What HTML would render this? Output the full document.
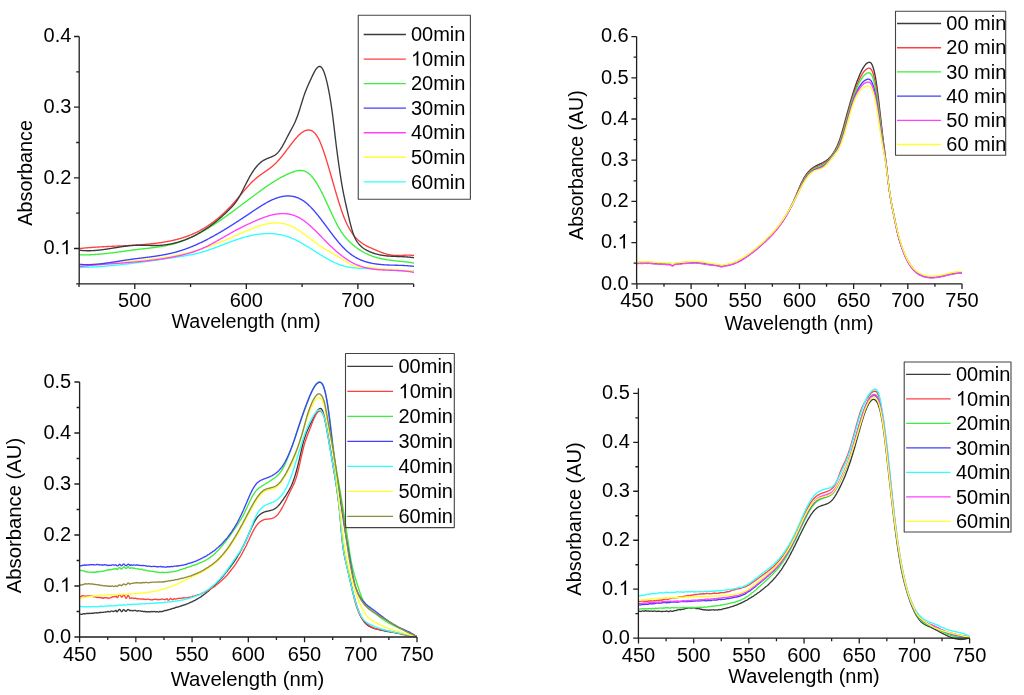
<!DOCTYPE html>
<html><head><meta charset="utf-8"><title>Absorbance spectra</title>
<style>
html,body{margin:0;padding:0;background:#fff;}
body{width:1024px;height:695px;overflow:hidden;}
svg{display:block;will-change:transform;}
text{font-family:"Liberation Sans", sans-serif;font-size:20px;fill:#000;}
.h{fill:transparent;}
</style></head><body>
<svg width="1024" height="695" viewBox="0 0 1024 695" stroke-linejoin="round" stroke-linecap="butt">
<rect width="1024" height="695" fill="#fff"/>
<g>
<path d="M79.5 267.5 80 267.49 80.5 267.48 81 267.47 81.5 267.46 82 267.44 82.5 267.43 83 267.41 83.5 267.4 84 267.38 84.5 267.37 85 267.35 85.5 267.33 86 267.31 86.5 267.29 87 267.27 87.5 267.25 88 267.23 88.5 267.21 89 267.19 89.5 267.16 90 267.14 90.5 267.12 91 267.09 91.5 267.07 92 267.04 92.5 267.01 93 266.99 93.5 266.96 94 266.93 94.5 266.9 95 266.87 95.5 266.84 96 266.81 96.5 266.78 97 266.75 97.5 266.72 98 266.68 98.5 266.65 99 266.62 99.5 266.58 100 266.55 100.5 266.51 101 266.47 101.5 266.44 102 266.4 102.5 266.36 103 266.32 103.5 266.29 104 266.25 104.5 266.21 105 266.17 105.5 266.13 106 266.09 106.5 266.04 107 266 107.5 265.96 108 265.92 108.5 265.87 109 265.83 109.5 265.78 110 265.74 110.5 265.69 111 265.65 111.5 265.6 112 265.55 112.5 265.51 113 265.46 113.5 265.41 114 265.36 114.5 265.31 115 265.27 115.5 265.22 116 265.17 116.5 265.11 117 265.06 117.5 265.01 118 264.96 118.5 264.91 119 264.86 119.5 264.8 120 264.75 120.5 264.7 121 264.64 121.5 264.59 122 264.53 122.5 264.48 123 264.42 123.5 264.37 124 264.31 124.5 264.25 125 264.19 125.5 264.14 126 264.08 126.5 264.02 127 263.96 127.5 263.9 128 263.85 128.5 263.79 129 263.73 129.5 263.67 130 263.61 130.5 263.55 131 263.48 131.5 263.42 132 263.36 132.5 263.3 133 263.24 133.5 263.17 134 263.11 134.5 263.05 135 262.99 135.5 262.92 136 262.86 136.5 262.79 137 262.73 137.5 262.67 138 262.6 138.5 262.54 139 262.47 139.5 262.4 140 262.34 140.5 262.27 141 262.21 141.5 262.14 142 262.07 142.5 262.01 143 261.94 143.5 261.87 144 261.8 144.5 261.73 145 261.67 145.5 261.6 146 261.53 146.5 261.46 147 261.39 147.5 261.32 148 261.25 148.5 261.18 149 261.12 149.5 261.05 150 260.98 150.5 260.91 151 260.83 151.5 260.76 152 260.69 152.5 260.62 153 260.55 153.5 260.48 154 260.41 154.5 260.34 155 260.27 155.5 260.2 156 260.12 156.5 260.05 157 259.98 157.5 259.91 158 259.84 158.5 259.76 159 259.69 159.5 259.62 160 259.55 160.5 259.47 161 259.4 161.5 259.33 162 259.26 162.5 259.18 163 259.11 163.5 259.04 164 258.96 164.5 258.89 165 258.82 165.5 258.74 166 258.67 166.5 258.6 167 258.52 167.5 258.45 168 258.38 168.5 258.3 169 258.23 169.5 258.16 170 258.08 170.5 258.01 171 257.93 171.5 257.86 172 257.79 172.5 257.71 173 257.64 173.5 257.57 174 257.49 174.5 257.42 175 257.35 175.5 257.27 176 257.2 176.5 257.12 177 257.05 177.5 256.98 178 256.9 178.5 256.83 179 256.75 179.5 256.68 180 256.6 180.5 256.53 181 256.45 181.5 256.37 182 256.29 182.5 256.22 183 256.14 183.5 256.06 184 255.98 184.5 255.89 185 255.81 185.5 255.73 186 255.64 186.5 255.56 187 255.47 187.5 255.38 188 255.29 188.5 255.2 189 255.11 189.5 255.02 190 254.93 190.5 254.83 191 254.73 191.5 254.64 192 254.53 192.5 254.43 193 254.33 193.5 254.22 194 254.12 194.5 254.01 195 253.9 195.5 253.78 196 253.67 196.5 253.55 197 253.43 197.5 253.31 198 253.19 198.5 253.07 199 252.94 199.5 252.81 200 252.68 200.5 252.54 201 252.41 201.5 252.27 202 252.12 202.5 251.98 203 251.83 203.5 251.68 204 251.53 204.5 251.38 205 251.22 205.5 251.07 206 250.91 206.5 250.75 207 250.58 207.5 250.42 208 250.25 208.5 250.08 209 249.91 209.5 249.74 210 249.57 210.5 249.4 211 249.22 211.5 249.04 212 248.86 212.5 248.68 213 248.5 213.5 248.32 214 248.14 214.5 247.95 215 247.77 215.5 247.58 216 247.4 216.5 247.21 217 247.02 217.5 246.83 218 246.64 218.5 246.45 219 246.26 219.5 246.07 220 245.88 220.5 245.69 221 245.5 221.5 245.3 222 245.11 222.5 244.92 223 244.73 223.5 244.53 224 244.34 224.5 244.15 225 243.96 225.5 243.76 226 243.57 226.5 243.38 227 243.19 227.5 243 228 242.81 228.5 242.62 229 242.43 229.5 242.24 230 242.06 230.5 241.87 231 241.68 231.5 241.5 232 241.32 232.5 241.13 233 240.95 233.5 240.77 234 240.59 234.5 240.41 235 240.24 235.5 240.06 236 239.89 236.5 239.71 237 239.54 237.5 239.37 238 239.21 238.5 239.04 239 238.88 239.5 238.71 240 238.55 240.5 238.39 241 238.24 241.5 238.08 242 237.93 242.5 237.78 243 237.63 243.5 237.48 244 237.34 244.5 237.2 245 237.06 245.5 236.92 246 236.79 246.5 236.65 247 236.52 247.5 236.39 248 236.27 248.5 236.14 249 236.02 249.5 235.9 250 235.79 250.5 235.67 251 235.56 251.5 235.45 252 235.35 252.5 235.25 253 235.15 253.5 235.05 254 234.95 254.5 234.86 255 234.77 255.5 234.69 256 234.6 256.5 234.52 257 234.45 257.5 234.37 258 234.3 258.5 234.23 259 234.17 259.5 234.1 260 234.05 260.5 233.99 261 233.94 261.5 233.89 262 233.84 262.5 233.8 263 233.76 263.5 233.72 264 233.69 264.5 233.66 265 233.64 265.5 233.62 266 233.6 266.5 233.58 267 233.57 267.5 233.56 268 233.56 268.5 233.56 269 233.56 269.5 233.57 270 233.58 270.5 233.6 271 233.61 271.5 233.64 272 233.66 272.5 233.69 273 233.73 273.5 233.77 274 233.81 274.5 233.86 275 233.91 275.5 233.96 276 234.02 276.5 234.09 277 234.15 277.5 234.23 278 234.3 278.5 234.38 279 234.47 279.5 234.56 280 234.65 280.5 234.75 281 234.85 281.5 234.96 282 235.07 282.5 235.19 283 235.31 283.5 235.43 284 235.56 284.5 235.7 285 235.84 285.5 235.98 286 236.13 286.5 236.29 287 236.45 287.5 236.61 288 236.78 288.5 236.96 289 237.14 289.5 237.32 290 237.51 290.5 237.7 291 237.9 291.5 238.11 292 238.32 292.5 238.53 293 238.75 293.5 238.97 294 239.2 294.5 239.43 295 239.67 295.5 239.91 296 240.15 296.5 240.4 297 240.65 297.5 240.9 298 241.16 298.5 241.42 299 241.69 299.5 241.96 300 242.23 300.5 242.5 301 242.78 301.5 243.06 302 243.35 302.5 243.63 303 243.92 303.5 244.21 304 244.5 304.5 244.8 305 245.1 305.5 245.39 306 245.7 306.5 246 307 246.3 307.5 246.61 308 246.92 308.5 247.22 309 247.53 309.5 247.85 310 248.16 310.5 248.47 311 248.78 311.5 249.1 312 249.41 312.5 249.73 313 250.05 313.5 250.36 314 250.68 314.5 251 315 251.31 315.5 251.63 316 251.95 316.5 252.26 317 252.58 317.5 252.89 318 253.21 318.5 253.52 319 253.83 319.5 254.14 320 254.46 320.5 254.76 321 255.07 321.5 255.38 322 255.69 322.5 255.99 323 256.29 323.5 256.59 324 256.89 324.5 257.19 325 257.48 325.5 257.77 326 258.06 326.5 258.35 327 258.63 327.5 258.92 328 259.2 328.5 259.47 329 259.75 329.5 260.02 330 260.28 330.5 260.55 331 260.81 331.5 261.07 332 261.32 332.5 261.57 333 261.82 333.5 262.06 334 262.3 334.5 262.53 335 262.76 335.5 262.99 336 263.21 336.5 263.43 337 263.64 337.5 263.85 338 264.05 338.5 264.25 339 264.44 339.5 264.63 340 264.81 340.5 264.99 341 265.16 341.5 265.32 342 265.48 342.5 265.64 343 265.79 343.5 265.93 344 266.07 344.5 266.2 345 266.33 345.5 266.45 346 266.56 346.5 266.67 347 266.78 347.5 266.88 348 266.98 348.5 267.07 349 267.16 349.5 267.24 350 267.32 350.5 267.4 351 267.47 351.5 267.54 352 267.61 352.5 267.67 353 267.73 353.5 267.78 354 267.83 354.5 267.88 355 267.93 355.5 267.97 356 268.02 356.5 268.05 357 268.09 357.5 268.12 358 268.16 358.5 268.19 359 268.22 359.5 268.24 360 268.27 360.5 268.29 361 268.31 361.5 268.34 362 268.36 362.5 268.37 363 268.39 363.5 268.41 364 268.43 364.5 268.45 365 268.46 365.5 268.48 366 268.49 366.5 268.51 367 268.53 367.5 268.55 368 268.56 368.5 268.58 369 268.6 369.5 268.62 370 268.64 370.5 268.66 371 268.68 371.5 268.71 372 268.73 372.5 268.76 373 268.78 373.5 268.81 374 268.84 374.5 268.87 375 268.89 375.5 268.92 376 268.96 376.5 268.99 377 269.02 377.5 269.05 378 269.09 378.5 269.12 379 269.15 379.5 269.19 380 269.23 380.5 269.26 381 269.3 381.5 269.34 382 269.38 382.5 269.42 383 269.46 383.5 269.5 384 269.54 384.5 269.58 385 269.62 385.5 269.66 386 269.71 386.5 269.75 387 269.79 387.5 269.83 388 269.88 388.5 269.92 389 269.96 389.5 270.01 390 270.05 390.5 270.09 391 270.14 391.5 270.18 392 270.22 392.5 270.26 393 270.3 393.5 270.35 394 270.39 394.5 270.43 395 270.47 395.5 270.51 396 270.54 396.5 270.58 397 270.62 397.5 270.65 398 270.69 398.5 270.72 399 270.75 399.5 270.79 400 270.82 400.5 270.85 401 270.87 401.5 270.9 402 270.93 402.5 270.95 403 270.97 403.5 270.99 404 271.01 404.5 271.03 405 271.05 405.5 271.06 406 271.08 406.5 271.09 407 271.1 407.5 271.11 408 271.11 408.5 271.11 409 271.12 409.5 271.12 410 271.11 410.5 271.11 411 271.1 411.5 271.09 412 271.08 412.5 271.07 413 271.05 413.5 271.03 414 271.01" stroke="#30ffff" stroke-width="1.35" fill="none"/>
<path d="M79.5 265.51 80 265.46 80.5 265.4 81 265.35 81.5 265.3 82 265.24 82.5 265.19 83 265.14 83.5 265.09 84 265.04 84.5 264.99 85 264.94 85.5 264.89 86 264.84 86.5 264.79 87 264.74 87.5 264.69 88 264.65 88.5 264.6 89 264.55 89.5 264.51 90 264.46 90.5 264.42 91 264.37 91.5 264.33 92 264.28 92.5 264.24 93 264.19 93.5 264.15 94 264.11 94.5 264.07 95 264.02 95.5 263.98 96 263.94 96.5 263.9 97 263.86 97.5 263.82 98 263.78 98.5 263.74 99 263.7 99.5 263.66 100 263.62 100.5 263.58 101 263.54 101.5 263.5 102 263.46 102.5 263.42 103 263.38 103.5 263.34 104 263.31 104.5 263.27 105 263.23 105.5 263.19 106 263.16 106.5 263.12 107 263.08 107.5 263.04 108 263.01 108.5 262.97 109 262.93 109.5 262.9 110 262.86 110.5 262.82 111 262.79 111.5 262.75 112 262.71 112.5 262.68 113 262.64 113.5 262.6 114 262.57 114.5 262.53 115 262.49 115.5 262.46 116 262.42 116.5 262.39 117 262.35 117.5 262.31 118 262.28 118.5 262.24 119 262.2 119.5 262.16 120 262.13 120.5 262.09 121 262.05 121.5 262.02 122 261.98 122.5 261.94 123 261.9 123.5 261.87 124 261.83 124.5 261.79 125 261.75 125.5 261.71 126 261.67 126.5 261.63 127 261.6 127.5 261.56 128 261.52 128.5 261.48 129 261.44 129.5 261.4 130 261.36 130.5 261.31 131 261.27 131.5 261.23 132 261.19 132.5 261.15 133 261.11 133.5 261.06 134 261.02 134.5 260.98 135 260.93 135.5 260.89 136 260.85 136.5 260.8 137 260.76 137.5 260.71 138 260.67 138.5 260.62 139 260.57 139.5 260.53 140 260.48 140.5 260.43 141 260.38 141.5 260.34 142 260.29 142.5 260.24 143 260.19 143.5 260.14 144 260.09 144.5 260.03 145 259.98 145.5 259.93 146 259.88 146.5 259.82 147 259.77 147.5 259.72 148 259.66 148.5 259.61 149 259.55 149.5 259.49 150 259.44 150.5 259.38 151 259.32 151.5 259.26 152 259.2 152.5 259.14 153 259.08 153.5 259.02 154 258.96 154.5 258.89 155 258.83 155.5 258.77 156 258.7 156.5 258.64 157 258.57 157.5 258.5 158 258.44 158.5 258.37 159 258.3 159.5 258.23 160 258.16 160.5 258.09 161 258.02 161.5 257.94 162 257.87 162.5 257.8 163 257.72 163.5 257.65 164 257.57 164.5 257.49 165 257.42 165.5 257.34 166 257.26 166.5 257.18 167 257.09 167.5 257.01 168 256.93 168.5 256.85 169 256.76 169.5 256.68 170 256.59 170.5 256.5 171 256.41 171.5 256.32 172 256.23 172.5 256.14 173 256.05 173.5 255.96 174 255.86 174.5 255.77 175 255.67 175.5 255.57 176 255.48 176.5 255.38 177 255.28 177.5 255.18 178 255.07 178.5 254.97 179 254.87 179.5 254.76 180 254.66 180.5 254.55 181 254.44 181.5 254.33 182 254.22 182.5 254.11 183 254 183.5 253.88 184 253.77 184.5 253.65 185 253.54 185.5 253.42 186 253.3 186.5 253.18 187 253.06 187.5 252.93 188 252.81 188.5 252.68 189 252.56 189.5 252.43 190 252.3 190.5 252.17 191 252.04 191.5 251.91 192 251.77 192.5 251.64 193 251.5 193.5 251.36 194 251.22 194.5 251.08 195 250.94 195.5 250.8 196 250.66 196.5 250.51 197 250.36 197.5 250.22 198 250.07 198.5 249.92 199 249.76 199.5 249.61 200 249.46 200.5 249.3 201 249.14 201.5 248.98 202 248.82 202.5 248.66 203 248.5 203.5 248.33 204 248.17 204.5 248 205 247.83 205.5 247.66 206 247.49 206.5 247.32 207 247.15 207.5 246.97 208 246.8 208.5 246.62 209 246.44 209.5 246.26 210 246.08 210.5 245.9 211 245.72 211.5 245.53 212 245.35 212.5 245.16 213 244.98 213.5 244.79 214 244.6 214.5 244.41 215 244.22 215.5 244.03 216 243.83 216.5 243.64 217 243.45 217.5 243.25 218 243.05 218.5 242.86 219 242.66 219.5 242.46 220 242.26 220.5 242.06 221 241.86 221.5 241.65 222 241.45 222.5 241.25 223 241.04 223.5 240.84 224 240.63 224.5 240.42 225 240.22 225.5 240.01 226 239.8 226.5 239.59 227 239.38 227.5 239.17 228 238.96 228.5 238.75 229 238.53 229.5 238.32 230 238.11 230.5 237.89 231 237.68 231.5 237.46 232 237.25 232.5 237.03 233 236.81 233.5 236.6 234 236.38 234.5 236.16 235 235.94 235.5 235.72 236 235.5 236.5 235.29 237 235.07 237.5 234.85 238 234.63 238.5 234.4 239 234.18 239.5 233.96 240 233.74 240.5 233.52 241 233.3 241.5 233.08 242 232.85 242.5 232.63 243 232.41 243.5 232.19 244 231.97 244.5 231.75 245 231.53 245.5 231.31 246 231.1 246.5 230.88 247 230.66 247.5 230.45 248 230.23 248.5 230.02 249 229.81 249.5 229.6 250 229.39 250.5 229.19 251 228.98 251.5 228.78 252 228.58 252.5 228.38 253 228.18 253.5 227.99 254 227.79 254.5 227.6 255 227.42 255.5 227.23 256 227.05 256.5 226.87 257 226.69 257.5 226.51 258 226.34 258.5 226.17 259 226.01 259.5 225.85 260 225.69 260.5 225.53 261 225.38 261.5 225.23 262 225.09 262.5 224.95 263 224.81 263.5 224.67 264 224.55 264.5 224.42 265 224.3 265.5 224.18 266 224.07 266.5 223.96 267 223.86 267.5 223.76 268 223.67 268.5 223.58 269 223.49 269.5 223.41 270 223.34 270.5 223.27 271 223.21 271.5 223.15 272 223.1 272.5 223.05 273 223.01 273.5 222.97 274 222.94 274.5 222.92 275 222.9 275.5 222.89 276 222.88 276.5 222.88 277 222.89 277.5 222.9 278 222.92 278.5 222.94 279 222.98 279.5 223.02 280 223.06 280.5 223.12 281 223.18 281.5 223.25 282 223.32 282.5 223.4 283 223.49 283.5 223.59 284 223.69 284.5 223.81 285 223.93 285.5 224.06 286 224.19 286.5 224.34 287 224.49 287.5 224.65 288 224.82 288.5 224.99 289 225.18 289.5 225.37 290 225.58 290.5 225.79 291 226.01 291.5 226.24 292 226.48 292.5 226.72 293 226.97 293.5 227.23 294 227.5 294.5 227.77 295 228.05 295.5 228.34 296 228.63 296.5 228.93 297 229.24 297.5 229.55 298 229.87 298.5 230.19 299 230.52 299.5 230.85 300 231.18 300.5 231.52 301 231.87 301.5 232.22 302 232.57 302.5 232.93 303 233.29 303.5 233.65 304 234.01 304.5 234.38 305 234.75 305.5 235.12 306 235.5 306.5 235.87 307 236.25 307.5 236.63 308 237.01 308.5 237.39 309 237.77 309.5 238.15 310 238.53 310.5 238.92 311 239.3 311.5 239.68 312 240.06 312.5 240.44 313 240.82 313.5 241.19 314 241.57 314.5 241.94 315 242.31 315.5 242.68 316 243.05 316.5 243.41 317 243.77 317.5 244.13 318 244.49 318.5 244.84 319 245.19 319.5 245.53 320 245.87 320.5 246.2 321 246.53 321.5 246.86 322 247.18 322.5 247.5 323 247.81 323.5 248.13 324 248.43 324.5 248.74 325 249.04 325.5 249.34 326 249.64 326.5 249.93 327 250.23 327.5 250.52 328 250.81 328.5 251.1 329 251.38 329.5 251.67 330 251.96 330.5 252.24 331 252.53 331.5 252.81 332 253.1 332.5 253.38 333 253.67 333.5 253.95 334 254.24 334.5 254.53 335 254.82 335.5 255.11 336 255.4 336.5 255.69 337 255.99 337.5 256.29 338 256.59 338.5 256.89 339 257.2 339.5 257.51 340 257.82 340.5 258.14 341 258.46 341.5 258.78 342 259.11 342.5 259.44 343 259.76 343.5 260.09 344 260.42 344.5 260.74 345 261.07 345.5 261.39 346 261.7 346.5 262.02 347 262.33 347.5 262.63 348 262.93 348.5 263.22 349 263.5 349.5 263.78 350 264.04 350.5 264.3 351 264.55 351.5 264.79 352 265.01 352.5 265.23 353 265.43 353.5 265.62 354 265.79 354.5 265.95 355 266.1 355.5 266.24 356 266.37 356.5 266.49 357 266.59 357.5 266.69 358 266.78 358.5 266.86 359 266.93 359.5 266.99 360 267.05 360.5 267.1 361 267.15 361.5 267.19 362 267.23 362.5 267.26 363 267.29 363.5 267.31 364 267.33 364.5 267.35 365 267.37 365.5 267.39 366 267.41 366.5 267.42 367 267.44 367.5 267.46 368 267.48 368.5 267.51 369 267.53 369.5 267.56 370 267.59 370.5 267.63 371 267.67 371.5 267.71 372 267.76 372.5 267.8 373 267.85 373.5 267.91 374 267.96 374.5 268.02 375 268.08 375.5 268.13 376 268.19 376.5 268.26 377 268.32 377.5 268.38 378 268.44 378.5 268.5 379 268.57 379.5 268.63 380 268.69 380.5 268.75 381 268.81 381.5 268.87 382 268.93 382.5 268.98 383 269.03 383.5 269.09 384 269.14 384.5 269.18 385 269.23 385.5 269.27 386 269.31 386.5 269.35 387 269.38 387.5 269.42 388 269.45 388.5 269.48 389 269.51 389.5 269.54 390 269.57 390.5 269.6 391 269.62 391.5 269.64 392 269.67 392.5 269.69 393 269.71 393.5 269.73 394 269.76 394.5 269.78 395 269.8 395.5 269.82 396 269.84 396.5 269.86 397 269.88 397.5 269.9 398 269.92 398.5 269.94 399 269.96 399.5 269.99 400 270.01 400.5 270.03 401 270.06 401.5 270.09 402 270.11 402.5 270.14 403 270.17 403.5 270.2 404 270.24 404.5 270.27 405 270.31 405.5 270.35 406 270.39 406.5 270.43 407 270.48 407.5 270.53 408 270.57 408.5 270.63 409 270.68 409.5 270.74 410 270.8 410.5 270.86 411 270.93 411.5 271 412 271.07 412.5 271.15 413 271.23 413.5 271.31 414 271.4" stroke="#ffff30" stroke-width="1.35" fill="none"/>
<path d="M79.5 266.5 80 266.45 80.5 266.39 81 266.34 81.5 266.28 82 266.23 82.5 266.18 83 266.12 83.5 266.07 84 266.02 84.5 265.97 85 265.92 85.5 265.87 86 265.82 86.5 265.77 87 265.72 87.5 265.67 88 265.63 88.5 265.58 89 265.53 89.5 265.49 90 265.44 90.5 265.4 91 265.35 91.5 265.31 92 265.26 92.5 265.22 93 265.18 93.5 265.13 94 265.09 94.5 265.05 95 265.01 95.5 264.96 96 264.92 96.5 264.88 97 264.84 97.5 264.8 98 264.76 98.5 264.72 99 264.68 99.5 264.64 100 264.6 100.5 264.57 101 264.53 101.5 264.49 102 264.45 102.5 264.41 103 264.38 103.5 264.34 104 264.3 104.5 264.26 105 264.23 105.5 264.19 106 264.15 106.5 264.12 107 264.08 107.5 264.04 108 264.01 108.5 263.97 109 263.94 109.5 263.9 110 263.87 110.5 263.83 111 263.79 111.5 263.76 112 263.72 112.5 263.69 113 263.65 113.5 263.62 114 263.58 114.5 263.55 115 263.51 115.5 263.48 116 263.44 116.5 263.4 117 263.37 117.5 263.33 118 263.3 118.5 263.26 119 263.23 119.5 263.19 120 263.15 120.5 263.12 121 263.08 121.5 263.05 122 263.01 122.5 262.97 123 262.94 123.5 262.9 124 262.86 124.5 262.82 125 262.79 125.5 262.75 126 262.71 126.5 262.67 127 262.63 127.5 262.6 128 262.56 128.5 262.52 129 262.48 129.5 262.44 130 262.4 130.5 262.36 131 262.32 131.5 262.28 132 262.24 132.5 262.2 133 262.15 133.5 262.11 134 262.07 134.5 262.03 135 261.98 135.5 261.94 136 261.9 136.5 261.85 137 261.81 137.5 261.76 138 261.72 138.5 261.67 139 261.63 139.5 261.58 140 261.53 140.5 261.48 141 261.44 141.5 261.39 142 261.34 142.5 261.29 143 261.24 143.5 261.19 144 261.14 144.5 261.08 145 261.03 145.5 260.98 146 260.93 146.5 260.87 147 260.82 147.5 260.76 148 260.71 148.5 260.65 149 260.59 149.5 260.54 150 260.48 150.5 260.42 151 260.36 151.5 260.3 152 260.24 152.5 260.18 153 260.12 153.5 260.05 154 259.99 154.5 259.93 155 259.86 155.5 259.8 156 259.73 156.5 259.66 157 259.59 157.5 259.53 158 259.46 158.5 259.39 159 259.31 159.5 259.24 160 259.17 160.5 259.1 161 259.02 161.5 258.95 162 258.87 162.5 258.79 163 258.72 163.5 258.64 164 258.56 164.5 258.48 165 258.4 165.5 258.32 166 258.23 166.5 258.15 167 258.06 167.5 257.98 168 257.89 168.5 257.8 169 257.72 169.5 257.63 170 257.54 170.5 257.44 171 257.35 171.5 257.26 172 257.16 172.5 257.07 173 256.97 173.5 256.87 174 256.77 174.5 256.67 175 256.57 175.5 256.47 176 256.37 176.5 256.26 177 256.16 177.5 256.05 178 255.95 178.5 255.84 179 255.73 179.5 255.62 180 255.5 180.5 255.39 181 255.28 181.5 255.16 182 255.04 182.5 254.92 183 254.8 183.5 254.68 184 254.56 184.5 254.43 185 254.31 185.5 254.18 186 254.05 186.5 253.91 187 253.78 187.5 253.64 188 253.5 188.5 253.36 189 253.22 189.5 253.08 190 252.93 190.5 252.78 191 252.63 191.5 252.48 192 252.32 192.5 252.16 193 252 193.5 251.84 194 251.67 194.5 251.5 195 251.33 195.5 251.15 196 250.98 196.5 250.8 197 250.61 197.5 250.43 198 250.24 198.5 250.05 199 249.85 199.5 249.65 200 249.45 200.5 249.24 201 249.04 201.5 248.82 202 248.61 202.5 248.39 203 248.17 203.5 247.94 204 247.72 204.5 247.49 205 247.25 205.5 247.02 206 246.78 206.5 246.54 207 246.29 207.5 246.04 208 245.8 208.5 245.54 209 245.29 209.5 245.03 210 244.78 210.5 244.52 211 244.25 211.5 243.99 212 243.72 212.5 243.46 213 243.19 213.5 242.92 214 242.64 214.5 242.37 215 242.09 215.5 241.82 216 241.54 216.5 241.26 217 240.98 217.5 240.7 218 240.41 218.5 240.13 219 239.85 219.5 239.56 220 239.28 220.5 238.99 221 238.7 221.5 238.42 222 238.13 222.5 237.84 223 237.55 223.5 237.26 224 236.97 224.5 236.68 225 236.4 225.5 236.11 226 235.82 226.5 235.53 227 235.24 227.5 234.95 228 234.67 228.5 234.38 229 234.09 229.5 233.81 230 233.52 230.5 233.24 231 232.96 231.5 232.67 232 232.39 232.5 232.11 233 231.83 233.5 231.56 234 231.28 234.5 231.01 235 230.73 235.5 230.46 236 230.19 236.5 229.92 237 229.65 237.5 229.39 238 229.13 238.5 228.86 239 228.61 239.5 228.35 240 228.09 240.5 227.84 241 227.59 241.5 227.34 242 227.09 242.5 226.85 243 226.61 243.5 226.36 244 226.12 244.5 225.88 245 225.65 245.5 225.41 246 225.18 246.5 224.94 247 224.71 247.5 224.48 248 224.24 248.5 224.01 249 223.78 249.5 223.55 250 223.33 250.5 223.1 251 222.87 251.5 222.64 252 222.41 252.5 222.19 253 221.96 253.5 221.74 254 221.51 254.5 221.29 255 221.07 255.5 220.85 256 220.63 256.5 220.41 257 220.2 257.5 219.98 258 219.77 258.5 219.56 259 219.35 259.5 219.15 260 218.94 260.5 218.74 261 218.54 261.5 218.35 262 218.15 262.5 217.96 263 217.77 263.5 217.59 264 217.4 264.5 217.22 265 217.05 265.5 216.87 266 216.7 266.5 216.53 267 216.37 267.5 216.21 268 216.06 268.5 215.9 269 215.76 269.5 215.61 270 215.47 270.5 215.33 271 215.2 271.5 215.08 272 214.95 272.5 214.83 273 214.72 273.5 214.61 274 214.51 274.5 214.41 275 214.32 275.5 214.23 276 214.14 276.5 214.07 277 213.99 277.5 213.93 278 213.86 278.5 213.81 279 213.76 279.5 213.71 280 213.68 280.5 213.64 281 213.62 281.5 213.6 282 213.59 282.5 213.58 283 213.58 283.5 213.59 284 213.6 284.5 213.62 285 213.65 285.5 213.68 286 213.73 286.5 213.77 287 213.83 287.5 213.89 288 213.97 288.5 214.04 289 214.13 289.5 214.23 290 214.33 290.5 214.44 291 214.56 291.5 214.69 292 214.82 292.5 214.97 293 215.12 293.5 215.28 294 215.45 294.5 215.63 295 215.81 295.5 216.01 296 216.22 296.5 216.43 297 216.65 297.5 216.89 298 217.13 298.5 217.38 299 217.65 299.5 217.92 300 218.2 300.5 218.49 301 218.79 301.5 219.1 302 219.42 302.5 219.75 303 220.09 303.5 220.44 304 220.8 304.5 221.16 305 221.53 305.5 221.91 306 222.3 306.5 222.69 307 223.1 307.5 223.5 308 223.92 308.5 224.34 309 224.77 309.5 225.2 310 225.64 310.5 226.09 311 226.54 311.5 227 312 227.46 312.5 227.92 313 228.39 313.5 228.87 314 229.34 314.5 229.82 315 230.31 315.5 230.8 316 231.29 316.5 231.79 317 232.28 317.5 232.78 318 233.28 318.5 233.79 319 234.29 319.5 234.8 320 235.31 320.5 235.82 321 236.33 321.5 236.84 322 237.35 322.5 237.86 323 238.37 323.5 238.89 324 239.4 324.5 239.91 325 240.42 325.5 240.92 326 241.43 326.5 241.93 327 242.44 327.5 242.94 328 243.44 328.5 243.93 329 244.43 329.5 244.92 330 245.41 330.5 245.89 331 246.37 331.5 246.85 332 247.32 332.5 247.79 333 248.26 333.5 248.72 334 249.18 334.5 249.63 335 250.08 335.5 250.52 336 250.97 336.5 251.4 337 251.84 337.5 252.26 338 252.69 338.5 253.11 339 253.52 339.5 253.93 340 254.34 340.5 254.74 341 255.14 341.5 255.53 342 255.91 342.5 256.29 343 256.67 343.5 257.04 344 257.41 344.5 257.77 345 258.12 345.5 258.47 346 258.82 346.5 259.16 347 259.49 347.5 259.82 348 260.14 348.5 260.45 349 260.76 349.5 261.07 350 261.37 350.5 261.66 351 261.94 351.5 262.22 352 262.5 352.5 262.77 353 263.03 353.5 263.28 354 263.53 354.5 263.77 355 264.01 355.5 264.24 356 264.46 356.5 264.68 357 264.89 357.5 265.1 358 265.3 358.5 265.49 359 265.68 359.5 265.86 360 266.04 360.5 266.22 361 266.38 361.5 266.55 362 266.71 362.5 266.86 363 267.01 363.5 267.15 364 267.29 364.5 267.42 365 267.55 365.5 267.68 366 267.8 366.5 267.92 367 268.03 367.5 268.14 368 268.24 368.5 268.34 369 268.44 369.5 268.53 370 268.62 370.5 268.71 371 268.79 371.5 268.87 372 268.94 372.5 269.02 373 269.09 373.5 269.15 374 269.22 374.5 269.28 375 269.34 375.5 269.39 376 269.44 376.5 269.49 377 269.54 377.5 269.59 378 269.63 378.5 269.67 379 269.71 379.5 269.75 380 269.78 380.5 269.82 381 269.85 381.5 269.88 382 269.91 382.5 269.93 383 269.96 383.5 269.98 384 270.01 384.5 270.03 385 270.05 385.5 270.07 386 270.09 386.5 270.11 387 270.12 387.5 270.14 388 270.16 388.5 270.17 389 270.19 389.5 270.21 390 270.22 390.5 270.24 391 270.25 391.5 270.27 392 270.28 392.5 270.3 393 270.31 393.5 270.33 394 270.35 394.5 270.37 395 270.38 395.5 270.4 396 270.42 396.5 270.44 397 270.47 397.5 270.49 398 270.51 398.5 270.54 399 270.57 399.5 270.6 400 270.63 400.5 270.66 401 270.69 401.5 270.73 402 270.76 402.5 270.8 403 270.84 403.5 270.89 404 270.93 404.5 270.98 405 271.03 405.5 271.08 406 271.14 406.5 271.2 407 271.26 407.5 271.32 408 271.39 408.5 271.46 409 271.53 409.5 271.61 410 271.69 410.5 271.77 411 271.86 411.5 271.95 412 272.04 412.5 272.14 413 272.24 413.5 272.34 414 272.45" stroke="#ff40ff" stroke-width="1.35" fill="none"/>
<path d="M79.5 264.33 80 264.37 80.5 264.41 81 264.45 81.5 264.48 82 264.51 82.5 264.54 83 264.56 83.5 264.58 84 264.6 84.5 264.61 85 264.63 85.5 264.64 86 264.64 86.5 264.65 87 264.65 87.5 264.65 88 264.64 88.5 264.64 89 264.63 89.5 264.62 90 264.6 90.5 264.59 91 264.57 91.5 264.55 92 264.53 92.5 264.5 93 264.47 93.5 264.45 94 264.41 94.5 264.38 95 264.35 95.5 264.31 96 264.27 96.5 264.23 97 264.19 97.5 264.14 98 264.1 98.5 264.05 99 264 99.5 263.95 100 263.89 100.5 263.84 101 263.78 101.5 263.73 102 263.67 102.5 263.61 103 263.55 103.5 263.49 104 263.42 104.5 263.36 105 263.29 105.5 263.23 106 263.16 106.5 263.09 107 263.02 107.5 262.95 108 262.88 108.5 262.8 109 262.73 109.5 262.66 110 262.58 110.5 262.51 111 262.43 111.5 262.35 112 262.28 112.5 262.2 113 262.12 113.5 262.04 114 261.96 114.5 261.88 115 261.8 115.5 261.72 116 261.64 116.5 261.56 117 261.48 117.5 261.4 118 261.32 118.5 261.24 119 261.16 119.5 261.08 120 261 120.5 260.92 121 260.84 121.5 260.76 122 260.68 122.5 260.6 123 260.52 123.5 260.44 124 260.37 124.5 260.29 125 260.21 125.5 260.14 126 260.06 126.5 259.99 127 259.91 127.5 259.84 128 259.77 128.5 259.69 129 259.62 129.5 259.55 130 259.48 130.5 259.41 131 259.35 131.5 259.28 132 259.21 132.5 259.14 133 259.08 133.5 259.01 134 258.95 134.5 258.88 135 258.82 135.5 258.76 136 258.69 136.5 258.63 137 258.57 137.5 258.51 138 258.44 138.5 258.38 139 258.32 139.5 258.26 140 258.2 140.5 258.13 141 258.07 141.5 258.01 142 257.95 142.5 257.89 143 257.83 143.5 257.76 144 257.7 144.5 257.64 145 257.58 145.5 257.52 146 257.45 146.5 257.39 147 257.33 147.5 257.26 148 257.2 148.5 257.13 149 257.07 149.5 257 150 256.94 150.5 256.87 151 256.8 151.5 256.74 152 256.67 152.5 256.6 153 256.53 153.5 256.46 154 256.39 154.5 256.31 155 256.24 155.5 256.17 156 256.09 156.5 256.02 157 255.94 157.5 255.86 158 255.78 158.5 255.71 159 255.62 159.5 255.54 160 255.46 160.5 255.38 161 255.29 161.5 255.2 162 255.12 162.5 255.03 163 254.94 163.5 254.85 164 254.75 164.5 254.66 165 254.56 165.5 254.47 166 254.37 166.5 254.27 167 254.16 167.5 254.06 168 253.96 168.5 253.85 169 253.74 169.5 253.63 170 253.52 170.5 253.4 171 253.29 171.5 253.17 172 253.05 172.5 252.93 173 252.81 173.5 252.68 174 252.56 174.5 252.43 175 252.29 175.5 252.16 176 252.03 176.5 251.89 177 251.75 177.5 251.61 178 251.46 178.5 251.32 179 251.17 179.5 251.02 180 250.86 180.5 250.71 181 250.55 181.5 250.39 182 250.23 182.5 250.06 183 249.9 183.5 249.73 184 249.55 184.5 249.38 185 249.21 185.5 249.03 186 248.85 186.5 248.67 187 248.48 187.5 248.29 188 248.11 188.5 247.92 189 247.72 189.5 247.53 190 247.33 190.5 247.13 191 246.93 191.5 246.73 192 246.52 192.5 246.32 193 246.11 193.5 245.9 194 245.69 194.5 245.47 195 245.26 195.5 245.04 196 244.82 196.5 244.6 197 244.37 197.5 244.15 198 243.92 198.5 243.69 199 243.46 199.5 243.23 200 242.99 200.5 242.76 201 242.52 201.5 242.28 202 242.04 202.5 241.79 203 241.55 203.5 241.3 204 241.06 204.5 240.81 205 240.56 205.5 240.3 206 240.05 206.5 239.79 207 239.54 207.5 239.28 208 239.02 208.5 238.76 209 238.49 209.5 238.23 210 237.96 210.5 237.69 211 237.43 211.5 237.16 212 236.88 212.5 236.61 213 236.34 213.5 236.06 214 235.78 214.5 235.5 215 235.22 215.5 234.94 216 234.66 216.5 234.38 217 234.09 217.5 233.81 218 233.52 218.5 233.23 219 232.94 219.5 232.65 220 232.36 220.5 232.06 221 231.77 221.5 231.47 222 231.18 222.5 230.88 223 230.58 223.5 230.28 224 229.98 224.5 229.68 225 229.37 225.5 229.07 226 228.77 226.5 228.46 227 228.15 227.5 227.84 228 227.54 228.5 227.23 229 226.92 229.5 226.6 230 226.29 230.5 225.98 231 225.66 231.5 225.35 232 225.03 232.5 224.72 233 224.4 233.5 224.08 234 223.76 234.5 223.44 235 223.12 235.5 222.8 236 222.48 236.5 222.16 237 221.83 237.5 221.51 238 221.19 238.5 220.86 239 220.53 239.5 220.21 240 219.88 240.5 219.55 241 219.23 241.5 218.9 242 218.57 242.5 218.24 243 217.91 243.5 217.58 244 217.25 244.5 216.92 245 216.58 245.5 216.25 246 215.92 246.5 215.59 247 215.25 247.5 214.92 248 214.58 248.5 214.25 249 213.91 249.5 213.58 250 213.24 250.5 212.91 251 212.57 251.5 212.24 252 211.9 252.5 211.56 253 211.23 253.5 210.89 254 210.56 254.5 210.23 255 209.89 255.5 209.56 256 209.23 256.5 208.9 257 208.57 257.5 208.25 258 207.92 258.5 207.6 259 207.28 259.5 206.96 260 206.64 260.5 206.32 261 206.01 261.5 205.7 262 205.39 262.5 205.08 263 204.78 263.5 204.48 264 204.18 264.5 203.89 265 203.6 265.5 203.31 266 203.03 266.5 202.75 267 202.47 267.5 202.2 268 201.93 268.5 201.67 269 201.41 269.5 201.16 270 200.91 270.5 200.66 271 200.42 271.5 200.18 272 199.95 272.5 199.72 273 199.5 273.5 199.29 274 199.08 274.5 198.87 275 198.68 275.5 198.48 276 198.3 276.5 198.12 277 197.94 277.5 197.77 278 197.61 278.5 197.46 279 197.31 279.5 197.17 280 197.03 280.5 196.91 281 196.79 281.5 196.68 282 196.57 282.5 196.47 283 196.38 283.5 196.3 284 196.23 284.5 196.16 285 196.1 285.5 196.06 286 196.02 286.5 195.98 287 195.96 287.5 195.95 288 195.94 288.5 195.94 289 195.96 289.5 195.98 290 196.01 290.5 196.05 291 196.1 291.5 196.16 292 196.23 292.5 196.31 293 196.41 293.5 196.51 294 196.62 294.5 196.74 295 196.87 295.5 197.02 296 197.17 296.5 197.34 297 197.52 297.5 197.7 298 197.9 298.5 198.12 299 198.34 299.5 198.57 300 198.82 300.5 199.08 301 199.35 301.5 199.63 302 199.93 302.5 200.24 303 200.56 303.5 200.89 304 201.24 304.5 201.6 305 201.97 305.5 202.36 306 202.76 306.5 203.17 307 203.59 307.5 204.03 308 204.48 308.5 204.94 309 205.41 309.5 205.89 310 206.38 310.5 206.88 311 207.4 311.5 207.92 312 208.45 312.5 208.99 313 209.54 313.5 210.1 314 210.66 314.5 211.24 315 211.82 315.5 212.41 316 213 316.5 213.61 317 214.22 317.5 214.83 318 215.45 318.5 216.08 319 216.71 319.5 217.35 320 217.99 320.5 218.63 321 219.28 321.5 219.94 322 220.59 322.5 221.25 323 221.92 323.5 222.58 324 223.25 324.5 223.92 325 224.59 325.5 225.26 326 225.93 326.5 226.61 327 227.28 327.5 227.95 328 228.63 328.5 229.3 329 229.98 329.5 230.65 330 231.32 330.5 231.99 331 232.65 331.5 233.32 332 233.98 332.5 234.64 333 235.29 333.5 235.95 334 236.59 334.5 237.24 335 237.88 335.5 238.51 336 239.14 336.5 239.77 337 240.39 337.5 241 338 241.61 338.5 242.21 339 242.81 339.5 243.39 340 243.97 340.5 244.55 341 245.11 341.5 245.67 342 246.21 342.5 246.75 343 247.28 343.5 247.8 344 248.31 344.5 248.81 345 249.3 345.5 249.78 346 250.25 346.5 250.71 347 251.15 347.5 251.59 348 252.02 348.5 252.44 349 252.84 349.5 253.24 350 253.63 350.5 254.01 351 254.38 351.5 254.74 352 255.09 352.5 255.44 353 255.77 353.5 256.1 354 256.42 354.5 256.73 355 257.03 355.5 257.32 356 257.6 356.5 257.88 357 258.15 357.5 258.41 358 258.67 358.5 258.91 359 259.15 359.5 259.39 360 259.61 360.5 259.83 361 260.05 361.5 260.25 362 260.45 362.5 260.64 363 260.83 363.5 261.01 364 261.19 364.5 261.36 365 261.52 365.5 261.68 366 261.83 366.5 261.98 367 262.12 367.5 262.26 368 262.39 368.5 262.52 369 262.65 369.5 262.77 370 262.88 370.5 262.99 371 263.1 371.5 263.2 372 263.3 372.5 263.39 373 263.49 373.5 263.57 374 263.66 374.5 263.74 375 263.82 375.5 263.89 376 263.97 376.5 264.04 377 264.1 377.5 264.17 378 264.23 378.5 264.28 379 264.34 379.5 264.39 380 264.44 380.5 264.49 381 264.54 381.5 264.58 382 264.62 382.5 264.66 383 264.7 383.5 264.74 384 264.77 384.5 264.8 385 264.83 385.5 264.86 386 264.89 386.5 264.92 387 264.94 387.5 264.96 388 264.99 388.5 265.01 389 265.03 389.5 265.05 390 265.06 390.5 265.08 391 265.1 391.5 265.11 392 265.13 392.5 265.14 393 265.16 393.5 265.17 394 265.19 394.5 265.2 395 265.21 395.5 265.23 396 265.24 396.5 265.25 397 265.27 397.5 265.28 398 265.3 398.5 265.31 399 265.33 399.5 265.34 400 265.36 400.5 265.38 401 265.39 401.5 265.41 402 265.43 402.5 265.45 403 265.48 403.5 265.5 404 265.52 404.5 265.55 405 265.58 405.5 265.6 406 265.63 406.5 265.67 407 265.7 407.5 265.74 408 265.77 408.5 265.81 409 265.85 409.5 265.9 410 265.94 410.5 265.99 411 266.04 411.5 266.09 412 266.15 412.5 266.2 413 266.26 413.5 266.33 414 266.39" stroke="#4040ff" stroke-width="1.35" fill="none"/>
<path d="M79.5 254.8 80 254.82 80.5 254.83 81 254.84 81.5 254.85 82 254.86 82.5 254.87 83 254.87 83.5 254.88 84 254.88 84.5 254.88 85 254.87 85.5 254.87 86 254.86 86.5 254.86 87 254.85 87.5 254.84 88 254.83 88.5 254.81 89 254.8 89.5 254.78 90 254.76 90.5 254.74 91 254.72 91.5 254.7 92 254.68 92.5 254.65 93 254.62 93.5 254.6 94 254.57 94.5 254.54 95 254.51 95.5 254.47 96 254.44 96.5 254.4 97 254.37 97.5 254.33 98 254.29 98.5 254.25 99 254.21 99.5 254.17 100 254.12 100.5 254.08 101 254.03 101.5 253.99 102 253.94 102.5 253.89 103 253.84 103.5 253.8 104 253.74 104.5 253.69 105 253.64 105.5 253.59 106 253.53 106.5 253.48 107 253.42 107.5 253.37 108 253.31 108.5 253.25 109 253.19 109.5 253.14 110 253.08 110.5 253.02 111 252.95 111.5 252.89 112 252.83 112.5 252.77 113 252.71 113.5 252.64 114 252.58 114.5 252.52 115 252.45 115.5 252.39 116 252.32 116.5 252.26 117 252.19 117.5 252.12 118 252.06 118.5 251.99 119 251.92 119.5 251.86 120 251.79 120.5 251.72 121 251.65 121.5 251.58 122 251.52 122.5 251.45 123 251.38 123.5 251.31 124 251.24 124.5 251.18 125 251.11 125.5 251.04 126 250.97 126.5 250.9 127 250.84 127.5 250.77 128 250.7 128.5 250.63 129 250.57 129.5 250.5 130 250.43 130.5 250.37 131 250.3 131.5 250.23 132 250.17 132.5 250.1 133 250.04 133.5 249.97 134 249.91 134.5 249.84 135 249.78 135.5 249.72 136 249.66 136.5 249.59 137 249.53 137.5 249.47 138 249.41 138.5 249.35 139 249.29 139.5 249.23 140 249.18 140.5 249.12 141 249.06 141.5 249 142 248.95 142.5 248.89 143 248.83 143.5 248.78 144 248.72 144.5 248.66 145 248.61 145.5 248.55 146 248.49 146.5 248.44 147 248.38 147.5 248.32 148 248.26 148.5 248.21 149 248.15 149.5 248.09 150 248.03 150.5 247.97 151 247.91 151.5 247.85 152 247.79 152.5 247.73 153 247.66 153.5 247.6 154 247.53 154.5 247.47 155 247.4 155.5 247.33 156 247.27 156.5 247.2 157 247.13 157.5 247.05 158 246.98 158.5 246.91 159 246.83 159.5 246.76 160 246.68 160.5 246.6 161 246.52 161.5 246.43 162 246.35 162.5 246.27 163 246.18 163.5 246.09 164 246 164.5 245.91 165 245.81 165.5 245.72 166 245.62 166.5 245.52 167 245.42 167.5 245.31 168 245.21 168.5 245.1 169 244.99 169.5 244.88 170 244.76 170.5 244.65 171 244.53 171.5 244.41 172 244.28 172.5 244.16 173 244.03 173.5 243.9 174 243.76 174.5 243.62 175 243.49 175.5 243.34 176 243.2 176.5 243.05 177 242.9 177.5 242.75 178 242.59 178.5 242.43 179 242.27 179.5 242.1 180 241.93 180.5 241.76 181 241.59 181.5 241.41 182 241.23 182.5 241.05 183 240.86 183.5 240.67 184 240.48 184.5 240.28 185 240.09 185.5 239.88 186 239.68 186.5 239.47 187 239.27 187.5 239.05 188 238.84 188.5 238.62 189 238.4 189.5 238.18 190 237.95 190.5 237.73 191 237.5 191.5 237.26 192 237.03 192.5 236.79 193 236.55 193.5 236.31 194 236.06 194.5 235.81 195 235.56 195.5 235.31 196 235.06 196.5 234.8 197 234.54 197.5 234.28 198 234.02 198.5 233.75 199 233.48 199.5 233.21 200 232.94 200.5 232.66 201 232.39 201.5 232.11 202 231.83 202.5 231.54 203 231.26 203.5 230.97 204 230.68 204.5 230.39 205 230.1 205.5 229.8 206 229.5 206.5 229.2 207 228.9 207.5 228.6 208 228.3 208.5 227.99 209 227.68 209.5 227.37 210 227.06 210.5 226.75 211 226.43 211.5 226.12 212 225.8 212.5 225.48 213 225.16 213.5 224.84 214 224.51 214.5 224.19 215 223.86 215.5 223.53 216 223.2 216.5 222.87 217 222.53 217.5 222.2 218 221.86 218.5 221.53 219 221.19 219.5 220.85 220 220.51 220.5 220.16 221 219.82 221.5 219.48 222 219.13 222.5 218.78 223 218.43 223.5 218.09 224 217.73 224.5 217.38 225 217.03 225.5 216.68 226 216.32 226.5 215.97 227 215.61 227.5 215.25 228 214.89 228.5 214.53 229 214.17 229.5 213.81 230 213.45 230.5 213.09 231 212.73 231.5 212.36 232 212 232.5 211.63 233 211.26 233.5 210.9 234 210.53 234.5 210.16 235 209.79 235.5 209.42 236 209.05 236.5 208.68 237 208.31 237.5 207.94 238 207.57 238.5 207.19 239 206.82 239.5 206.45 240 206.07 240.5 205.7 241 205.33 241.5 204.95 242 204.58 242.5 204.2 243 203.82 243.5 203.45 244 203.07 244.5 202.7 245 202.32 245.5 201.94 246 201.57 246.5 201.19 247 200.81 247.5 200.44 248 200.06 248.5 199.68 249 199.31 249.5 198.93 250 198.55 250.5 198.18 251 197.8 251.5 197.42 252 197.05 252.5 196.67 253 196.3 253.5 195.92 254 195.55 254.5 195.17 255 194.8 255.5 194.43 256 194.05 256.5 193.68 257 193.31 257.5 192.94 258 192.57 258.5 192.21 259 191.84 259.5 191.47 260 191.11 260.5 190.74 261 190.38 261.5 190.02 262 189.66 262.5 189.3 263 188.94 263.5 188.59 264 188.23 264.5 187.88 265 187.53 265.5 187.18 266 186.83 266.5 186.48 267 186.14 267.5 185.8 268 185.45 268.5 185.12 269 184.78 269.5 184.44 270 184.11 270.5 183.78 271 183.45 271.5 183.13 272 182.8 272.5 182.48 273 182.16 273.5 181.85 274 181.53 274.5 181.22 275 180.91 275.5 180.61 276 180.3 276.5 180 277 179.71 277.5 179.41 278 179.12 278.5 178.83 279 178.54 279.5 178.26 280 177.98 280.5 177.71 281 177.43 281.5 177.16 282 176.9 282.5 176.63 283 176.37 283.5 176.12 284 175.87 284.5 175.62 285 175.37 285.5 175.13 286 174.89 286.5 174.66 287 174.43 287.5 174.2 288 173.98 288.5 173.76 289 173.55 289.5 173.34 290 173.13 290.5 172.93 291 172.73 291.5 172.54 292 172.35 292.5 172.17 293 171.99 293.5 171.82 294 171.65 294.5 171.5 295 171.35 295.5 171.2 296 171.07 296.5 170.95 297 170.84 297.5 170.75 298 170.66 298.5 170.6 299 170.54 299.5 170.5 300 170.48 300.5 170.47 301 170.48 301.5 170.51 302 170.56 302.5 170.63 303 170.72 303.5 170.83 304 170.96 304.5 171.12 305 171.3 305.5 171.5 306 171.73 306.5 171.99 307 172.27 307.5 172.58 308 172.92 308.5 173.29 309 173.69 309.5 174.12 310 174.58 310.5 175.07 311 175.58 311.5 176.13 312 176.7 312.5 177.3 313 177.92 313.5 178.57 314 179.24 314.5 179.94 315 180.66 315.5 181.4 316 182.17 316.5 182.96 317 183.77 317.5 184.6 318 185.45 318.5 186.32 319 187.21 319.5 188.12 320 189.05 320.5 189.99 321 190.95 321.5 191.92 322 192.91 322.5 193.91 323 194.93 323.5 195.95 324 196.99 324.5 198.04 325 199.09 325.5 200.15 326 201.22 326.5 202.3 327 203.38 327.5 204.46 328 205.55 328.5 206.63 329 207.72 329.5 208.81 330 209.9 330.5 210.98 331 212.06 331.5 213.14 332 214.21 332.5 215.28 333 216.33 333.5 217.38 334 218.42 334.5 219.45 335 220.46 335.5 221.47 336 222.46 336.5 223.43 337 224.38 337.5 225.32 338 226.24 338.5 227.14 339 228.02 339.5 228.88 340 229.71 340.5 230.52 341 231.3 341.5 232.06 342 232.8 342.5 233.52 343 234.21 343.5 234.88 344 235.54 344.5 236.17 345 236.79 345.5 237.39 346 237.97 346.5 238.54 347 239.09 347.5 239.63 348 240.16 348.5 240.67 349 241.18 349.5 241.67 350 242.15 350.5 242.63 351 243.09 351.5 243.55 352 244 352.5 244.44 353 244.87 353.5 245.3 354 245.71 354.5 246.12 355 246.52 355.5 246.91 356 247.3 356.5 247.68 357 248.04 357.5 248.41 358 248.76 358.5 249.11 359 249.45 359.5 249.78 360 250.11 360.5 250.43 361 250.74 361.5 251.04 362 251.34 362.5 251.63 363 251.92 363.5 252.2 364 252.47 364.5 252.74 365 253 365.5 253.25 366 253.5 366.5 253.74 367 253.98 367.5 254.21 368 254.44 368.5 254.66 369 254.87 369.5 255.08 370 255.28 370.5 255.48 371 255.68 371.5 255.86 372 256.05 372.5 256.23 373 256.4 373.5 256.57 374 256.74 374.5 256.9 375 257.05 375.5 257.2 376 257.35 376.5 257.5 377 257.64 377.5 257.77 378 257.9 378.5 258.03 379 258.16 379.5 258.28 380 258.39 380.5 258.51 381 258.62 381.5 258.73 382 258.83 382.5 258.93 383 259.03 383.5 259.13 384 259.22 384.5 259.31 385 259.4 385.5 259.48 386 259.57 386.5 259.65 387 259.72 387.5 259.8 388 259.87 388.5 259.95 389 260.02 389.5 260.08 390 260.15 390.5 260.22 391 260.28 391.5 260.34 392 260.4 392.5 260.46 393 260.52 393.5 260.58 394 260.63 394.5 260.69 395 260.74 395.5 260.8 396 260.85 396.5 260.9 397 260.95 397.5 261.01 398 261.06 398.5 261.11 399 261.16 399.5 261.21 400 261.26 400.5 261.31 401 261.37 401.5 261.42 402 261.47 402.5 261.52 403 261.58 403.5 261.63 404 261.69 404.5 261.74 405 261.8 405.5 261.86 406 261.92 406.5 261.98 407 262.04 407.5 262.1 408 262.17 408.5 262.23 409 262.3 409.5 262.37 410 262.44 410.5 262.51 411 262.59 411.5 262.67 412 262.75 412.5 262.83 413 262.91 413.5 263 414 263.09" stroke="#3af03a" stroke-width="1.35" fill="none"/>
<path d="M79.5 248.53 80 248.47 80.5 248.42 81 248.37 81.5 248.32 82 248.27 82.5 248.22 83 248.17 83.5 248.12 84 248.08 84.5 248.03 85 247.98 85.5 247.94 86 247.9 86.5 247.85 87 247.81 87.5 247.77 88 247.73 88.5 247.69 89 247.65 89.5 247.61 90 247.57 90.5 247.53 91 247.49 91.5 247.46 92 247.42 92.5 247.38 93 247.35 93.5 247.32 94 247.28 94.5 247.25 95 247.21 95.5 247.18 96 247.15 96.5 247.12 97 247.09 97.5 247.06 98 247.03 98.5 247 99 246.97 99.5 246.94 100 246.91 100.5 246.88 101 246.85 101.5 246.83 102 246.8 102.5 246.77 103 246.75 103.5 246.72 104 246.69 104.5 246.67 105 246.64 105.5 246.62 106 246.59 106.5 246.57 107 246.54 107.5 246.52 108 246.49 108.5 246.47 109 246.45 109.5 246.42 110 246.4 110.5 246.38 111 246.35 111.5 246.33 112 246.31 112.5 246.28 113 246.26 113.5 246.24 114 246.22 114.5 246.19 115 246.17 115.5 246.15 116 246.13 116.5 246.1 117 246.08 117.5 246.06 118 246.04 118.5 246.01 119 245.99 119.5 245.97 120 245.94 120.5 245.92 121 245.9 121.5 245.87 122 245.85 122.5 245.83 123 245.8 123.5 245.78 124 245.75 124.5 245.73 125 245.7 125.5 245.68 126 245.65 126.5 245.63 127 245.6 127.5 245.58 128 245.55 128.5 245.52 129 245.5 129.5 245.47 130 245.44 130.5 245.41 131 245.39 131.5 245.36 132 245.33 132.5 245.3 133 245.27 133.5 245.24 134 245.21 134.5 245.18 135 245.15 135.5 245.11 136 245.08 136.5 245.05 137 245.01 137.5 244.98 138 244.95 138.5 244.91 139 244.87 139.5 244.84 140 244.8 140.5 244.76 141 244.73 141.5 244.69 142 244.65 142.5 244.61 143 244.57 143.5 244.53 144 244.48 144.5 244.44 145 244.4 145.5 244.35 146 244.31 146.5 244.26 147 244.22 147.5 244.17 148 244.12 148.5 244.07 149 244.02 149.5 243.97 150 243.92 150.5 243.87 151 243.82 151.5 243.76 152 243.71 152.5 243.65 153 243.6 153.5 243.54 154 243.48 154.5 243.42 155 243.36 155.5 243.3 156 243.24 156.5 243.18 157 243.12 157.5 243.05 158 242.98 158.5 242.92 159 242.85 159.5 242.78 160 242.71 160.5 242.64 161 242.57 161.5 242.49 162 242.42 162.5 242.34 163 242.26 163.5 242.18 164 242.1 164.5 242.02 165 241.94 165.5 241.85 166 241.76 166.5 241.68 167 241.59 167.5 241.49 168 241.4 168.5 241.31 169 241.21 169.5 241.11 170 241.01 170.5 240.91 171 240.81 171.5 240.7 172 240.59 172.5 240.48 173 240.37 173.5 240.26 174 240.14 174.5 240.02 175 239.9 175.5 239.78 176 239.66 176.5 239.53 177 239.4 177.5 239.27 178 239.14 178.5 239 179 238.86 179.5 238.72 180 238.58 180.5 238.44 181 238.29 181.5 238.14 182 237.98 182.5 237.83 183 237.67 183.5 237.51 184 237.35 184.5 237.18 185 237.01 185.5 236.84 186 236.66 186.5 236.49 187 236.31 187.5 236.12 188 235.94 188.5 235.75 189 235.55 189.5 235.36 190 235.16 190.5 234.96 191 234.75 191.5 234.55 192 234.34 192.5 234.12 193 233.9 193.5 233.68 194 233.46 194.5 233.23 195 233 195.5 232.77 196 232.53 196.5 232.29 197 232.04 197.5 231.79 198 231.54 198.5 231.29 199 231.03 199.5 230.76 200 230.5 200.5 230.23 201 229.95 201.5 229.67 202 229.39 202.5 229.11 203 228.82 203.5 228.52 204 228.23 204.5 227.92 205 227.62 205.5 227.31 206 227 206.5 226.68 207 226.36 207.5 226.03 208 225.7 208.5 225.37 209 225.03 209.5 224.69 210 224.35 210.5 224 211 223.64 211.5 223.28 212 222.92 212.5 222.56 213 222.19 213.5 221.81 214 221.43 214.5 221.05 215 220.66 215.5 220.27 216 219.87 216.5 219.47 217 219.07 217.5 218.66 218 218.24 218.5 217.82 219 217.4 219.5 216.97 220 216.54 220.5 216.11 221 215.67 221.5 215.22 222 214.77 222.5 214.32 223 213.86 223.5 213.4 224 212.93 224.5 212.46 225 211.98 225.5 211.5 226 211.01 226.5 210.52 227 210.02 227.5 209.52 228 209.02 228.5 208.51 229 207.99 229.5 207.47 230 206.95 230.5 206.42 231 205.88 231.5 205.34 232 204.8 232.5 204.25 233 203.7 233.5 203.14 234 202.57 234.5 202.01 235 201.43 235.5 200.86 236 200.28 236.5 199.7 237 199.11 237.5 198.52 238 197.93 238.5 197.34 239 196.75 239.5 196.16 240 195.56 240.5 194.97 241 194.38 241.5 193.78 242 193.19 242.5 192.6 243 192.01 243.5 191.42 244 190.84 244.5 190.25 245 189.67 245.5 189.1 246 188.52 246.5 187.95 247 187.39 247.5 186.83 248 186.27 248.5 185.72 249 185.18 249.5 184.64 250 184.11 250.5 183.59 251 183.07 251.5 182.56 252 182.06 252.5 181.57 253 181.08 253.5 180.61 254 180.14 254.5 179.69 255 179.24 255.5 178.8 256 178.38 256.5 177.96 257 177.55 257.5 177.15 258 176.76 258.5 176.37 259 175.99 259.5 175.62 260 175.25 260.5 174.89 261 174.53 261.5 174.18 262 173.82 262.5 173.47 263 173.13 263.5 172.78 264 172.43 264.5 172.09 265 171.74 265.5 171.4 266 171.05 266.5 170.7 267 170.35 267.5 169.99 268 169.63 268.5 169.27 269 168.9 269.5 168.53 270 168.15 270.5 167.76 271 167.37 271.5 166.97 272 166.56 272.5 166.14 273 165.72 273.5 165.28 274 164.83 274.5 164.37 275 163.91 275.5 163.42 276 162.93 276.5 162.42 277 161.9 277.5 161.37 278 160.83 278.5 160.27 279 159.71 279.5 159.14 280 158.55 280.5 157.96 281 157.36 281.5 156.75 282 156.13 282.5 155.51 283 154.88 283.5 154.25 284 153.61 284.5 152.97 285 152.32 285.5 151.67 286 151.01 286.5 150.36 287 149.7 287.5 149.04 288 148.38 288.5 147.72 289 147.06 289.5 146.4 290 145.74 290.5 145.08 291 144.43 291.5 143.78 292 143.13 292.5 142.49 293 141.86 293.5 141.23 294 140.61 294.5 140 295 139.4 295.5 138.81 296 138.23 296.5 137.67 297 137.11 297.5 136.58 298 136.05 298.5 135.54 299 135.05 299.5 134.58 300 134.12 300.5 133.68 301 133.27 301.5 132.87 302 132.5 302.5 132.14 303 131.82 303.5 131.51 304 131.23 304.5 130.98 305 130.75 305.5 130.56 306 130.39 306.5 130.25 307 130.14 307.5 130.06 308 130.01 308.5 130 309 130.02 309.5 130.07 310 130.16 310.5 130.29 311 130.46 311.5 130.67 312 130.92 312.5 131.21 313 131.55 313.5 131.94 314 132.37 314.5 132.86 315 133.39 315.5 133.98 316 134.62 316.5 135.31 317 136.06 317.5 136.87 318 137.74 318.5 138.67 319 139.66 319.5 140.71 320 141.81 320.5 142.98 321 144.19 321.5 145.46 322 146.77 322.5 148.13 323 149.53 323.5 150.96 324 152.44 324.5 153.95 325 155.49 325.5 157.05 326 158.65 326.5 160.27 327 161.9 327.5 163.56 328 165.23 328.5 166.92 329 168.62 329.5 170.32 330 172.04 330.5 173.77 331 175.5 331.5 177.24 332 178.98 332.5 180.72 333 182.45 333.5 184.19 334 185.92 334.5 187.65 335 189.37 335.5 191.08 336 192.78 336.5 194.47 337 196.15 337.5 197.81 338 199.45 338.5 201.08 339 202.68 339.5 204.26 340 205.82 340.5 207.35 341 208.86 341.5 210.34 342 211.78 342.5 213.2 343 214.58 343.5 215.93 344 217.24 344.5 218.51 345 219.75 345.5 220.94 346 222.09 346.5 223.19 347 224.26 347.5 225.29 348 226.28 348.5 227.23 349 228.15 349.5 229.03 350 229.88 350.5 230.7 351 231.49 351.5 232.25 352 232.98 352.5 233.68 353 234.36 353.5 235.01 354 235.64 354.5 236.24 355 236.83 355.5 237.39 356 237.93 356.5 238.46 357 238.96 357.5 239.45 358 239.93 358.5 240.38 359 240.82 359.5 241.24 360 241.65 360.5 242.04 361 242.42 361.5 242.79 362 243.14 362.5 243.49 363 243.82 363.5 244.13 364 244.44 364.5 244.74 365 245.03 365.5 245.31 366 245.58 366.5 245.85 367 246.11 367.5 246.36 368 246.6 368.5 246.84 369 247.08 369.5 247.31 370 247.53 370.5 247.76 371 247.98 371.5 248.2 372 248.42 372.5 248.63 373 248.85 373.5 249.07 374 249.29 374.5 249.5 375 249.72 375.5 249.94 376 250.15 376.5 250.36 377 250.58 377.5 250.79 378 251 378.5 251.2 379 251.41 379.5 251.61 380 251.81 380.5 252.01 381 252.2 381.5 252.39 382 252.58 382.5 252.76 383 252.94 383.5 253.11 384 253.28 384.5 253.45 385 253.61 385.5 253.76 386 253.91 386.5 254.05 387 254.19 387.5 254.32 388 254.44 388.5 254.56 389 254.67 389.5 254.77 390 254.87 390.5 254.96 391 255.04 391.5 255.11 392 255.17 392.5 255.23 393 255.28 393.5 255.32 394 255.36 394.5 255.39 395 255.41 395.5 255.43 396 255.45 396.5 255.46 397 255.46 397.5 255.46 398 255.46 398.5 255.45 399 255.44 399.5 255.43 400 255.42 400.5 255.4 401 255.38 401.5 255.37 402 255.35 402.5 255.33 403 255.31 403.5 255.28 404 255.26 404.5 255.25 405 255.23 405.5 255.21 406 255.2 406.5 255.18 407 255.17 407.5 255.17 408 255.16 408.5 255.16 409 255.17 409.5 255.17 410 255.19 410.5 255.2 411 255.23 411.5 255.25 412 255.29 412.5 255.33 413 255.38 413.5 255.43 414 255.49" stroke="#ff4040" stroke-width="1.35" fill="none"/>
<path d="M79.5 250.2 80 250.26 80.5 250.32 81 250.38 81.5 250.43 82 250.47 82.5 250.52 83 250.55 83.5 250.59 84 250.62 84.5 250.65 85 250.67 85.5 250.69 86 250.71 86.5 250.72 87 250.73 87.5 250.74 88 250.74 88.5 250.74 89 250.74 89.5 250.73 90 250.73 90.5 250.71 91 250.7 91.5 250.68 92 250.66 92.5 250.64 93 250.61 93.5 250.58 94 250.55 94.5 250.52 95 250.48 95.5 250.44 96 250.4 96.5 250.36 97 250.32 97.5 250.27 98 250.22 98.5 250.17 99 250.12 99.5 250.06 100 250.01 100.5 249.95 101 249.89 101.5 249.83 102 249.76 102.5 249.7 103 249.63 103.5 249.57 104 249.5 104.5 249.43 105 249.36 105.5 249.28 106 249.21 106.5 249.14 107 249.06 107.5 248.99 108 248.91 108.5 248.83 109 248.75 109.5 248.68 110 248.6 110.5 248.52 111 248.44 111.5 248.36 112 248.28 112.5 248.2 113 248.11 113.5 248.03 114 247.95 114.5 247.87 115 247.79 115.5 247.71 116 247.63 116.5 247.55 117 247.47 117.5 247.39 118 247.31 118.5 247.23 119 247.15 119.5 247.07 120 247 120.5 246.92 121 246.85 121.5 246.77 122 246.7 122.5 246.62 123 246.55 123.5 246.48 124 246.41 124.5 246.35 125 246.28 125.5 246.21 126 246.15 126.5 246.09 127 246.03 127.5 245.97 128 245.91 128.5 245.86 129 245.8 129.5 245.75 130 245.7 130.5 245.65 131 245.61 131.5 245.56 132 245.52 132.5 245.48 133 245.44 133.5 245.41 134 245.38 134.5 245.35 135 245.32 135.5 245.3 136 245.27 136.5 245.26 137 245.24 137.5 245.23 138 245.22 138.5 245.21 139 245.2 139.5 245.2 140 245.2 140.5 245.2 141 245.21 141.5 245.21 142 245.22 142.5 245.23 143 245.24 143.5 245.25 144 245.26 144.5 245.28 145 245.29 145.5 245.31 146 245.33 146.5 245.34 147 245.36 147.5 245.37 148 245.39 148.5 245.41 149 245.42 149.5 245.44 150 245.45 150.5 245.47 151 245.48 151.5 245.49 152 245.5 152.5 245.51 153 245.52 153.5 245.52 154 245.52 154.5 245.52 155 245.52 155.5 245.52 156 245.51 156.5 245.5 157 245.49 157.5 245.48 158 245.46 158.5 245.44 159 245.41 159.5 245.38 160 245.35 160.5 245.32 161 245.28 161.5 245.24 162 245.2 162.5 245.15 163 245.11 163.5 245.05 164 245 164.5 244.94 165 244.88 165.5 244.81 166 244.75 166.5 244.67 167 244.6 167.5 244.52 168 244.44 168.5 244.36 169 244.27 169.5 244.18 170 244.09 170.5 243.99 171 243.9 171.5 243.79 172 243.69 172.5 243.58 173 243.47 173.5 243.35 174 243.23 174.5 243.11 175 242.99 175.5 242.86 176 242.73 176.5 242.59 177 242.46 177.5 242.32 178 242.17 178.5 242.03 179 241.88 179.5 241.72 180 241.57 180.5 241.41 181 241.24 181.5 241.08 182 240.91 182.5 240.73 183 240.56 183.5 240.38 184 240.2 184.5 240.01 185 239.82 185.5 239.63 186 239.43 186.5 239.23 187 239.03 187.5 238.83 188 238.62 188.5 238.41 189 238.19 189.5 237.97 190 237.75 190.5 237.52 191 237.3 191.5 237.06 192 236.83 192.5 236.59 193 236.35 193.5 236.1 194 235.86 194.5 235.6 195 235.35 195.5 235.09 196 234.83 196.5 234.56 197 234.3 197.5 234.02 198 233.75 198.5 233.47 199 233.19 199.5 232.9 200 232.61 200.5 232.32 201 232.03 201.5 231.73 202 231.43 202.5 231.12 203 230.81 203.5 230.5 204 230.18 204.5 229.86 205 229.54 205.5 229.22 206 228.89 206.5 228.55 207 228.22 207.5 227.88 208 227.53 208.5 227.18 209 226.83 209.5 226.48 210 226.12 210.5 225.76 211 225.4 211.5 225.03 212 224.66 212.5 224.28 213 223.9 213.5 223.52 214 223.13 214.5 222.74 215 222.35 215.5 221.95 216 221.55 216.5 221.14 217 220.74 217.5 220.32 218 219.91 218.5 219.49 219 219.06 219.5 218.64 220 218.21 220.5 217.77 221 217.33 221.5 216.89 222 216.44 222.5 215.99 223 215.54 223.5 215.08 224 214.62 224.5 214.16 225 213.69 225.5 213.22 226 212.74 226.5 212.26 227 211.77 227.5 211.29 228 210.79 228.5 210.3 229 209.8 229.5 209.29 230 208.79 230.5 208.27 231 207.76 231.5 207.24 232 206.71 232.5 206.17 233 205.62 233.5 205.05 234 204.47 234.5 203.87 235 203.25 235.5 202.6 236 201.93 236.5 201.23 237 200.51 237.5 199.75 238 198.95 238.5 198.13 239 197.28 239.5 196.41 240 195.52 240.5 194.6 241 193.67 241.5 192.72 242 191.76 242.5 190.78 243 189.8 243.5 188.8 244 187.81 244.5 186.81 245 185.8 245.5 184.8 246 183.8 246.5 182.81 247 181.83 247.5 180.85 248 179.89 248.5 178.94 249 178.01 249.5 177.09 250 176.2 250.5 175.33 251 174.48 251.5 173.65 252 172.84 252.5 172.06 253 171.3 253.5 170.56 254 169.85 254.5 169.15 255 168.48 255.5 167.83 256 167.21 256.5 166.6 257 166.02 257.5 165.45 258 164.91 258.5 164.4 259 163.9 259.5 163.42 260 162.97 260.5 162.54 261 162.13 261.5 161.74 262 161.37 262.5 161.02 263 160.7 263.5 160.39 264 160.1 264.5 159.82 265 159.57 265.5 159.32 266 159.09 266.5 158.86 267 158.65 267.5 158.44 268 158.25 268.5 158.05 269 157.86 269.5 157.67 270 157.48 270.5 157.29 271 157.09 271.5 156.88 272 156.66 272.5 156.43 273 156.19 273.5 155.92 274 155.64 274.5 155.34 275 155.01 275.5 154.65 276 154.27 276.5 153.86 277 153.41 277.5 152.93 278 152.41 278.5 151.85 279 151.25 279.5 150.61 280 149.92 280.5 149.2 281 148.44 281.5 147.64 282 146.82 282.5 145.97 283 145.09 283.5 144.19 284 143.28 284.5 142.34 285 141.4 285.5 140.44 286 139.47 286.5 138.5 287 137.53 287.5 136.56 288 135.59 288.5 134.62 289 133.67 289.5 132.73 290 131.8 290.5 130.88 291 129.97 291.5 129.05 292 128.14 292.5 127.21 293 126.26 293.5 125.29 294 124.29 294.5 123.25 295 122.17 295.5 121.04 296 119.86 296.5 118.62 297 117.32 297.5 115.95 298 114.51 298.5 113.03 299 111.5 299.5 109.94 300 108.35 300.5 106.74 301 105.12 301.5 103.5 302 101.88 302.5 100.28 303 98.71 303.5 97.16 304 95.66 304.5 94.2 305 92.8 305.5 91.46 306 90.17 306.5 88.93 307 87.73 307.5 86.56 308 85.42 308.5 84.31 309 83.21 309.5 82.13 310 81.05 310.5 79.96 311 78.87 311.5 77.79 312 76.71 312.5 75.64 313 74.59 313.5 73.58 314 72.6 314.5 71.67 315 70.79 315.5 69.97 316 69.21 316.5 68.53 317 67.93 317.5 67.42 318 67.01 318.5 66.7 319 66.5 319.5 66.42 320 66.47 320.5 66.65 321 66.97 321.5 67.44 322 68.06 322.5 68.84 323 69.77 323.5 70.85 324 72.08 324.5 73.45 325 74.97 325.5 76.63 326 78.42 326.5 80.36 327 82.43 327.5 84.63 328 86.97 328.5 89.43 329 92.02 329.5 94.74 330 97.59 330.5 100.58 331 103.74 331.5 107.07 332 110.58 332.5 114.29 333 118.22 333.5 122.34 334 126.58 334.5 130.89 335 135.2 335.5 139.43 336 143.53 336.5 147.51 337 151.38 337.5 155.14 338 158.82 338.5 162.43 339 165.97 339.5 169.43 340 172.82 340.5 176.11 341 179.3 341.5 182.38 342 185.33 342.5 188.15 343 190.83 343.5 193.39 344 195.84 344.5 198.21 345 200.52 345.5 202.78 346 205.01 346.5 207.23 347 209.46 347.5 211.67 348 213.88 348.5 216.06 349 218.2 349.5 220.3 350 222.35 350.5 224.34 351 226.26 351.5 228.1 352 229.86 352.5 231.51 353 233.06 353.5 234.49 354 235.8 354.5 236.99 355 238.08 355.5 239.07 356 239.98 356.5 240.81 357 241.58 357.5 242.29 358 242.96 358.5 243.59 359 244.19 359.5 244.75 360 245.29 360.5 245.79 361 246.27 361.5 246.72 362 247.15 362.5 247.55 363 247.93 363.5 248.29 364 248.64 364.5 248.96 365 249.28 365.5 249.57 366 249.86 366.5 250.13 367 250.4 367.5 250.65 368 250.9 368.5 251.14 369 251.38 369.5 251.6 370 251.82 370.5 252.04 371 252.24 371.5 252.44 372 252.63 372.5 252.82 373 253 373.5 253.17 374 253.34 374.5 253.5 375 253.65 375.5 253.8 376 253.94 376.5 254.08 377 254.21 377.5 254.34 378 254.46 378.5 254.58 379 254.69 379.5 254.8 380 254.9 380.5 255 381 255.09 381.5 255.18 382 255.26 382.5 255.34 383 255.42 383.5 255.49 384 255.56 384.5 255.63 385 255.69 385.5 255.75 386 255.81 386.5 255.86 387 255.91 387.5 255.96 388 256 388.5 256.04 389 256.08 389.5 256.12 390 256.16 390.5 256.19 391 256.22 391.5 256.25 392 256.28 392.5 256.3 393 256.33 393.5 256.35 394 256.37 394.5 256.4 395 256.42 395.5 256.44 396 256.45 396.5 256.47 397 256.49 397.5 256.51 398 256.53 398.5 256.54 399 256.56 399.5 256.58 400 256.6 400.5 256.62 401 256.64 401.5 256.66 402 256.68 402.5 256.7 403 256.72 403.5 256.75 404 256.77 404.5 256.8 405 256.83 405.5 256.86 406 256.89 406.5 256.92 407 256.96 407.5 257 408 257.04 408.5 257.08 409 257.13 409.5 257.18 410 257.23 410.5 257.28 411 257.34 411.5 257.4 412 257.47 412.5 257.53 413 257.61 413.5 257.68 414 257.76" stroke="#3a3a3a" stroke-width="1.35" fill="none"/>
<path d="M79.2 36.5V283.9M79.2 283.9H413.7" stroke="#1e1e1e" stroke-width="1.3" fill="none"/>
<path d="M74 248.5H79.2M74 177.83H79.2M74 107.16H79.2M74 36.49H79.2M76.2 283.83H79.2M76.2 213.17H79.2M76.2 142.5H79.2M76.2 71.83H79.2M134.78 283.9V289.1M246.32 283.9V289.1M357.88 283.9V289.1M79 283.9V286.9M190.55 283.9V286.9M302.1 283.9V286.9M413.65 283.9V286.9" stroke="#1e1e1e" stroke-width="1.3" fill="none"/>
<text x="71.4" y="254.3" text-anchor="end">0.<tspan class="h">1</tspan></text>
<text x="71.4" y="183.63" text-anchor="end">0.2</text>
<text x="71.4" y="112.96" text-anchor="end">0.3</text>
<text x="71.4" y="42.29" text-anchor="end">0.4</text>
<text x="134.78" y="307.2" text-anchor="middle">500</text>
<text x="246.32" y="307.2" text-anchor="middle">600</text>
<text x="357.88" y="307.2" text-anchor="middle">700</text>
<text x="246.1" y="328.3" text-anchor="middle" style="font-size:19.7px">Wavelength (nm)</text>
<text transform="translate(32.4 172.9) rotate(-90)" x="0" y="0" text-anchor="middle" style="font-size:19.8px">Absorbance</text>
<rect x="358.25" y="15.2" width="112.15" height="184" fill="none" stroke="#444" stroke-width="1.1"/>
<path d="M363.7 34.5H405.9" stroke="#3a3a3a" stroke-width="1.35"/>
<text x="410.9" y="41.2">00min</text>
<path d="M363.7 59.05H405.9" stroke="#ff4040" stroke-width="1.35"/>
<text x="410.9" y="65.75"><tspan class="h">1</tspan>0min</text>
<path d="M363.7 83.6H405.9" stroke="#3af03a" stroke-width="1.35"/>
<text x="410.9" y="90.3">20min</text>
<path d="M363.7 108.15H405.9" stroke="#4040ff" stroke-width="1.35"/>
<text x="410.9" y="114.85">30min</text>
<path d="M363.7 132.7H405.9" stroke="#ff40ff" stroke-width="1.35"/>
<text x="410.9" y="139.4">40min</text>
<path d="M363.7 157.25H405.9" stroke="#ffff30" stroke-width="1.35"/>
<text x="410.9" y="163.95">50min</text>
<path d="M363.7 181.8H405.9" stroke="#30ffff" stroke-width="1.35"/>
<text x="410.9" y="188.5">60min</text>
</g>
<g>
<path d="M637 263.08 637.5 263.09 638 263.06 638.5 263.06 639 263.05 639.5 262.89 640 262.7 640.5 262.55 641 262.54 641.5 262.63 642 262.7 642.5 262.68 643 262.5 643.5 262.36 644 262.47 644.5 262.57 645 262.49 645.5 262.53 646 262.58 646.5 262.48 647 262.58 647.5 262.68 648 262.58 648.5 262.65 649 262.71 649.5 262.62 650 262.68 650.5 262.83 651 262.85 651.5 262.77 652 262.74 652.5 262.81 653 262.88 653.5 262.92 654 263.02 654.5 263.18 655 263.21 655.5 263.15 656 263.16 656.5 263.18 657 263.23 657.5 263.32 658 263.4 658.5 263.42 659 263.49 659.5 263.58 660 263.65 660.5 263.69 661 263.67 661.5 263.73 662 263.76 662.5 263.78 663 263.87 663.5 263.89 664 263.81 664.5 263.71 665 263.8 665.5 264 666 264.09 666.5 264.17 667 264.25 667.5 264.13 668 263.95 668.5 263.98 669 264.07 669.5 264.14 670 264.37 670.5 264.61 671 264.78 671.5 265.03 672 265.25 672.5 265.22 673 265.03 673.5 264.81 674 264.5 674.5 264.1 675 263.79 675.5 263.67 676 263.61 676.5 263.51 677 263.44 677.5 263.44 678 263.48 678.5 263.52 679 263.47 679.5 263.31 680 263.24 680.5 263.27 681 263.25 681.5 263.16 682 263.12 682.5 262.98 683 262.79 683.5 262.75 684 262.67 684.5 262.63 685 262.68 685.5 262.57 686 262.42 686.5 262.35 687 262.25 687.5 262.27 688 262.36 688.5 262.3 689 262.29 689.5 262.34 690 262.36 690.5 262.24 691 262.07 691.5 262.09 692 262.1 692.5 262.07 693 262.17 693.5 262.31 694 262.42 694.5 262.39 695 262.23 695.5 262.24 696 262.34 696.5 262.31 697 262.36 697.5 262.46 698 262.53 698.5 262.71 699 262.76 699.5 262.68 700 262.8 700.5 263.02 701 263.08 701.5 262.98 702 263.02 702.5 263.27 703 263.35 703.5 263.28 704 263.37 704.5 263.56 705 263.62 705.5 263.61 706 263.75 706.5 263.89 707 263.88 707.5 263.82 708 263.85 708.5 264.04 709 264.18 709.5 264.13 710 264.15 710.5 264.27 711 264.32 711.5 264.37 712 264.48 712.5 264.67 713 264.8 713.5 264.79 714 264.77 714.5 264.87 715 265.05 715.5 265.22 716 265.23 716.5 265.08 717 265.08 717.5 265.3 718 265.42 718.5 265.43 719 265.57 719.5 265.74 720 265.9 720.5 266.01 721 266.01 721.5 266.02 722 265.98 722.5 265.89 723 265.76 723.5 265.54 724 265.36 724.5 265.21 725 265.13 725.5 265.07 726 265 726.5 264.98 727 264.92 727.5 264.84 728 264.75 728.5 264.59 729 264.45 729.5 264.37 730 264.26 730.5 264.17 731 264.15 731.5 263.99 732 263.71 732.5 263.52 733 263.37 733.5 263.21 734 263.04 734.5 262.91 735 262.77 735.5 262.53 736 262.31 736.5 262.12 737 261.86 737.5 261.58 738 261.42 738.5 261.25 739 260.92 739.5 260.61 740 260.39 740.5 260.16 741 259.83 741.5 259.53 742 259.34 742.5 259.07 743 258.7 743.5 258.33 744 258.02 744.5 257.8 745 257.52 745.5 257.16 746 256.79 746.5 256.38 747 256 747.5 255.69 748 255.35 748.5 255.01 749 254.7 749.5 254.33 750 253.9 750.5 253.52 751 253.22 751.5 252.89 752 252.45 752.5 252.03 753 251.64 753.5 251.24 754 250.88 754.5 250.47 755 250.02 755.5 249.63 756 249.22 756.5 248.8 757 248.4 757.5 247.99 758 247.6 758.5 247.14 759 246.63 759.5 246.2 760 245.78 760.5 245.36 761 244.9 761.5 244.45 762 244 762.5 243.49 763 243.02 763.5 242.54 764 242.07 764.5 241.66 765 241.23 765.5 240.76 766 240.25 766.5 239.76 767 239.28 767.5 238.72 768 238.21 768.5 237.78 769 237.28 769.5 236.78 770 236.31 770.5 235.8 771 235.3 771.5 234.77 772 234.18 772.5 233.61 773 233.13 773.5 232.64 774 232.06 774.5 231.45 775 230.92 775.5 230.38 776 229.78 776.5 229.19 777 228.59 777.5 228.01 778 227.37 778.5 226.71 779 226.1 779.5 225.46 780 224.79 780.5 224.09 781 223.35 781.5 222.63 782 221.92 782.5 221.19 783 220.43 783.5 219.71 784 218.98 784.5 218.18 785 217.36 785.5 216.54 786 215.72 786.5 214.94 787 214.1 787.5 213.17 788 212.26 788.5 211.38 789 210.43 789.5 209.48 790 208.57 790.5 207.62 791 206.63 791.5 205.6 792 204.56 792.5 203.55 793 202.5 793.5 201.42 794 200.29 794.5 199.13 795 197.99 795.5 196.86 796 195.7 796.5 194.52 797 193.3 797.5 192.09 798 190.88 798.5 189.67 799 188.45 799.5 187.25 800 186.07 800.5 184.94 801 183.85 801.5 182.76 802 181.72 802.5 180.69 803 179.71 803.5 178.8 804 177.92 804.5 177.09 805 176.28 805.5 175.52 806 174.79 806.5 174.11 807 173.47 807.5 172.85 808 172.25 808.5 171.68 809 171.14 809.5 170.65 810 170.17 810.5 169.69 811 169.25 811.5 168.85 812 168.46 812.5 168.07 813 167.73 813.5 167.42 814 167.09 814.5 166.77 815 166.48 815.5 166.2 816 165.94 816.5 165.67 817 165.41 817.5 165.18 818 164.95 818.5 164.72 819 164.48 819.5 164.22 820 163.97 820.5 163.74 821 163.51 821.5 163.27 822 163.02 822.5 162.77 823 162.49 823.5 162.22 824 161.94 824.5 161.66 825 161.36 825.5 161.05 826 160.7 826.5 160.34 827 159.97 827.5 159.56 828 159.16 828.5 158.73 829 158.26 829.5 157.77 830 157.26 830.5 156.71 831 156.14 831.5 155.53 832 154.88 832.5 154.21 833 153.5 833.5 152.75 834 151.97 834.5 151.16 835 150.28 835.5 149.35 836 148.41 836.5 147.42 837 146.36 837.5 145.22 838 144.03 838.5 142.8 839 141.5 839.5 140.12 840 138.69 840.5 137.18 841 135.57 841.5 133.93 842 132.25 842.5 130.53 843 128.77 843.5 126.96 844 125.09 844.5 123.23 845 121.39 845.5 119.54 846 117.68 846.5 115.83 847 114.02 847.5 112.22 848 110.43 848.5 108.64 849 106.87 849.5 105.09 850 103.34 850.5 101.62 851 99.92 851.5 98.24 852 96.6 852.5 94.99 853 93.38 853.5 91.78 854 90.24 854.5 88.74 855 87.24 855.5 85.74 856 84.3 856.5 82.9 857 81.53 857.5 80.2 858 78.9 858.5 77.65 859 76.45 859.5 75.25 860 74.06 860.5 72.94 861 71.9 861.5 70.88 862 69.9 862.5 68.96 863 68.09 863.5 67.28 864 66.53 864.5 65.82 865 65.16 865.5 64.57 866 64.04 866.5 63.57 867 63.17 867.5 62.86 868 62.62 868.5 62.44 869 62.32 869.5 62.29 870 62.41 870.5 62.67 871 63.12 871.5 63.77 872 64.64 872.5 65.77 873 67.15 873.5 68.76 874 70.6 874.5 72.69 875 75.05 875.5 77.7 876 80.63 876.5 83.86 877 87.38 877.5 91.11 878 95.01 878.5 99.12 879 103.39 879.5 107.74 880 112.15 880.5 116.61 881 121.09 881.5 125.55 882 129.95 882.5 134.26 883 138.46 883.5 142.5 884 146.42 884.5 150.2 885 153.93 885.5 157.75 886 161.77 886.5 166.07 887 170.68 887.5 175.39 888 179.98 888.5 184.24 889 188.14 889.5 191.73 890 195.02 890.5 198.08 891 200.94 891.5 203.6 892 206.13 892.5 208.59 893 211 893.5 213.39 894 215.79 894.5 218.22 895 220.7 895.5 223.18 896 225.62 896.5 228.02 897 230.36 897.5 232.58 898 234.66 898.5 236.65 899 238.5 899.5 240.21 900 241.84 900.5 243.42 901 244.93 901.5 246.37 902 247.77 902.5 249.13 903 250.45 903.5 251.73 904 252.95 904.5 254.13 905 255.3 905.5 256.42 906 257.48 906.5 258.52 907 259.51 907.5 260.46 908 261.36 908.5 262.21 909 263.06 909.5 263.9 910 264.67 910.5 265.39 911 266.09 911.5 266.75 912 267.39 912.5 268.01 913 268.61 913.5 269.2 914 269.75 914.5 270.24 915 270.7 915.5 271.16 916 271.59 916.5 272.01 917 272.42 917.5 272.8 918 273.15 918.5 273.48 919 273.79 919.5 274.11 920 274.38 920.5 274.64 921 274.9 921.5 275.13 922 275.35 922.5 275.56 923 275.77 923.5 275.96 924 276.14 924.5 276.28 925 276.41 925.5 276.56 926 276.69 926.5 276.79 927 276.87 927.5 276.97 928 277.04 928.5 277.09 929 277.13 929.5 277.18 930 277.21 930.5 277.25 931 277.27 931.5 277.27 932 277.25 932.5 277.23 933 277.2 933.5 277.18 934 277.17 934.5 277.13 935 277.05 935.5 276.97 936 276.91 936.5 276.87 937 276.81 937.5 276.72 938 276.63 938.5 276.56 939 276.47 939.5 276.35 940 276.23 940.5 276.15 941 276.04 941.5 275.94 942 275.84 942.5 275.72 943 275.58 943.5 275.48 944 275.38 944.5 275.25 945 275.11 945.5 274.99 946 274.86 946.5 274.75 947 274.64 947.5 274.53 948 274.39 948.5 274.25 949 274.14 949.5 274.03 950 273.91 950.5 273.78 951 273.68 951.5 273.58 952 273.47 952.5 273.38 953 273.3 953.5 273.22 954 273.13 954.5 273.02 955 272.92 955.5 272.85 956 272.79 956.5 272.73 957 272.68 957.5 272.62 958 272.59 958.5 272.59 959 272.56 959.5 272.52 960 272.51 960.5 272.53 961 272.53 961.5 272.53 962 272.55" stroke="#3a3a3a" stroke-width="1.35" fill="none"/>
<path d="M637 262.93 637.5 262.92 638 262.78 638.5 262.56 639 262.33 639.5 262.22 640 262.27 640.5 262.3 641 262.28 641.5 262.27 642 262.25 642.5 262.27 643 262.31 643.5 262.3 644 262.23 644.5 262.13 645 262.16 645.5 262.25 646 262.15 646.5 262 647 262.09 647.5 262.23 648 262.16 648.5 262.07 649 262.07 649.5 262.13 650 262.31 650.5 262.43 651 262.47 651.5 262.47 652 262.37 652.5 262.36 653 262.52 653.5 262.71 654 262.76 654.5 262.66 655 262.63 655.5 262.72 656 262.87 656.5 262.86 657 262.79 657.5 262.94 658 263.01 658.5 262.92 659 263.03 659.5 263.27 660 263.36 660.5 263.23 661 263.11 661.5 263.15 662 263.24 662.5 263.31 663 263.28 663.5 263.29 664 263.36 664.5 263.41 665 263.6 665.5 263.78 666 263.75 666.5 263.64 667 263.64 667.5 263.69 668 263.66 668.5 263.57 669 263.44 669.5 263.48 670 263.67 670.5 263.84 671 264.07 671.5 264.47 672 264.84 672.5 264.92 673 264.68 673.5 264.38 674 264.11 674.5 263.81 675 263.58 675.5 263.47 676 263.44 676.5 263.42 677 263.29 677.5 263.07 678 262.97 678.5 262.98 679 262.97 679.5 262.98 680 262.95 680.5 262.9 681 262.88 681.5 262.74 682 262.55 682.5 262.53 683 262.54 683.5 262.54 684 262.45 684.5 262.23 685 262.13 685.5 262.11 686 262.06 686.5 262.11 687 262.17 687.5 262.23 688 262.15 688.5 261.99 689 262.02 689.5 261.99 690 261.86 690.5 261.93 691 262.04 691.5 261.92 692 261.76 692.5 261.78 693 261.77 693.5 261.79 694 262 694.5 262.03 695 261.91 695.5 261.94 696 261.97 696.5 261.98 697 262.06 697.5 262.17 698 262.19 698.5 262.15 699 262.23 699.5 262.29 700 262.24 700.5 262.32 701 262.55 701.5 262.63 702 262.57 702.5 262.69 703 262.88 703.5 262.89 704 262.87 704.5 262.88 705 262.91 705.5 263.05 706 263.24 706.5 263.36 707 263.41 707.5 263.5 708 263.69 708.5 263.78 709 263.8 709.5 263.91 710 263.98 710.5 263.93 711 263.92 711.5 263.99 712 264.08 712.5 264.14 713 264.17 713.5 264.29 714 264.43 714.5 264.5 715 264.6 715.5 264.73 716 264.78 716.5 264.71 717 264.69 717.5 264.8 718 264.86 718.5 264.84 719 264.89 719.5 265.06 720 265.29 720.5 265.54 721 265.7 721.5 265.78 722 265.82 722.5 265.71 723 265.43 723.5 265.14 724 264.97 724.5 264.94 725 264.85 725.5 264.72 726 264.75 726.5 264.75 727 264.64 727.5 264.57 728 264.53 728.5 264.41 729 264.16 729.5 263.95 730 263.84 730.5 263.73 731 263.64 731.5 263.57 732 263.5 732.5 263.33 733 263.12 733.5 262.93 734 262.69 734.5 262.45 735 262.23 735.5 262 736 261.77 736.5 261.58 737 261.42 737.5 261.2 738 260.91 738.5 260.67 739 260.49 739.5 260.2 740 259.85 740.5 259.56 741 259.32 741.5 259.09 742 258.85 742.5 258.59 743 258.34 743.5 258.06 744 257.74 744.5 257.4 745 257.11 745.5 256.74 746 256.34 746.5 256.05 747 255.79 747.5 255.45 748 255.07 748.5 254.71 749 254.32 749.5 253.9 750 253.5 750.5 253.12 751 252.79 751.5 252.45 752 252.05 752.5 251.63 753 251.24 753.5 250.88 754 250.44 754.5 249.97 755 249.55 755.5 249.22 756 248.85 756.5 248.42 757 248.01 757.5 247.58 758 247.1 758.5 246.63 759 246.22 759.5 245.85 760 245.39 760.5 244.88 761 244.45 761.5 244.06 762 243.61 762.5 243.12 763 242.65 763.5 242.17 764 241.69 764.5 241.25 765 240.79 765.5 240.25 766 239.76 766.5 239.34 767 238.89 767.5 238.41 768 237.87 768.5 237.36 769 236.88 769.5 236.37 770 235.88 770.5 235.43 771 234.94 771.5 234.42 772 233.88 772.5 233.33 773 232.77 773.5 232.18 774 231.61 774.5 231.07 775 230.57 775.5 230 776 229.35 776.5 228.72 777 228.18 777.5 227.6 778 226.95 778.5 226.32 779 225.69 779.5 225 780 224.31 780.5 223.64 781 222.99 781.5 222.34 782 221.59 782.5 220.81 783 220.09 783.5 219.4 784 218.65 784.5 217.84 785 217.03 785.5 216.22 786 215.39 786.5 214.56 787 213.72 787.5 212.87 788 211.99 788.5 211.11 789 210.21 789.5 209.33 790 208.45 790.5 207.51 791 206.54 791.5 205.56 792 204.58 792.5 203.62 793 202.6 793.5 201.54 794 200.47 794.5 199.41 795 198.34 795.5 197.21 796 196.08 796.5 194.95 797 193.85 797.5 192.72 798 191.55 798.5 190.37 799 189.22 799.5 188.09 800 186.97 800.5 185.86 801 184.77 801.5 183.73 802 182.73 802.5 181.75 803 180.82 803.5 179.91 804 178.99 804.5 178.14 805 177.36 805.5 176.62 806 175.9 806.5 175.17 807 174.49 807.5 173.85 808 173.26 808.5 172.69 809 172.13 809.5 171.59 810 171.1 810.5 170.66 811 170.23 811.5 169.81 812 169.41 812.5 169.07 813 168.73 813.5 168.38 814 168.08 814.5 167.81 815 167.55 815.5 167.27 816 167 816.5 166.77 817 166.57 817.5 166.36 818 166.13 818.5 165.9 819 165.67 819.5 165.46 820 165.23 820.5 165 821 164.78 821.5 164.53 822 164.3 822.5 164.05 823 163.76 823.5 163.48 824 163.18 824.5 162.87 825 162.55 825.5 162.19 826 161.81 826.5 161.43 827 161.03 827.5 160.59 828 160.12 828.5 159.64 829 159.13 829.5 158.59 830 158.06 830.5 157.5 831 156.9 831.5 156.26 832 155.61 832.5 154.96 833 154.28 833.5 153.56 834 152.79 834.5 152.02 835 151.22 835.5 150.37 836 149.48 836.5 148.56 837 147.59 837.5 146.57 838 145.49 838.5 144.34 839 143.15 839.5 141.89 840 140.55 840.5 139.12 841 137.6 841.5 136.05 842 134.47 842.5 132.83 843 131.12 843.5 129.37 844 127.6 844.5 125.78 845 123.95 845.5 122.12 846 120.3 846.5 118.47 847 116.67 847.5 114.87 848 113.04 848.5 111.23 849 109.48 849.5 107.74 850 105.99 850.5 104.27 851 102.58 851.5 100.91 852 99.26 852.5 97.64 853 96.07 853.5 94.55 854 93.06 854.5 91.59 855 90.16 855.5 88.77 856 87.42 856.5 86.12 857 84.87 857.5 83.66 858 82.45 858.5 81.29 859 80.21 859.5 79.16 860 78.12 860.5 77.13 861 76.2 861.5 75.33 862 74.49 862.5 73.69 863 72.93 863.5 72.22 864 71.54 864.5 70.93 865 70.4 865.5 69.9 866 69.45 866.5 69.1 867 68.78 867.5 68.51 868 68.31 868.5 68.18 869 68.12 869.5 68.18 870 68.36 870.5 68.67 871 69.18 871.5 69.9 872 70.83 872.5 71.94 873 73.28 873.5 74.86 874 76.68 874.5 78.75 875 81.06 875.5 83.62 876 86.45 876.5 89.55 877 92.9 877.5 96.48 878 100.25 878.5 104.15 879 108.18 879.5 112.31 880 116.48 880.5 120.65 881 124.8 881.5 128.93 882 132.97 882.5 136.9 883 140.72 883.5 144.44 884 148.06 884.5 151.59 885 155.13 885.5 158.75 886 162.56 886.5 166.65 887 171.04 887.5 175.55 888 179.98 888.5 184.12 889 187.93 889.5 191.45 890 194.75 890.5 197.83 891 200.7 891.5 203.42 892 206.06 892.5 208.57 893 210.98 893.5 213.35 894 215.73 894.5 218.15 895 220.56 895.5 222.99 896 225.4 896.5 227.72 897 229.97 897.5 232.12 898 234.15 898.5 236.09 899 237.93 899.5 239.67 900 241.32 900.5 242.88 901 244.4 901.5 245.9 902 247.34 902.5 248.72 903 250.05 903.5 251.32 904 252.57 904.5 253.78 905 254.92 905.5 256.03 906 257.11 906.5 258.15 907 259.13 907.5 260.08 908 261.02 908.5 261.91 909 262.75 909.5 263.57 910 264.36 910.5 265.08 911 265.77 911.5 266.45 912 267.1 912.5 267.72 913 268.31 913.5 268.86 914 269.39 914.5 269.91 915 270.41 915.5 270.87 916 271.3 916.5 271.69 917 272.06 917.5 272.43 918 272.77 918.5 273.12 919 273.43 919.5 273.7 920 273.98 920.5 274.26 921 274.51 921.5 274.74 922 274.96 922.5 275.18 923 275.37 923.5 275.54 924 275.7 924.5 275.84 925 275.97 925.5 276.12 926 276.25 926.5 276.34 927 276.42 927.5 276.52 928 276.6 928.5 276.64 929 276.68 929.5 276.74 930 276.8 930.5 276.82 931 276.82 931.5 276.84 932 276.83 932.5 276.81 933 276.8 933.5 276.76 934 276.71 934.5 276.68 935 276.66 935.5 276.61 936 276.54 936.5 276.47 937 276.39 937.5 276.29 938 276.22 938.5 276.16 939 276.07 939.5 275.97 940 275.87 940.5 275.78 941 275.66 941.5 275.54 942 275.42 942.5 275.31 943 275.2 943.5 275.08 944 274.94 944.5 274.83 945 274.75 945.5 274.63 946 274.49 946.5 274.34 947 274.22 947.5 274.11 948 274 948.5 273.9 949 273.8 949.5 273.67 950 273.53 950.5 273.41 951 273.31 951.5 273.22 952 273.12 952.5 273.02 953 272.91 953.5 272.82 954 272.74 954.5 272.64 955 272.54 955.5 272.47 956 272.4 956.5 272.33 957 272.28 957.5 272.24 958 272.19 958.5 272.15 959 272.13 959.5 272.13 960 272.13 960.5 272.11 961 272.1 961.5 272.11 962 272.13" stroke="#ff4040" stroke-width="1.35" fill="none"/>
<path d="M637 262.89 637.5 262.89 638 262.84 638.5 262.67 639 262.58 639.5 262.58 640 262.58 640.5 262.5 641 262.43 641.5 262.42 642 262.49 642.5 262.67 643 262.64 643.5 262.47 644 262.5 644.5 262.6 645 262.65 645.5 262.61 646 262.57 646.5 262.56 647 262.54 647.5 262.62 648 262.67 648.5 262.68 649 262.77 649.5 262.85 650 262.79 650.5 262.65 651 262.73 651.5 262.9 652 262.94 652.5 263.01 653 263 653.5 262.83 654 262.86 654.5 263.1 655 263.23 655.5 263.17 656 263.08 656.5 263.12 657 263.21 657.5 263.24 658 263.25 658.5 263.35 659 263.41 659.5 263.39 660 263.48 660.5 263.63 661 263.61 661.5 263.51 662 263.59 662.5 263.69 663 263.61 663.5 263.49 664 263.48 664.5 263.64 665 263.78 665.5 263.7 666 263.65 666.5 263.75 667 263.87 667.5 263.99 668 263.98 668.5 263.95 669 263.94 669.5 263.85 670 263.87 670.5 264.05 671 264.34 671.5 264.72 672 265.02 672.5 265.08 673 264.86 673.5 264.5 674 264.21 674.5 264.01 675 263.82 675.5 263.69 676 263.61 676.5 263.56 677 263.57 677.5 263.47 678 263.41 678.5 263.41 679 263.22 679.5 263.09 680 263.15 680.5 263.08 681 262.9 681.5 262.83 682 262.86 682.5 262.76 683 262.67 683.5 262.72 684 262.68 684.5 262.54 685 262.47 685.5 262.47 686 262.57 686.5 262.54 687 262.33 687.5 262.29 688 262.41 688.5 262.32 689 262.12 689.5 262.14 690 262.28 690.5 262.24 691 262.15 691.5 262.15 692 262.18 692.5 262.24 693 262.29 693.5 262.32 694 262.33 694.5 262.3 695 262.23 695.5 262.23 696 262.34 696.5 262.35 697 262.33 697.5 262.47 698 262.55 698.5 262.44 699 262.44 699.5 262.63 700 262.79 700.5 262.85 701 262.91 701.5 262.95 702 262.9 702.5 262.95 703 263.12 703.5 263.24 704 263.34 704.5 263.44 705 263.49 705.5 263.55 706 263.64 706.5 263.65 707 263.69 707.5 263.78 708 263.84 708.5 263.94 709 264.02 709.5 264.02 710 264.11 710.5 264.24 711 264.29 711.5 264.43 712 264.53 712.5 264.56 713 264.61 713.5 264.68 714 264.75 714.5 264.77 715 264.83 715.5 264.93 716 264.99 716.5 265.07 717 265.2 717.5 265.28 718 265.24 718.5 265.15 719 265.23 719.5 265.49 720 265.72 720.5 265.87 721 265.96 721.5 265.98 722 266.01 722.5 265.91 723 265.65 723.5 265.41 724 265.32 724.5 265.29 725 265.23 725.5 265.18 726 265.04 726.5 264.9 727 264.82 727.5 264.74 728 264.68 728.5 264.62 729 264.56 729.5 264.43 730 264.23 730.5 264.11 731 264.08 731.5 264.01 732 263.82 732.5 263.63 733 263.47 733.5 263.3 734 263.06 734.5 262.81 735 262.68 735.5 262.49 736 262.15 736.5 261.93 737 261.76 737.5 261.46 738 261.25 738.5 261.09 739 260.85 739.5 260.59 740 260.27 740.5 259.93 741 259.68 741.5 259.5 742 259.23 742.5 258.82 743 258.51 743.5 258.23 744 257.84 744.5 257.49 745 257.22 745.5 256.94 746 256.64 746.5 256.3 747 255.93 747.5 255.56 748 255.19 748.5 254.85 749 254.53 749.5 254.14 750 253.74 750.5 253.39 751 253.1 751.5 252.72 752 252.27 752.5 251.94 753 251.59 753.5 251.15 754 250.78 754.5 250.36 755 249.85 755.5 249.4 756 248.98 756.5 248.56 757 248.13 757.5 247.74 758 247.38 758.5 246.98 759 246.57 759.5 246.14 760 245.69 760.5 245.21 761 244.75 761.5 244.33 762 243.89 762.5 243.4 763 242.9 763.5 242.45 764 242.02 764.5 241.6 765 241.11 765.5 240.54 766 240.07 766.5 239.67 767 239.17 767.5 238.64 768 238.14 768.5 237.68 769 237.21 769.5 236.71 770 236.23 770.5 235.73 771 235.21 771.5 234.67 772 234.11 772.5 233.58 773 233.04 773.5 232.45 774 231.94 774.5 231.45 775 230.91 775.5 230.32 776 229.71 776.5 229.12 777 228.52 777.5 227.87 778 227.2 778.5 226.55 779 225.91 779.5 225.29 780 224.62 780.5 223.92 781 223.25 781.5 222.58 782 221.88 782.5 221.15 783 220.4 783.5 219.64 784 218.85 784.5 218.06 785 217.3 785.5 216.53 786 215.73 786.5 214.88 787 214.02 787.5 213.14 788 212.25 788.5 211.37 789 210.48 789.5 209.59 790 208.68 790.5 207.71 791 206.77 791.5 205.83 792 204.84 792.5 203.84 793 202.83 793.5 201.81 794 200.79 794.5 199.75 795 198.68 795.5 197.6 796 196.53 796.5 195.44 797 194.32 797.5 193.22 798 192.12 798.5 190.98 799 189.85 799.5 188.76 800 187.69 800.5 186.62 801 185.55 801.5 184.51 802 183.5 802.5 182.54 803 181.63 803.5 180.74 804 179.88 804.5 179.02 805 178.2 805.5 177.44 806 176.7 806.5 175.99 807 175.32 807.5 174.7 808 174.09 808.5 173.46 809 172.89 809.5 172.38 810 171.91 810.5 171.45 811 171 811.5 170.58 812 170.21 812.5 169.86 813 169.51 813.5 169.19 814 168.89 814.5 168.62 815 168.37 815.5 168.12 816 167.88 816.5 167.66 817 167.45 817.5 167.26 818 167.07 818.5 166.84 819 166.62 819.5 166.43 820 166.24 820.5 166.03 821 165.79 821.5 165.56 822 165.32 822.5 165.05 823 164.78 823.5 164.5 824 164.19 824.5 163.86 825 163.52 825.5 163.15 826 162.74 826.5 162.31 827 161.85 827.5 161.37 828 160.86 828.5 160.36 829 159.85 829.5 159.29 830 158.7 830.5 158.11 831 157.52 831.5 156.88 832 156.23 832.5 155.56 833 154.89 833.5 154.21 834 153.48 834.5 152.72 835 151.96 835.5 151.2 836 150.38 836.5 149.5 837 148.61 837.5 147.68 838 146.66 838.5 145.6 839 144.48 839.5 143.26 840 141.99 840.5 140.66 841 139.25 841.5 137.78 842 136.23 842.5 134.62 843 132.98 843.5 131.28 844 129.55 844.5 127.81 845 126.03 845.5 124.24 846 122.44 846.5 120.61 847 118.78 847.5 116.95 848 115.14 848.5 113.35 849 111.57 849.5 109.81 850 108.07 850.5 106.35 851 104.68 851.5 103.01 852 101.37 852.5 99.78 853 98.24 853.5 96.75 854 95.29 854.5 93.88 855 92.51 855.5 91.19 856 89.93 856.5 88.72 857 87.55 857.5 86.41 858 85.3 858.5 84.26 859 83.25 859.5 82.27 860 81.34 860.5 80.45 861 79.62 861.5 78.82 862 78.09 862.5 77.39 863 76.71 863.5 76.08 864 75.52 864.5 75.03 865 74.58 865.5 74.18 866 73.81 866.5 73.46 867 73.2 867.5 73.01 868 72.88 868.5 72.79 869 72.77 869.5 72.88 870 73.12 870.5 73.5 871 74.05 871.5 74.77 872 75.68 872.5 76.81 873 78.17 873.5 79.75 874 81.55 874.5 83.59 875 85.85 875.5 88.33 876 91.07 876.5 94.09 877 97.33 877.5 100.76 878 104.4 878.5 108.17 879 112.02 879.5 115.95 880 119.9 880.5 123.85 881 127.79 881.5 131.65 882 135.38 882.5 138.99 883 142.52 883.5 145.98 884 149.35 884.5 152.66 885 156 885.5 159.48 886 163.18 886.5 167.15 887 171.37 887.5 175.72 888 180.01 888.5 184.08 889 187.86 889.5 191.37 890 194.67 890.5 197.79 891 200.72 891.5 203.51 892 206.18 892.5 208.74 893 211.23 893.5 213.69 894 216.13 894.5 218.53 895 220.94 895.5 223.34 896 225.67 896.5 227.98 897 230.21 897.5 232.34 898 234.35 898.5 236.25 899 238.07 899.5 239.82 900 241.48 900.5 243.07 901 244.62 901.5 246.12 902 247.58 902.5 248.99 903 250.36 903.5 251.66 904 252.89 904.5 254.09 905 255.26 905.5 256.38 906 257.46 906.5 258.51 907 259.51 907.5 260.47 908 261.38 908.5 262.25 909 263.1 909.5 263.9 910 264.66 910.5 265.4 911 266.11 911.5 266.8 912 267.46 912.5 268.07 913 268.66 913.5 269.21 914 269.74 914.5 270.24 915 270.7 915.5 271.15 916 271.6 916.5 272.02 917 272.41 917.5 272.77 918 273.12 918.5 273.46 919 273.76 919.5 274.02 920 274.29 920.5 274.55 921 274.77 921.5 275.01 922 275.25 922.5 275.46 923 275.66 923.5 275.85 924 275.99 924.5 276.11 925 276.25 925.5 276.41 926 276.52 926.5 276.61 927 276.71 927.5 276.79 928 276.84 928.5 276.91 929 277 929.5 277.05 930 277.05 930.5 277.06 931 277.06 931.5 277.07 932 277.08 932.5 277.08 933 277.07 933.5 277.04 934 277.01 934.5 276.97 935 276.91 935.5 276.84 936 276.8 936.5 276.76 937 276.69 937.5 276.61 938 276.52 938.5 276.42 939 276.32 939.5 276.21 940 276.12 940.5 276.02 941 275.92 941.5 275.8 942 275.7 942.5 275.63 943 275.52 943.5 275.38 944 275.27 944.5 275.17 945 275.04 945.5 274.9 946 274.77 946.5 274.67 947 274.56 947.5 274.43 948 274.3 948.5 274.18 949 274.08 949.5 273.96 950 273.83 950.5 273.72 951 273.62 951.5 273.53 952 273.43 952.5 273.32 953 273.23 953.5 273.16 954 273.07 954.5 272.98 955 272.89 955.5 272.82 956 272.76 956.5 272.7 957 272.63 957.5 272.57 958 272.52 958.5 272.47 959 272.43 959.5 272.42 960 272.43 960.5 272.42 961 272.38 961.5 272.39 962 272.44" stroke="#3af03a" stroke-width="1.35" fill="none"/>
<path d="M637 263.53 637.5 263.37 638 263.4 638.5 263.43 639 263.28 639.5 263.12 640 263.11 640.5 263.15 641 263.02 641.5 262.97 642 263.15 642.5 263.16 643 262.98 643.5 263.02 644 263.15 644.5 263.15 645 263.08 645.5 263.07 646 263.17 646.5 263.18 647 263.05 647.5 262.95 648 263.02 648.5 263.13 649 263.13 649.5 263.14 650 263.21 650.5 263.25 651 263.3 651.5 263.37 652 263.41 652.5 263.45 653 263.47 653.5 263.35 654 263.26 654.5 263.3 655 263.42 655.5 263.53 656 263.53 656.5 263.61 657 263.76 657.5 263.77 658 263.77 658.5 263.83 659 263.88 659.5 263.9 660 263.95 660.5 264.01 661 263.94 661.5 263.88 662 263.92 662.5 264 663 264.11 663.5 264.08 664 264.16 664.5 264.4 665 264.44 665.5 264.37 666 264.34 666.5 264.29 667 264.37 667.5 264.47 668 264.43 668.5 264.32 669 264.22 669.5 264.23 670 264.3 670.5 264.48 671 264.85 671.5 265.21 672 265.4 672.5 265.49 673 265.42 673.5 265.13 674 264.68 674.5 264.37 675 264.36 675.5 264.36 676 264.24 676.5 264.1 677 264.02 677.5 263.99 678 263.91 678.5 263.77 679 263.64 679.5 263.56 680 263.54 680.5 263.56 681 263.59 681.5 263.57 682 263.47 682.5 263.31 683 263.3 683.5 263.39 684 263.31 684.5 263.28 685 263.32 685.5 263.16 686 263.03 686.5 263.04 687 263.08 687.5 263.02 688 262.85 688.5 262.86 689 262.97 689.5 262.95 690 262.8 690.5 262.65 691 262.67 691.5 262.72 692 262.7 692.5 262.74 693 262.73 693.5 262.6 694 262.54 694.5 262.59 695 262.58 695.5 262.69 696 262.84 696.5 262.8 697 262.79 697.5 262.86 698 262.88 698.5 262.97 699 263.05 699.5 263.04 700 263 700.5 263.06 701 263.17 701.5 263.17 702 263.25 702.5 263.38 703 263.42 703.5 263.56 704 263.8 704.5 263.89 705 263.88 705.5 263.84 706 263.9 706.5 264.11 707 264.24 707.5 264.29 708 264.38 708.5 264.48 709 264.54 709.5 264.55 710 264.54 710.5 264.65 711 264.75 711.5 264.76 712 264.81 712.5 264.9 713 265.06 713.5 265.16 714 265.17 714.5 265.29 715 265.38 715.5 265.37 716 265.37 716.5 265.41 717 265.43 717.5 265.41 718 265.49 718.5 265.7 719 265.91 719.5 266.03 720 266.13 720.5 266.32 721 266.56 721.5 266.66 722 266.63 722.5 266.5 723 266.29 723.5 266.11 724 265.88 724.5 265.69 725 265.64 725.5 265.56 726 265.5 726.5 265.47 727 265.44 727.5 265.36 728 265.16 728.5 265.05 729 265.09 729.5 265.02 730 264.82 730.5 264.63 731 264.45 731.5 264.3 732 264.18 732.5 264.05 733 263.83 733.5 263.66 734 263.53 734.5 263.35 735 263.21 735.5 263.02 736 262.71 736.5 262.47 737 262.35 737.5 262.14 738 261.86 738.5 261.62 739 261.31 739.5 261.03 740 260.85 740.5 260.59 741 260.27 741.5 259.95 742 259.65 742.5 259.44 743 259.15 743.5 258.79 744 258.46 744.5 258.07 745 257.65 745.5 257.31 746 257 746.5 256.67 747 256.4 747.5 256.14 748 255.74 748.5 255.34 749 255.03 749.5 254.62 750 254.23 750.5 253.91 751 253.54 751.5 253.16 752 252.78 752.5 252.44 753 252.07 753.5 251.63 754 251.18 754.5 250.73 755 250.34 755.5 249.96 756 249.6 756.5 249.2 757 248.73 757.5 248.31 758 247.92 758.5 247.45 759 247.01 759.5 246.63 760 246.17 760.5 245.7 761 245.3 761.5 244.83 762 244.37 762.5 243.94 763 243.51 763.5 243.07 764 242.58 764.5 242.06 765 241.57 765.5 241.16 766 240.73 766.5 240.21 767 239.65 767.5 239.14 768 238.72 768.5 238.29 769 237.76 769.5 237.17 770 236.67 770.5 236.26 771 235.78 771.5 235.26 772 234.73 772.5 234.18 773 233.61 773.5 232.99 774 232.41 774.5 231.89 775 231.36 775.5 230.77 776 230.16 776.5 229.54 777 228.95 777.5 228.37 778 227.8 778.5 227.17 779 226.47 779.5 225.81 780 225.14 780.5 224.42 781 223.7 781.5 222.98 782 222.27 782.5 221.58 783 220.83 783.5 220.08 784 219.34 784.5 218.55 785 217.73 785.5 216.88 786 216.01 786.5 215.18 787 214.35 787.5 213.49 788 212.63 788.5 211.75 789 210.84 789.5 209.89 790 208.95 790.5 208.04 791 207.12 791.5 206.16 792 205.18 792.5 204.23 793 203.23 793.5 202.22 794 201.25 794.5 200.25 795 199.17 795.5 198.09 796 197.04 796.5 195.99 797 194.95 797.5 193.87 798 192.8 798.5 191.75 799 190.68 799.5 189.63 800 188.63 800.5 187.62 801 186.59 801.5 185.61 802 184.65 802.5 183.69 803 182.79 803.5 181.92 804 181.08 804.5 180.25 805 179.43 805.5 178.64 806 177.91 806.5 177.2 807 176.5 807.5 175.83 808 175.21 808.5 174.61 809 174.03 809.5 173.48 810 172.96 810.5 172.47 811 172.05 811.5 171.65 812 171.27 812.5 170.9 813 170.57 813.5 170.27 814 169.97 814.5 169.7 815 169.49 815.5 169.3 816 169.1 816.5 168.88 817 168.66 817.5 168.49 818 168.34 818.5 168.16 819 167.96 819.5 167.78 820 167.6 820.5 167.4 821 167.2 821.5 166.98 822 166.73 822.5 166.47 823 166.2 823.5 165.89 824 165.57 824.5 165.22 825 164.83 825.5 164.4 826 163.94 826.5 163.48 827 162.99 827.5 162.46 828 161.94 828.5 161.41 829 160.82 829.5 160.21 830 159.58 830.5 158.96 831 158.35 831.5 157.7 832 157.04 832.5 156.38 833 155.71 833.5 155.03 834 154.38 834.5 153.72 835 153.04 835.5 152.33 836 151.58 836.5 150.8 837 150.01 837.5 149.18 838 148.29 838.5 147.35 839 146.33 839.5 145.23 840 144.06 840.5 142.83 841 141.52 841.5 140.14 842 138.68 842.5 137.14 843 135.56 843.5 133.96 844 132.31 844.5 130.61 845 128.87 845.5 127.12 846 125.33 846.5 123.51 847 121.69 847.5 119.88 848 118.08 848.5 116.3 849 114.53 849.5 112.76 850 110.99 850.5 109.25 851 107.57 851.5 105.92 852 104.31 852.5 102.76 853 101.26 853.5 99.81 854 98.42 854.5 97.09 855 95.79 855.5 94.54 856 93.38 856.5 92.28 857 91.21 857.5 90.17 858 89.21 858.5 88.31 859 87.44 859.5 86.6 860 85.8 860.5 85.07 861 84.37 861.5 83.72 862 83.12 862.5 82.54 863 81.99 863.5 81.52 864 81.08 864.5 80.66 865 80.32 865.5 80.05 866 79.79 866.5 79.54 867 79.35 867.5 79.22 868 79.16 868.5 79.17 869 79.24 869.5 79.38 870 79.68 870.5 80.13 871 80.72 871.5 81.51 872 82.48 872.5 83.63 873 84.96 873.5 86.5 874 88.27 874.5 90.26 875 92.45 875.5 94.84 876 97.47 876.5 100.33 877 103.42 877.5 106.7 878 110.14 878.5 113.72 879 117.36 879.5 121.02 880 124.67 880.5 128.3 881 131.88 881.5 135.35 882 138.67 882.5 141.87 883 145.01 883.5 148.1 884 151.14 884.5 154.2 885 157.33 885.5 160.58 886 164.05 886.5 167.79 887 171.77 887.5 175.91 888 180.03 888.5 183.96 889 187.7 889.5 191.24 890 194.55 890.5 197.69 891 200.71 891.5 203.62 892 206.43 892.5 209.1 893 211.67 893.5 214.22 894 216.7 894.5 219.12 895 221.51 895.5 223.88 896 226.17 896.5 228.38 897 230.55 897.5 232.67 898 234.67 898.5 236.57 899 238.41 899.5 240.17 900 241.86 900.5 243.49 901 245.05 901.5 246.54 902 248.01 902.5 249.44 903 250.81 903.5 252.13 904 253.39 904.5 254.6 905 255.79 905.5 256.92 906 258.02 906.5 259.08 907 260.07 907.5 261.01 908 261.94 908.5 262.82 909 263.67 909.5 264.5 910 265.28 910.5 265.99 911 266.68 911.5 267.37 912 268.05 912.5 268.68 913 269.23 913.5 269.78 914 270.32 914.5 270.83 915 271.29 915.5 271.74 916 272.16 916.5 272.54 917 272.91 917.5 273.28 918 273.6 918.5 273.91 919 274.23 919.5 274.54 920 274.8 920.5 275.03 921 275.27 921.5 275.5 922 275.73 922.5 275.95 923 276.13 923.5 276.28 924 276.44 924.5 276.61 925 276.76 925.5 276.89 926 277 926.5 277.09 927 277.18 927.5 277.26 928 277.33 928.5 277.38 929 277.43 929.5 277.47 930 277.51 930.5 277.54 931 277.56 931.5 277.56 932 277.54 932.5 277.51 933 277.5 933.5 277.48 934 277.46 934.5 277.42 935 277.38 935.5 277.34 936 277.29 936.5 277.22 937 277.15 937.5 277.09 938 277.01 938.5 276.91 939 276.82 939.5 276.73 940 276.64 940.5 276.55 941 276.45 941.5 276.34 942 276.21 942.5 276.1 943 276.01 943.5 275.9 944 275.78 944.5 275.67 945 275.55 945.5 275.43 946 275.31 946.5 275.21 947 275.09 947.5 274.95 948 274.81 948.5 274.7 949 274.62 949.5 274.5 950 274.35 950.5 274.22 951 274.13 951.5 274.04 952 273.93 952.5 273.82 953 273.73 953.5 273.65 954 273.59 954.5 273.53 955 273.44 955.5 273.34 956 273.25 956.5 273.19 957 273.13 957.5 273.07 958 273.02 958.5 272.98 959 272.97 959.5 272.94 960 272.9 960.5 272.89 961 272.9 961.5 272.88 962 272.88" stroke="#4040ff" stroke-width="1.35" fill="none"/>
<path d="M637 263.64 637.5 263.55 638 263.64 638.5 263.69 639 263.6 639.5 263.46 640 263.36 640.5 263.47 641 263.63 641.5 263.63 642 263.47 642.5 263.36 643 263.49 643.5 263.48 644 263.33 644.5 263.27 645 263.17 645.5 263.14 646 263.2 646.5 263.28 647 263.45 647.5 263.5 648 263.38 648.5 263.29 649 263.24 649.5 263.32 650 263.51 650.5 263.52 651 263.43 651.5 263.49 652 263.63 652.5 263.76 653 263.81 653.5 263.78 654 263.84 654.5 264 655 264.01 655.5 263.84 656 263.84 656.5 263.92 657 263.86 657.5 263.84 658 263.87 658.5 263.9 659 263.94 659.5 264.08 660 264.32 660.5 264.45 661 264.43 661.5 264.39 662 264.36 662.5 264.3 663 264.28 663.5 264.4 664 264.46 664.5 264.32 665 264.35 665.5 264.52 666 264.57 666.5 264.64 667 264.76 667.5 264.76 668 264.63 668.5 264.62 669 264.76 669.5 264.83 670 264.88 670.5 265.05 671 265.33 671.5 265.63 672 265.84 672.5 266.01 673 265.9 673.5 265.46 674 265.05 674.5 264.73 675 264.48 675.5 264.26 676 264.23 676.5 264.35 677 264.35 677.5 264.33 678 264.3 678.5 264.16 679 264.02 679.5 264 680 264.11 680.5 264.15 681 264.1 681.5 264.04 682 263.95 682.5 263.81 683 263.7 683.5 263.68 684 263.6 684.5 263.5 685 263.47 685.5 263.49 686 263.5 686.5 263.41 687 263.27 687.5 263.25 688 263.3 688.5 263.22 689 263.1 689.5 263.02 690 262.97 690.5 262.96 691 263.03 691.5 263.19 692 263.25 692.5 263.13 693 263.03 693.5 263.08 694 263.15 694.5 263.17 695 263.18 695.5 263.18 696 263.1 696.5 263.05 697 263.18 697.5 263.32 698 263.33 698.5 263.28 699 263.32 699.5 263.38 700 263.41 700.5 263.52 701 263.7 701.5 263.79 702 263.74 702.5 263.66 703 263.73 703.5 263.88 704 263.99 704.5 264.06 705 264.13 705.5 264.13 706 264.24 706.5 264.43 707 264.53 707.5 264.6 708 264.59 708.5 264.6 709 264.74 709.5 264.83 710 264.84 710.5 264.83 711 264.96 711.5 265.23 712 265.41 712.5 265.42 713 265.31 713.5 265.29 714 265.47 714.5 265.62 715 265.62 715.5 265.55 716 265.63 716.5 265.74 717 265.79 717.5 265.97 718 266.07 718.5 265.98 719 266.07 719.5 266.39 720 266.59 720.5 266.69 721 266.85 721.5 266.94 722 266.79 722.5 266.59 723 266.47 723.5 266.32 724 266.25 724.5 266.17 725 265.97 725.5 265.8 726 265.77 726.5 265.77 727 265.71 727.5 265.71 728 265.69 728.5 265.6 729 265.44 729.5 265.19 730 265.08 730.5 265.04 731 264.9 731.5 264.73 732 264.51 732.5 264.35 733 264.23 733.5 264.05 734 263.94 734.5 263.76 735 263.47 735.5 263.17 736 262.94 736.5 262.74 737 262.53 737.5 262.36 738 262.18 738.5 261.92 739 261.66 739.5 261.43 740 261.18 740.5 260.89 741 260.59 741.5 260.22 742 259.86 742.5 259.6 743 259.36 743.5 259.05 744 258.79 744.5 258.51 745 258.09 745.5 257.71 746 257.4 746.5 257.1 747 256.77 747.5 256.35 748 255.96 748.5 255.65 749 255.28 749.5 254.88 750 254.54 750.5 254.21 751 253.8 751.5 253.36 752 253 752.5 252.65 753 252.23 753.5 251.79 754 251.45 754.5 251.17 755 250.81 755.5 250.39 756 249.93 756.5 249.49 757 249.08 757.5 248.62 758 248.19 758.5 247.78 759 247.31 759.5 246.85 760 246.43 760.5 246.01 761 245.55 761.5 245.09 762 244.64 762.5 244.22 763 243.81 763.5 243.31 764 242.8 764.5 242.38 765 241.95 765.5 241.47 766 240.97 766.5 240.48 767 240.01 767.5 239.48 768 238.97 768.5 238.54 769 238.05 769.5 237.5 770 236.99 770.5 236.52 771 236 771.5 235.46 772 234.96 772.5 234.44 773 233.88 773.5 233.31 774 232.77 774.5 232.28 775 231.71 775.5 231.05 776 230.44 776.5 229.9 777 229.33 777.5 228.7 778 228.02 778.5 227.34 779 226.69 779.5 226.06 780 225.44 780.5 224.76 781 223.99 781.5 223.27 782 222.6 782.5 221.86 783 221.05 783.5 220.25 784 219.49 784.5 218.73 785 217.92 785.5 217.09 786 216.27 786.5 215.41 787 214.55 787.5 213.66 788 212.78 788.5 211.94 789 211.06 789.5 210.12 790 209.19 790.5 208.25 791 207.27 791.5 206.33 792 205.42 792.5 204.44 793 203.39 793.5 202.39 794 201.43 794.5 200.44 795 199.42 795.5 198.39 796 197.35 796.5 196.32 797 195.26 797.5 194.19 798 193.17 798.5 192.16 799 191.13 799.5 190.1 800 189.09 800.5 188.09 801 187.08 801.5 186.11 802 185.19 802.5 184.26 803 183.33 803.5 182.44 804 181.59 804.5 180.76 805 179.96 805.5 179.2 806 178.46 806.5 177.73 807 177.04 807.5 176.36 808 175.73 808.5 175.13 809 174.55 809.5 173.99 810 173.48 810.5 172.99 811 172.54 811.5 172.1 812 171.71 812.5 171.38 813 171.07 813.5 170.76 814 170.49 814.5 170.26 815 170.03 815.5 169.83 816 169.62 816.5 169.44 817 169.29 817.5 169.13 818 168.96 818.5 168.78 819 168.6 819.5 168.43 820 168.25 820.5 168.04 821 167.83 821.5 167.62 822 167.39 822.5 167.13 823 166.82 823.5 166.51 824 166.18 824.5 165.81 825 165.41 825.5 164.98 826 164.52 826.5 164.03 827 163.53 827.5 162.99 828 162.43 828.5 161.85 829 161.25 829.5 160.65 830 160.02 830.5 159.4 831 158.77 831.5 158.11 832 157.46 832.5 156.83 833 156.17 833.5 155.49 834 154.84 834.5 154.2 835 153.53 835.5 152.86 836 152.15 836.5 151.4 837 150.66 837.5 149.88 838 149.03 838.5 148.11 839 147.14 839.5 146.11 840 145.01 840.5 143.83 841 142.55 841.5 141.2 842 139.79 842.5 138.31 843 136.78 843.5 135.21 844 133.57 844.5 131.88 845 130.17 845.5 128.45 846 126.68 846.5 124.88 847 123.07 847.5 121.26 848 119.45 848.5 117.66 849 115.86 849.5 114.06 850 112.3 850.5 110.59 851 108.91 851.5 107.27 852 105.67 852.5 104.12 853 102.61 853.5 101.16 854 99.8 854.5 98.5 855 97.27 855.5 96.12 856 95 856.5 93.92 857 92.92 857.5 91.97 858 91.06 858.5 90.21 859 89.38 859.5 88.6 860 87.87 860.5 87.17 861 86.53 861.5 85.96 862 85.41 862.5 84.89 863 84.44 863.5 84.03 864 83.65 864.5 83.31 865 83.01 865.5 82.75 866 82.55 866.5 82.37 867 82.23 867.5 82.14 868 82.1 868.5 82.11 869 82.21 869.5 82.42 870 82.75 870.5 83.2 871 83.8 871.5 84.57 872 85.55 872.5 86.72 873 88.07 873.5 89.63 874 91.38 874.5 93.31 875 95.46 875.5 97.84 876 100.42 876.5 103.23 877 106.28 877.5 109.5 878 112.85 878.5 116.28 879 119.81 879.5 123.34 880 126.85 880.5 130.34 881 133.77 881.5 137.07 882 140.2 882.5 143.23 883 146.21 883.5 149.11 884 151.97 884.5 154.89 885 157.93 885.5 161.1 886 164.45 886.5 168.09 887 172 887.5 176.04 888 180.06 888.5 183.94 889 187.65 889.5 191.17 890 194.5 890.5 197.68 891 200.77 891.5 203.73 892 206.54 892.5 209.26 893 211.92 893.5 214.49 894 216.98 894.5 219.42 895 221.82 895.5 224.16 896 226.45 896.5 228.66 897 230.8 897.5 232.86 898 234.86 898.5 236.79 899 238.63 899.5 240.41 900 242.1 900.5 243.72 901 245.31 901.5 246.84 902 248.32 902.5 249.74 903 251.09 903.5 252.41 904 253.69 904.5 254.92 905 256.1 905.5 257.24 906 258.35 906.5 259.41 907 260.41 907.5 261.36 908 262.28 908.5 263.16 909 264.02 909.5 264.86 910 265.63 910.5 266.35 911 267.05 911.5 267.74 912 268.37 912.5 268.96 913 269.54 913.5 270.11 914 270.62 914.5 271.12 915 271.62 915.5 272.06 916 272.47 916.5 272.89 917 273.27 917.5 273.62 918 273.95 918.5 274.26 919 274.56 919.5 274.86 920 275.12 920.5 275.35 921 275.58 921.5 275.81 922 276.03 922.5 276.24 923 276.41 923.5 276.58 924 276.74 924.5 276.89 925 277.05 925.5 277.17 926 277.26 926.5 277.36 927 277.46 927.5 277.55 928 277.63 928.5 277.68 929 277.73 929.5 277.77 930 277.81 930.5 277.84 931 277.83 931.5 277.84 932 277.85 932.5 277.82 933 277.8 933.5 277.79 934 277.76 934.5 277.7 935 277.65 935.5 277.61 936 277.57 936.5 277.51 937 277.42 937.5 277.35 938 277.29 938.5 277.22 939 277.14 939.5 277.05 940 276.96 940.5 276.86 941 276.72 941.5 276.61 942 276.52 942.5 276.44 943 276.34 943.5 276.23 944 276.12 944.5 276 945 275.88 945.5 275.76 946 275.63 946.5 275.52 947 275.4 947.5 275.26 948 275.13 948.5 275.02 949 274.89 949.5 274.77 950 274.68 950.5 274.57 951 274.45 951.5 274.34 952 274.25 952.5 274.17 953 274.08 953.5 273.98 954 273.89 954.5 273.8 955 273.71 955.5 273.62 956 273.56 956.5 273.52 957 273.45 957.5 273.38 958 273.33 958.5 273.28 959 273.24 959.5 273.24 960 273.23 960.5 273.2 961 273.18 961.5 273.17 962 273.19" stroke="#ff40ff" stroke-width="1.35" fill="none"/>
<path d="M637 262.13 637.5 262.13 638 262.06 638.5 261.94 639 261.92 639.5 262.07 640 262.04 640.5 261.88 641 261.88 641.5 261.77 642 261.72 642.5 261.87 643 262 643.5 261.88 644 261.69 644.5 261.72 645 261.79 645.5 261.82 646 261.81 646.5 261.77 647 261.76 647.5 261.66 648 261.59 648.5 261.65 649 261.78 649.5 261.91 650 261.98 650.5 262 651 261.98 651.5 262.06 652 262.09 652.5 262.01 653 262.08 653.5 262.26 654 262.33 654.5 262.38 655 262.42 655.5 262.38 656 262.31 656.5 262.29 657 262.4 657.5 262.49 658 262.49 658.5 262.56 659 262.55 659.5 262.51 660 262.54 660.5 262.57 661 262.55 661.5 262.48 662 262.56 662.5 262.78 663 262.78 663.5 262.66 664 262.66 664.5 262.68 665 262.71 665.5 262.84 666 262.84 666.5 262.81 667 262.96 667.5 263.02 668 262.89 668.5 262.9 669 263.02 669.5 263.07 670 263.12 670.5 263.33 671 263.67 671.5 263.98 672 264.2 672.5 264.26 673 264.17 673.5 263.88 674 263.48 674.5 263.18 675 262.92 675.5 262.75 676 262.69 676.5 262.75 677 262.83 677.5 262.87 678 262.81 678.5 262.66 679 262.65 679.5 262.67 680 262.52 680.5 262.34 681 262.24 681.5 262.29 682 262.35 682.5 262.32 683 262.33 683.5 262.31 684 262.1 684.5 261.96 685 262.08 685.5 262.04 686 261.82 686.5 261.8 687 261.8 687.5 261.79 688 261.78 688.5 261.71 689 261.55 689.5 261.52 690 261.68 690.5 261.68 691 261.48 691.5 261.38 692 261.42 692.5 261.5 693 261.53 693.5 261.43 694 261.43 694.5 261.5 695 261.48 695.5 261.48 696 261.5 696.5 261.42 697 261.4 697.5 261.54 698 261.63 698.5 261.56 699 261.6 699.5 261.74 700 261.75 700.5 261.78 701 261.86 701.5 261.97 702 262.01 702.5 261.97 703 262.03 703.5 262.12 704 262.12 704.5 262.14 705 262.27 705.5 262.43 706 262.48 706.5 262.64 707 262.9 707.5 263.04 708 263.03 708.5 262.95 709 262.97 709.5 263.08 710 263.22 710.5 263.33 711 263.42 711.5 263.55 712 263.65 712.5 263.66 713 263.68 713.5 263.82 714 263.9 714.5 263.88 715 263.99 715.5 264.13 716 264.11 716.5 264.12 717 264.24 717.5 264.26 718 264.25 718.5 264.42 719 264.67 719.5 264.85 720 264.94 720.5 264.98 721 265.11 721.5 265.24 722 265.2 722.5 265.01 723 264.83 723.5 264.74 724 264.72 724.5 264.66 725 264.5 725.5 264.32 726 264.25 726.5 264.31 727 264.31 727.5 264.14 728 263.95 728.5 263.85 729 263.77 729.5 263.72 730 263.66 730.5 263.52 731 263.34 731.5 263.19 732 263.03 732.5 262.82 733 262.69 733.5 262.56 734 262.32 734.5 262.09 735 261.94 735.5 261.83 736 261.63 736.5 261.36 737 261.14 737.5 260.87 738 260.48 738.5 260.19 739 260.05 739.5 259.78 740 259.44 740.5 259.19 741 258.92 741.5 258.59 742 258.27 742.5 257.99 743 257.71 743.5 257.41 744 257.16 744.5 256.9 745 256.52 745.5 256.11 746 255.77 746.5 255.45 747 255.1 747.5 254.78 748 254.44 748.5 254.02 749 253.66 749.5 253.38 750 252.99 750.5 252.55 751 252.17 751.5 251.78 752 251.41 752.5 251.05 753 250.67 753.5 250.26 754 249.89 754.5 249.45 755 249 755.5 248.6 756 248.21 756.5 247.84 757 247.41 757.5 246.94 758 246.49 758.5 246.08 759 245.68 759.5 245.24 760 244.86 760.5 244.47 761 243.97 761.5 243.5 762 243.11 762.5 242.68 763 242.17 763.5 241.66 764 241.21 764.5 240.77 765 240.28 765.5 239.78 766 239.29 766.5 238.84 767 238.39 767.5 237.88 768 237.38 768.5 236.89 769 236.36 769.5 235.85 770 235.39 770.5 234.92 771 234.41 771.5 233.89 772 233.37 772.5 232.84 773 232.3 773.5 231.71 774 231.17 774.5 230.64 775 230.08 775.5 229.46 776 228.86 776.5 228.32 777 227.72 777.5 227.04 778 226.43 778.5 225.83 779 225.16 779.5 224.49 780 223.82 780.5 223.13 781 222.44 781.5 221.69 782 220.96 782.5 220.27 783 219.56 783.5 218.82 784 218.08 784.5 217.34 785 216.61 785.5 215.83 786 215.01 786.5 214.2 787 213.41 787.5 212.6 788 211.78 788.5 210.95 789 210.15 789.5 209.35 790 208.51 790.5 207.63 791 206.73 791.5 205.84 792 204.96 792.5 204.05 793 203.11 793.5 202.18 794 201.26 794.5 200.34 795 199.41 795.5 198.47 796 197.53 796.5 196.55 797 195.54 797.5 194.56 798 193.59 798.5 192.63 799 191.66 799.5 190.65 800 189.65 800.5 188.68 801 187.72 801.5 186.76 802 185.86 802.5 184.95 803 184.04 803.5 183.17 804 182.34 804.5 181.49 805 180.68 805.5 179.9 806 179.14 806.5 178.41 807 177.71 807.5 177.05 808 176.4 808.5 175.78 809 175.18 809.5 174.61 810 174.11 810.5 173.64 811 173.17 811.5 172.75 812 172.4 812.5 172.06 813 171.74 813.5 171.47 814 171.22 814.5 170.97 815 170.73 815.5 170.52 816 170.36 816.5 170.2 817 170.03 817.5 169.87 818 169.72 818.5 169.59 819 169.44 819.5 169.26 820 169.09 820.5 168.92 821 168.72 821.5 168.48 822 168.25 822.5 168.02 823 167.72 823.5 167.38 824 167.03 824.5 166.65 825 166.21 825.5 165.76 826 165.28 826.5 164.75 827 164.2 827.5 163.64 828 163.06 828.5 162.45 829 161.84 829.5 161.23 830 160.6 830.5 159.96 831 159.29 831.5 158.61 832 157.95 832.5 157.32 833 156.69 833.5 156.04 834 155.39 834.5 154.78 835 154.17 835.5 153.54 836 152.9 836.5 152.23 837 151.53 837.5 150.81 838 150.03 838.5 149.19 839 148.29 839.5 147.32 840 146.27 840.5 145.15 841 143.94 841.5 142.64 842 141.28 842.5 139.84 843 138.34 843.5 136.83 844 135.26 844.5 133.63 845 131.93 845.5 130.21 846 128.44 846.5 126.66 847 124.86 847.5 123.06 848 121.28 848.5 119.48 849 117.67 849.5 115.88 850 114.11 850.5 112.37 851 110.68 851.5 109.03 852 107.43 852.5 105.91 853 104.45 853.5 103.07 854 101.75 854.5 100.49 855 99.29 855.5 98.14 856 97.07 856.5 96.08 857 95.15 857.5 94.29 858 93.47 858.5 92.68 859 91.95 859.5 91.26 860 90.62 860.5 90.04 861 89.49 861.5 88.97 862 88.51 862.5 88.09 863 87.69 863.5 87.35 864 87.05 864.5 86.76 865 86.51 865.5 86.33 866 86.2 866.5 86.07 867 85.97 867.5 85.92 868 85.93 868.5 85.99 869 86.11 869.5 86.36 870 86.74 870.5 87.24 871 87.88 871.5 88.7 872 89.71 872.5 90.87 873 92.2 873.5 93.75 874 95.48 874.5 97.38 875 99.49 875.5 101.81 876 104.31 876.5 107.04 877 109.99 877.5 113.12 878 116.34 878.5 119.64 879 123 879.5 126.39 880 129.77 880.5 133.08 881 136.28 881.5 139.35 882 142.25 882.5 145 883 147.7 883.5 150.38 884 153.07 884.5 155.83 885 158.71 885.5 161.73 886 164.97 886.5 168.49 887 172.25 887.5 176.13 888 180.01 888.5 183.77 889 187.36 889.5 190.78 890 194.06 890.5 197.22 891 200.24 891.5 203.15 892 205.96 892.5 208.64 893 211.23 893.5 213.75 894 216.19 894.5 218.54 895 220.81 895.5 223.05 896 225.22 896.5 227.32 897 229.35 897.5 231.32 898 233.27 898.5 235.13 899 236.94 899.5 238.7 900 240.39 900.5 242.04 901 243.65 901.5 245.19 902 246.68 902.5 248.13 903 249.51 903.5 250.83 904 252.11 904.5 253.35 905 254.54 905.5 255.69 906 256.79 906.5 257.84 907 258.87 907.5 259.84 908 260.76 908.5 261.65 909 262.49 909.5 263.29 910 264.07 910.5 264.8 911 265.51 911.5 266.18 912 266.81 912.5 267.41 913 268 913.5 268.57 914 269.08 914.5 269.56 915 270.02 915.5 270.46 916 270.89 916.5 271.31 917 271.68 917.5 272.02 918 272.36 918.5 272.68 919 272.97 919.5 273.25 920 273.51 920.5 273.75 921 273.98 921.5 274.22 922 274.44 922.5 274.63 923 274.81 923.5 274.97 924 275.11 924.5 275.26 925 275.41 925.5 275.56 926 275.68 926.5 275.78 927 275.86 927.5 275.95 928 276.02 928.5 276.06 929 276.1 929.5 276.13 930 276.16 930.5 276.18 931 276.21 931.5 276.22 932 276.21 932.5 276.21 933 276.2 933.5 276.17 934 276.13 934.5 276.09 935 276.05 935.5 276.02 936 275.96 936.5 275.88 937 275.8 937.5 275.72 938 275.65 938.5 275.61 939 275.53 939.5 275.44 940 275.33 940.5 275.22 941 275.12 941.5 275.03 942 274.95 942.5 274.86 943 274.74 943.5 274.61 944 274.48 944.5 274.36 945 274.27 945.5 274.15 946 274.02 946.5 273.89 947 273.78 947.5 273.68 948 273.57 948.5 273.43 949 273.29 949.5 273.18 950 273.1 950.5 273 951 272.87 951.5 272.76 952 272.67 952.5 272.58 953 272.49 953.5 272.39 954 272.3 954.5 272.2 955 272.11 955.5 272.04 956 271.97 956.5 271.9 957 271.86 957.5 271.81 958 271.76 958.5 271.7 959 271.68 959.5 271.64 960 271.6 960.5 271.6 961 271.61 961.5 271.6 962 271.61" stroke="#ffff30" stroke-width="1.35" fill="none"/>
<path d="M636.6 36.6V283.8M636.6 283.8H962" stroke="#1e1e1e" stroke-width="1.3" fill="none"/>
<path d="M631.4 283.8H636.6M631.4 242.6H636.6M631.4 201.4H636.6M631.4 160.2H636.6M631.4 119H636.6M631.4 77.8H636.6M631.4 36.6H636.6M633.6 263.2H636.6M633.6 222H636.6M633.6 180.8H636.6M633.6 139.6H636.6M633.6 98.4H636.6M633.6 57.2H636.6M636.9 283.8V289M691.09 283.8V289M745.27 283.8V289M799.45 283.8V289M853.64 283.8V289M907.83 283.8V289M962.01 283.8V289M663.99 283.8V286.8M718.18 283.8V286.8M772.36 283.8V286.8M826.55 283.8V286.8M880.73 283.8V286.8M934.92 283.8V286.8" stroke="#1e1e1e" stroke-width="1.3" fill="none"/>
<text x="628.7" y="289.6" text-anchor="end">0.0</text>
<text x="628.7" y="248.4" text-anchor="end">0.<tspan class="h">1</tspan></text>
<text x="628.7" y="207.2" text-anchor="end">0.2</text>
<text x="628.7" y="166" text-anchor="end">0.3</text>
<text x="628.7" y="124.8" text-anchor="end">0.4</text>
<text x="628.7" y="83.6" text-anchor="end">0.5</text>
<text x="628.7" y="42.4" text-anchor="end">0.6</text>
<text x="636.9" y="306.8" text-anchor="middle">450</text>
<text x="691.09" y="306.8" text-anchor="middle">500</text>
<text x="745.27" y="306.8" text-anchor="middle">550</text>
<text x="799.45" y="306.8" text-anchor="middle">600</text>
<text x="853.64" y="306.8" text-anchor="middle">650</text>
<text x="907.83" y="306.8" text-anchor="middle">700</text>
<text x="962.01" y="306.8" text-anchor="middle">750</text>
<text x="799.05" y="329.6" text-anchor="middle" style="font-size:19.7px">Wavelength (nm)</text>
<text transform="translate(582.7 165.1) rotate(-90)" x="0" y="0" text-anchor="middle" style="font-size:19.5px">Absorbance (AU)</text>
<rect x="895.5" y="11.3" width="110.2" height="144" fill="none" stroke="#444" stroke-width="1.1"/>
<path d="M897 23.5H941.1" stroke="#3a3a3a" stroke-width="1.35"/>
<text x="946.3" y="30.1">00 min</text>
<path d="M897 47.7H941.1" stroke="#ff4040" stroke-width="1.35"/>
<text x="946.3" y="54.3">20 min</text>
<path d="M897 71.9H941.1" stroke="#3af03a" stroke-width="1.35"/>
<text x="946.3" y="78.5">30 min</text>
<path d="M897 96.1H941.1" stroke="#4040ff" stroke-width="1.35"/>
<text x="946.3" y="102.7">40 min</text>
<path d="M897 120.3H941.1" stroke="#ff40ff" stroke-width="1.35"/>
<text x="946.3" y="126.9">50 min</text>
<path d="M897 144.5H941.1" stroke="#ffff30" stroke-width="1.35"/>
<text x="946.3" y="151.1">60 min</text>
</g>
<g>
<path d="M80 614.06 80.5 614.2 81 614.24 81.5 614.33 82 614.39 82.5 614.14 83 613.81 83.5 613.56 84 613.57 84.5 613.78 85 613.95 85.5 613.91 86 613.55 86.5 613.26 87 613.45 87.5 613.64 88 613.44 88.5 613.48 89 613.53 89.5 613.26 90 613.4 90.5 613.53 91 613.26 91.5 613.31 92 613.35 92.5 613.07 93 613.11 93.5 613.3 94 613.22 94.5 612.96 95 612.79 95.5 612.81 96 612.81 96.5 612.77 97 612.83 97.5 613.02 98 612.94 98.5 612.68 99 612.57 99.5 612.48 100 612.42 100.5 612.46 101 612.48 101.5 612.37 102 612.37 102.5 612.41 103 612.4 103.5 612.33 104 612.16 104.5 612.13 105 612.05 105.5 611.97 106 612 106.5 611.91 107 611.63 107.5 611.32 108 611.38 108.5 611.67 109 611.74 109.5 611.81 110 611.88 110.5 611.55 111 611.11 111.5 611.1 112 611.19 112.5 611.23 113 611.5 113.5 611.63 114 611.4 114.5 611.2 115 611.05 115.5 610.53 116 610.48 116.5 611.12 117 611.82 117.5 611.65 118 610.96 118.5 610.24 119 609.64 119.5 609.31 120 609.54 120.5 610.26 121 611.11 121.5 611.68 122 611.58 122.5 610.84 123 610.09 123.5 609.75 124 609.76 124.5 610.09 125 610.82 125.5 611.29 126 611.29 126.5 611.09 127 610.41 127.5 609.76 128 609.59 128.5 609.55 129 609.88 129.5 610.48 130 610.57 130.5 610.52 131 610.54 131.5 610.52 132 610.57 132.5 610.75 133 610.86 133.5 610.66 134 610.37 134.5 610.44 135 610.5 135.5 610.46 136 610.68 136.5 610.95 137 611.17 137.5 611.11 138 610.76 138.5 610.75 139 610.92 139.5 610.81 140 610.86 140.5 611.01 141 611.1 141.5 611.38 142 611.41 142.5 611.16 143 611.32 143.5 611.69 144 611.71 144.5 611.39 145 611.38 145.5 611.77 146 611.82 146.5 611.56 147 611.6 147.5 611.88 148 611.87 148.5 611.71 149 611.85 149.5 612.01 150 611.84 150.5 611.56 151 611.48 151.5 611.72 152 611.86 152.5 611.61 153 611.5 153.5 611.6 154 611.56 154.5 611.49 155 611.57 155.5 611.81 156 611.93 156.5 611.75 157 611.57 157.5 611.63 158 611.85 158.5 612.05 159 611.94 159.5 611.5 160 611.36 160.5 611.65 161 611.72 161.5 611.53 162 611.51 162.5 611.49 163 611.37 163.5 611.15 164 610.79 164.5 610.62 165 610.54 165.5 610.53 166 610.54 166.5 610.34 167 610.17 167.5 609.98 168 609.85 168.5 609.74 169 609.58 169.5 609.53 170 609.41 170.5 609.25 171 609.11 171.5 608.8 172 608.57 172.5 608.48 173 608.33 173.5 608.25 174 608.33 174.5 608.12 175 607.7 175.5 607.48 176 607.36 176.5 607.23 177 607.09 177.5 607.07 178 607.02 178.5 606.78 179 606.61 179.5 606.52 180 606.27 180.5 606.01 181 606.02 181.5 606 182 605.68 182.5 605.41 183 605.33 183.5 605.24 184 604.96 184.5 604.75 185 604.78 185.5 604.65 186 604.3 186.5 603.98 187 603.8 187.5 603.82 188 603.7 188.5 603.43 189 603.14 189.5 602.77 190 602.49 190.5 602.34 191 602.14 191.5 601.94 192 601.83 192.5 601.58 193 601.2 193.5 600.93 194 600.84 194.5 600.69 195 600.32 195.5 599.98 196 599.71 196.5 599.42 197 599.21 197.5 598.9 198 598.5 198.5 598.24 199 597.94 199.5 597.62 200 597.36 200.5 597.06 201 596.8 201.5 596.4 202 595.9 202.5 595.56 203 595.25 203.5 594.93 204 594.55 204.5 594.19 205 593.8 205.5 593.31 206 592.9 206.5 592.47 207 592.05 207.5 591.78 208 591.46 208.5 591.06 209 590.56 209.5 590.1 210 589.69 210.5 589.09 211 588.6 211.5 588.27 212 587.8 212.5 587.35 213 586.94 213.5 586.45 214 586.01 214.5 585.49 215 584.85 215.5 584.26 216 583.86 216.5 583.48 217 582.88 217.5 582.25 218 581.79 218.5 581.33 219 580.76 219.5 580.19 220 579.66 220.5 579.16 221 578.54 221.5 577.91 222 577.41 222.5 576.84 223 576.25 223.5 575.61 224 574.89 224.5 574.25 225 573.66 225.5 573.04 226 572.39 226.5 571.85 227 571.31 227.5 570.63 228 569.95 228.5 569.27 229 568.65 229.5 568.12 230 567.5 230.5 566.7 231 565.99 231.5 565.35 232 564.6 232.5 563.89 233 563.27 233.5 562.61 234 561.88 234.5 561.08 235 560.31 235.5 559.61 236 558.88 236.5 558.08 237 557.21 237.5 556.31 238 555.49 238.5 554.7 239 553.9 239.5 553.04 240 552.14 240.5 551.25 241 550.36 241.5 549.44 242 548.47 242.5 547.49 243 546.5 243.5 545.56 244 544.62 244.5 543.61 245 542.58 245.5 541.48 246 540.37 246.5 539.3 247 538.19 247.5 537.05 248 535.89 248.5 534.74 249 533.56 249.5 532.42 250 531.31 250.5 530.14 251 528.99 251.5 527.84 252 526.7 252.5 525.66 253 524.61 253.5 523.53 254 522.53 254.5 521.6 255 520.7 255.5 519.83 256 519.06 256.5 518.37 257 517.66 257.5 516.99 258 516.41 258.5 515.87 259 515.37 259.5 514.89 260 514.45 260.5 514.1 261 513.77 261.5 513.45 262 513.14 262.5 512.82 263 512.54 263.5 512.33 264 512.16 264.5 511.98 265 511.81 265.5 511.66 266 511.5 266.5 511.36 267 511.26 267.5 511.15 268 511.07 268.5 510.97 269 510.84 269.5 510.73 270 510.61 270.5 510.46 271 510.34 271.5 510.21 272 510.03 272.5 509.86 273 509.66 273.5 509.43 274 509.21 274.5 508.93 275 508.61 275.5 508.28 276 507.92 276.5 507.52 277 507.09 277.5 506.65 278 506.13 278.5 505.56 279 505.03 279.5 504.49 280 503.88 280.5 503.2 281 502.52 281.5 501.87 282 501.19 282.5 500.46 283 499.77 283.5 499.04 284 498.24 284.5 497.48 285 496.76 285.5 496.04 286 495.29 286.5 494.49 287 493.64 287.5 492.8 288 491.99 288.5 491.16 289 490.26 289.5 489.32 290 488.4 290.5 487.45 291 486.42 291.5 485.32 292 484.18 292.5 482.93 293 481.62 293.5 480.29 294 478.87 294.5 477.37 295 475.85 295.5 474.25 296 472.52 296.5 470.7 297 468.86 297.5 466.98 298 464.99 298.5 462.9 299 460.8 299.5 458.67 300 456.5 300.5 454.29 301 452.07 301.5 449.89 302 447.76 302.5 445.63 303 443.57 303.5 441.66 304 439.92 304.5 438.27 305 436.68 305.5 435.17 306 433.77 306.5 432.46 307 431.25 307.5 430.06 308 428.9 308.5 427.81 309 426.75 309.5 425.71 310 424.71 310.5 423.76 311 422.83 311.5 421.88 312 420.87 312.5 419.86 313 418.86 313.5 417.86 314 416.85 314.5 415.87 315 414.89 315.5 413.99 316 413.14 316.5 412.31 317 411.49 317.5 410.72 318 410.05 318.5 409.48 319 409.02 319.5 408.7 320 408.55 320.5 408.5 321 408.6 321.5 409.02 322 409.78 322.5 410.8 323 412.11 323.5 413.72 324 415.59 324.5 417.71 325 420.01 325.5 422.46 326 425.03 326.5 427.69 327 430.48 327.5 433.31 328 436.12 328.5 438.98 329 441.87 329.5 444.75 330 447.64 330.5 450.48 331 453.33 331.5 456.2 332 459.05 332.5 461.96 333 464.87 333.5 467.82 334 470.84 334.5 473.87 335 476.94 335.5 480.1 336 483.37 336.5 486.72 337 490.1 337.5 493.55 338 497.21 338.5 501.08 339 505.25 339.5 509.87 340 515.03 340.5 520.66 341 526.59 341.5 532.52 342 538.03 342.5 542.81 343 546.86 343.5 550.32 344 553.26 344.5 555.78 345 558.04 345.5 560.16 346 562.28 346.5 564.46 347 566.64 347.5 568.85 348 571.14 348.5 573.43 349 575.69 349.5 577.96 350 580.2 350.5 582.4 351 584.54 351.5 586.6 352 588.68 352.5 590.77 353 592.74 353.5 594.61 354 596.48 354.5 598.26 355 600.01 355.5 601.73 356 603.4 356.5 605.04 357 606.61 357.5 608.06 358 609.44 358.5 610.78 359 612.06 359.5 613.3 360 614.51 360.5 615.62 361 616.65 361.5 617.6 362 618.52 362.5 619.39 363 620.17 363.5 620.89 364 621.58 364.5 622.21 365 622.78 365.5 623.35 366 623.88 366.5 624.36 367 624.8 367.5 625.16 368 625.5 368.5 625.87 369 626.21 369.5 626.47 370 626.7 370.5 626.97 371 627.21 371.5 627.38 372 627.58 372.5 627.78 373 627.96 373.5 628.17 374 628.36 374.5 628.51 375 628.64 375.5 628.76 376 628.89 376.5 629.04 377 629.23 377.5 629.36 378 629.42 378.5 629.5 379 629.63 379.5 629.8 380 629.93 380.5 630.02 381 630.13 381.5 630.27 382 630.37 382.5 630.43 383 630.51 383.5 630.64 384 630.75 384.5 630.85 385 630.99 385.5 631.07 386 631.13 386.5 631.25 387 631.39 387.5 631.46 388 631.51 388.5 631.6 389 631.68 389.5 631.79 390 631.91 390.5 632.01 391 632.06 391.5 632.1 392 632.2 392.5 632.29 393 632.37 393.5 632.42 394 632.51 394.5 632.61 395 632.68 395.5 632.79 396 632.9 396.5 632.99 397 633.06 397.5 633.09 398 633.13 398.5 633.22 399 633.3 399.5 633.38 400 633.48 400.5 633.53 401 633.62 401.5 633.77 402 633.85 402.5 633.88 403 633.97 403.5 634.09 404 634.16 404.5 634.21 405 634.31 405.5 634.4 406 634.48 406.5 634.59 407 634.67 407.5 634.73 408 634.83 408.5 634.89 409 634.99 409.5 635.1 410 635.2 410.5 635.32 411 635.41 411.5 635.45 412 635.52 412.5 635.63 413 635.76 413.5 635.86 414 635.99 414.5 636.14 415 636.24 415.5 636.29 416 636.39 416.5 636.52" stroke="#3a3a3a" stroke-width="1.35" fill="none"/>
<path d="M80 596.83 80.5 596.89 81 596.65 81.5 596.2 82 595.74 82.5 595.57 83 595.73 83.5 595.87 84 595.9 84.5 595.92 85 595.95 85.5 596.04 86 596.18 86.5 596.2 87 596.07 87.5 595.88 88 595.99 88.5 596.23 89 596.03 89.5 595.72 90 595.94 90.5 596.29 91 596.14 91.5 595.95 92 595.97 92.5 596.11 93 596.53 93.5 596.82 94 596.91 94.5 596.91 95 596.65 95.5 596.63 96 596.98 96.5 597.4 97 597.51 97.5 597.26 98 597.14 98.5 597.32 99 597.65 99.5 597.59 100 597.39 100.5 597.69 101 597.8 101.5 597.54 102 597.74 102.5 598.24 103 598.39 103.5 598.02 104 597.67 104.5 597.7 105 597.83 105.5 597.92 106 597.76 106.5 597.7 107 597.79 107.5 597.82 108 598.15 108.5 598.48 109 598.31 109.5 597.93 110 597.85 110.5 597.84 111 597.65 111.5 597.31 112 596.89 112.5 596.77 113 596.92 113.5 596.83 114 596.64 114.5 596.69 115 596.76 115.5 596.27 116 596.02 116.5 596.65 117 597.68 117.5 597.68 118 596.87 118.5 595.77 119 594.91 119.5 594.61 120 594.82 120.5 595.39 121 596.32 121.5 597.1 122 597.11 122.5 596.52 123 595.62 123.5 594.94 124 595.04 124.5 595.56 125 596.4 125.5 597.55 126 598.23 126.5 598.11 127 597.22 127.5 595.92 128 595.31 128.5 595.61 129 596.51 129.5 597.78 130 598.4 130.5 598.44 131 598.08 131.5 597.87 132 598.11 132.5 598.19 133 598.02 133.5 598.3 134 598.65 134.5 598.46 135 598.17 135.5 598.29 136 598.31 136.5 598.39 137 598.91 137.5 599.01 138 598.73 138.5 598.78 139 598.84 139.5 598.83 140 598.96 140.5 599.17 141 599.15 141.5 598.97 142 599.08 142.5 599.11 143 598.9 143.5 598.97 144 599.38 144.5 599.45 145 599.16 145.5 599.3 146 599.6 146.5 599.48 147 599.28 147.5 599.13 148 599.04 148.5 599.19 149 599.46 149.5 599.57 150 599.51 150.5 599.55 151 599.81 151.5 599.86 152 599.72 152.5 599.79 153 599.77 153.5 599.49 154 599.28 154.5 599.27 155 599.32 155.5 599.3 156 599.2 156.5 599.31 157 599.49 157.5 599.53 158 599.6 158.5 599.79 159 599.78 159.5 599.47 160 599.32 160.5 599.45 161 599.45 161.5 599.2 162 599.04 162.5 599.09 163 599.19 163.5 599.34 164 599.39 164.5 599.43 165 599.66 165.5 599.69 166 599.24 166.5 598.68 167 598.66 167.5 599.41 168 600.03 168.5 600.15 169 600.08 169.5 599.57 170 598.77 170.5 598.39 171 598.65 171.5 599.16 172 599.52 172.5 599.72 173 599.66 173.5 599.05 174 598.66 174.5 598.76 175 599.16 175.5 599.12 176 598.96 176.5 598.9 177 598.72 177.5 598.56 178 598.48 178.5 598.35 179 598.27 179.5 598.3 180 598.4 180.5 598.38 181 598.2 181.5 598.17 182 598.29 182.5 598.13 183 597.87 183.5 597.77 184 597.77 184.5 597.83 185 597.87 185.5 597.9 186 597.92 186.5 597.92 187 597.81 187.5 597.67 188 597.64 188.5 597.45 189 597.17 189.5 597.2 190 597.28 190.5 597.2 191 597.03 191.5 596.88 192 596.7 192.5 596.45 193 596.25 193.5 596.09 194 596.06 194.5 596.04 195 595.86 195.5 595.62 196 595.49 196.5 595.42 197 595.17 197.5 594.83 198 594.64 198.5 594.67 199 594.59 199.5 594.38 200 594.21 200.5 594 201 593.69 201.5 593.38 202 593.25 202.5 593.2 203 592.93 203.5 592.54 204 592.36 204.5 592.27 205 592.05 205.5 591.74 206 591.46 206.5 591.17 207 590.87 207.5 590.67 208 590.44 208.5 590 209 589.69 209.5 589.55 210 589.35 210.5 589.05 211 588.63 211.5 588.28 212 588.01 212.5 587.66 213 587.36 213.5 587.16 214 586.88 214.5 586.52 215 586.12 215.5 585.7 216 585.27 216.5 584.79 217 584.34 217.5 584 218 583.75 218.5 583.37 219 582.78 219.5 582.27 220 581.99 220.5 581.64 221 581.1 221.5 580.68 222 580.25 222.5 579.68 223 579.15 223.5 578.69 224 578.3 224.5 577.9 225 577.31 225.5 576.65 226 576.16 226.5 575.77 227 575.25 227.5 574.6 228 573.96 228.5 573.35 229 572.73 229.5 572.1 230 571.5 230.5 570.88 231 570.24 231.5 569.6 232 568.93 232.5 568.34 233 567.79 233.5 567.11 234 566.39 234.5 565.65 235 564.96 235.5 564.32 236 563.59 236.5 562.76 237 561.94 237.5 561.19 238 560.43 238.5 559.56 239 558.7 239.5 557.89 240 557.15 240.5 556.37 241 555.45 241.5 554.5 242 553.61 242.5 552.72 243 551.79 243.5 550.85 244 549.87 244.5 548.94 245 548.03 245.5 547.04 246 546.07 246.5 545.04 247 543.88 247.5 542.78 248 541.78 248.5 540.8 249 539.74 249.5 538.6 250 537.48 250.5 536.43 251 535.42 251.5 534.39 252 533.33 252.5 532.29 253 531.32 253.5 530.43 254 529.55 254.5 528.66 255 527.8 255.5 527.05 256 526.31 256.5 525.56 257 524.9 257.5 524.33 258 523.79 258.5 523.23 259 522.69 259.5 522.26 260 521.91 260.5 521.56 261 521.2 261.5 520.85 262 520.54 262.5 520.32 263 520.07 263.5 519.85 264 519.7 264.5 519.54 265 519.44 265.5 519.36 266 519.23 266.5 519.15 267 519.08 267.5 519.06 268 519.05 268.5 518.97 269 518.91 269.5 518.88 270 518.85 270.5 518.77 271 518.66 271.5 518.54 272 518.39 272.5 518.21 273 518.07 273.5 517.9 274 517.64 274.5 517.31 275 516.99 275.5 516.68 276 516.31 276.5 515.85 277 515.32 277.5 514.77 278 514.19 278.5 513.54 279 512.85 279.5 512.13 280 511.4 280.5 510.63 281 509.79 281.5 508.93 282 508.08 282.5 507.2 283 506.29 283.5 505.31 284 504.27 284.5 503.27 285 502.33 285.5 501.36 286 500.31 286.5 499.25 287 498.19 287.5 497.09 288 495.98 288.5 494.92 289 493.88 289.5 492.83 290 491.82 290.5 490.82 291 489.75 291.5 488.7 292 487.76 292.5 486.8 293 485.76 293.5 484.72 294 483.63 294.5 482.44 295 481.17 295.5 479.8 296 478.37 296.5 476.82 297 475.12 297.5 473.25 298 471.26 298.5 469.2 299 467.07 299.5 464.89 300 462.7 300.5 460.47 301 458.18 301.5 455.92 302 453.76 302.5 451.63 303 449.51 303.5 447.48 304 445.61 304.5 443.88 305 442.23 305.5 440.67 306 439.19 306.5 437.76 307 436.34 307.5 435.02 308 433.77 308.5 432.49 309 431.18 309.5 429.94 310 428.63 310.5 427.29 311 425.97 311.5 424.64 312 423.32 312.5 422.07 313 420.82 313.5 419.58 314 418.45 314.5 417.43 315 416.44 315.5 415.44 316 414.52 316.5 413.7 317 412.99 317.5 412.39 318 411.87 318.5 411.46 319 411.19 319.5 411.05 320 411.05 320.5 411.22 321 411.53 321.5 411.96 322 412.57 322.5 413.39 323 414.38 323.5 415.51 324 416.85 324.5 418.46 325 420.25 325.5 422.24 326 424.41 326.5 426.78 327 429.36 327.5 432.07 328 434.88 328.5 437.78 329 440.76 329.5 443.8 330 446.9 330.5 450.06 331 453.25 331.5 456.42 332 459.48 332.5 462.5 333 465.53 333.5 468.49 334 471.34 334.5 474.22 335 477.21 335.5 480.19 336 483.2 336.5 486.32 337 489.67 337.5 493.25 338 497.04 338.5 501.16 339 505.61 339.5 510.34 340 515.46 340.5 520.97 341 526.63 341.5 532.26 342 537.59 342.5 542.34 343 546.42 343.5 549.93 344 553.02 344.5 555.79 345 558.29 345.5 560.57 346 562.7 346.5 564.78 347 566.87 347.5 568.93 348 570.93 348.5 572.96 349 575.05 349.5 577.16 350 579.26 350.5 581.44 351 583.75 351.5 586.09 352 588.44 352.5 590.84 353 593.2 353.5 595.42 354 597.54 354.5 599.59 355 601.53 355.5 603.35 356 605.05 356.5 606.63 357 608.1 357.5 609.53 358 610.86 358.5 612.09 359 613.21 359.5 614.21 360 615.16 360.5 616.06 361 616.9 361.5 617.72 362 618.45 362.5 619.08 363 619.72 363.5 620.38 364 620.96 364.5 621.49 365 622.02 365.5 622.55 366 623.02 366.5 623.43 367 623.85 367.5 624.25 368 624.61 368.5 625.02 369 625.41 369.5 625.7 370 625.98 370.5 626.33 371 626.63 371.5 626.85 372 627.08 372.5 627.37 373 627.65 373.5 627.85 374 628.02 374.5 628.24 375 628.41 375.5 628.55 376 628.72 376.5 628.84 377 628.94 377.5 629.09 378 629.26 378.5 629.39 379 629.48 379.5 629.58 380 629.64 380.5 629.68 381 629.79 381.5 629.94 382 630.03 382.5 630.08 383 630.17 383.5 630.26 384 630.31 384.5 630.36 385 630.42 385.5 630.49 386 630.6 386.5 630.66 387 630.7 387.5 630.82 388 630.99 388.5 631.1 389 631.15 389.5 631.21 390 631.31 390.5 631.45 391 631.59 391.5 631.75 392 631.89 392.5 631.98 393 632.05 393.5 632.15 394 632.3 394.5 632.45 395 632.59 395.5 632.72 396 632.82 396.5 632.94 397 633.1 397.5 633.2 398 633.28 398.5 633.42 399 633.54 399.5 633.65 400 633.78 400.5 633.94 401 634.06 401.5 634.18 402 634.32 402.5 634.49 403 634.64 403.5 634.72 404 634.8 404.5 634.92 405 635 405.5 635.12 406 635.28 406.5 635.42 407 635.5 407.5 635.57 408 635.67 408.5 635.8 409 635.87 409.5 635.93 410 636.03 410.5 636.12 411 636.19 411.5 636.26 412 636.32 412.5 636.35 413 636.39 413.5 636.45 414 636.47 414.5 636.45 415 636.46 415.5 636.5 416 636.54 416.5 636.54" stroke="#ff4040" stroke-width="1.35" fill="none"/>
<path d="M80 570.05 80.5 570.34 81 570.52 81.5 570.46 82 570.51 82.5 570.73 83 570.93 83.5 570.95 84 570.99 84.5 571.13 85 571.38 85.5 571.82 86 571.88 86.5 571.64 87 571.78 87.5 572.03 88 572.16 88.5 572.13 89 572.08 89.5 572.07 90 572.04 90.5 572.18 91 572.25 91.5 572.22 92 572.35 92.5 572.45 93 572.28 93.5 571.96 94 572.03 94.5 572.26 95 572.24 95.5 572.27 96 572.14 96.5 571.72 97 571.66 97.5 571.99 98 572.09 98.5 571.85 99 571.56 99.5 571.49 100 571.51 100.5 571.42 101 571.3 101.5 571.32 102 571.29 102.5 571.1 103 571.12 103.5 571.25 104 571.05 104.5 570.71 105 570.72 105.5 570.75 106 570.45 106.5 570.09 107 569.92 107.5 570.07 108 570.19 108.5 569.92 109 569.7 109.5 569.76 110 569.86 110.5 569.95 111 569.83 111.5 569.66 112 569.53 112.5 569.23 113 569.05 113.5 569 114 568.98 114.5 569 115 568.96 115.5 568.6 116 568.44 116.5 568.73 117 569.34 117.5 569.51 118 569.06 118.5 568.36 119 567.72 119.5 567.48 120 567.76 120.5 568.2 121 568.75 121.5 569.14 122 568.75 122.5 568.1 123 567.63 123.5 567.1 124 566.78 124.5 567.11 125 567.85 125.5 568.33 126 568.47 126.5 568.44 127 567.89 127.5 567.11 128 566.73 128.5 566.9 129 567.64 129.5 568.26 130 568.13 130.5 567.99 131 568.08 131.5 568.02 132 567.75 132.5 567.87 133 568.22 133.5 568.23 134 568.14 134.5 568.22 135 568.36 135.5 568.52 136 568.68 136.5 568.8 137 568.86 137.5 568.85 138 568.76 138.5 568.81 139 569.03 139.5 569.07 140 569.06 140.5 569.33 141 569.49 141.5 569.28 142 569.27 142.5 569.61 143 569.9 143.5 570 144 570.07 144.5 570.12 145 570 145.5 570.04 146 570.33 146.5 570.51 147 570.64 147.5 570.78 148 570.82 148.5 570.89 149 571 149.5 570.96 150 570.97 150.5 571.09 151 571.13 151.5 571.26 152 571.33 152.5 571.26 153 571.38 153.5 571.55 154 571.58 154.5 571.77 155 571.9 155.5 571.89 156 571.92 156.5 571.98 157 572.07 157.5 572.04 158 572.1 158.5 572.23 159 572.3 159.5 572.41 160 572.59 160.5 572.69 161 572.53 161.5 572.23 162 572.19 162.5 572.43 163 572.54 163.5 572.49 164 572.39 164.5 572.35 165 572.49 165.5 572.56 166 572.38 166.5 572.25 167 572.35 167.5 572.47 168 572.5 168.5 572.48 169 572.28 169.5 572.09 170 572.01 170.5 571.95 171 571.93 171.5 571.91 172 571.91 172.5 571.79 173 571.54 173.5 571.45 174 571.57 174.5 571.59 175 571.41 175.5 571.25 176 571.15 176.5 571.04 177 570.8 177.5 570.56 178 570.55 178.5 570.44 179 570.06 179.5 569.92 180 569.88 180.5 569.62 181 569.52 181.5 569.53 182 569.4 182.5 569.23 183 568.97 183.5 568.69 184 568.57 184.5 568.61 185 568.48 185.5 568.1 186 567.9 186.5 567.78 187 567.46 187.5 567.22 188 567.15 188.5 567.06 189 566.95 189.5 566.77 190 566.53 190.5 566.32 191 566.1 191.5 565.97 192 565.86 192.5 565.63 193 565.4 193.5 565.28 194 565.27 194.5 565.09 195 564.79 195.5 564.71 196 564.61 196.5 564.35 197 564.23 197.5 564.01 198 563.61 198.5 563.34 199 563.14 199.5 562.93 200 562.7 200.5 562.57 201 562.48 201.5 562.33 202 562.14 202.5 561.93 203 561.68 203.5 561.37 204 561.1 204.5 560.9 205 560.68 205.5 560.33 206 559.98 206.5 559.73 207 559.49 207.5 559.29 208 558.95 208.5 558.44 209 558.14 209.5 557.95 210 557.56 210.5 557.12 211 556.73 211.5 556.4 212 556.07 212.5 555.65 213 555.27 213.5 554.87 214 554.41 214.5 553.91 215 553.38 215.5 552.92 216 552.42 216.5 551.85 217 551.42 217.5 551.05 218 550.58 218.5 550.02 219 549.43 219.5 548.88 220 548.32 220.5 547.69 221 547.02 221.5 546.39 222 545.83 222.5 545.28 223 544.67 223.5 544.03 224 543.44 224.5 542.88 225 542.28 225.5 541.64 226 540.98 226.5 540.3 227 539.58 227.5 538.91 228 538.29 228.5 537.68 229 537.03 229.5 536.31 230 535.58 230.5 534.83 231 534.08 231.5 533.38 232 532.67 232.5 531.99 233 531.29 233.5 530.49 234 529.78 234.5 529.09 235 528.32 235.5 527.57 236 526.8 236.5 526.05 237 525.33 237.5 524.58 238 523.8 238.5 523.02 239 522.28 239.5 521.51 240 520.69 240.5 519.91 241 519.11 241.5 518.22 242 517.32 242.5 516.46 243 515.59 243.5 514.66 244 513.69 244.5 512.68 245 511.66 245.5 510.66 246 509.67 246.5 508.65 247 507.58 247.5 506.45 248 505.32 248.5 504.25 249 503.18 249.5 502.09 250 501.04 250.5 500.06 251 499.03 251.5 497.95 252 496.95 252.5 496.05 253 495.2 253.5 494.37 254 493.54 254.5 492.77 255 492.08 255.5 491.45 256 490.83 256.5 490.24 257 489.72 257.5 489.25 258 488.82 258.5 488.39 259 488 259.5 487.64 260 487.29 260.5 487 261 486.7 261.5 486.34 262 485.99 262.5 485.7 263 485.42 263.5 485.11 264 484.77 264.5 484.45 265 484.14 265.5 483.8 266 483.48 266.5 483.19 267 482.87 267.5 482.55 268 482.26 268.5 481.95 269 481.63 269.5 481.3 270 480.96 270.5 480.61 271 480.26 271.5 479.96 272 479.67 272.5 479.33 273 478.98 273.5 478.66 274 478.35 274.5 477.99 275 477.61 275.5 477.23 276 476.85 276.5 476.47 277 476.01 277.5 475.5 278 475.01 278.5 474.53 279 473.99 279.5 473.38 280 472.78 280.5 472.15 281 471.43 281.5 470.71 282 469.93 282.5 469.07 283 468.19 283.5 467.27 284 466.32 284.5 465.34 285 464.28 285.5 463.15 286 462.04 286.5 460.86 287 459.66 287.5 458.46 288 457.21 288.5 455.96 289 454.68 289.5 453.35 290 452 290.5 450.62 291 449.25 291.5 447.89 292 446.51 292.5 445.12 293 443.7 293.5 442.29 294 440.88 294.5 439.43 295 437.95 295.5 436.49 296 435.02 296.5 433.56 297 432.07 297.5 430.59 298 429.09 298.5 427.58 299 426.13 299.5 424.67 300 423.21 300.5 421.74 301 420.26 301.5 418.81 302 417.36 302.5 415.89 303 414.45 303.5 413.01 304 411.6 304.5 410.2 305 408.84 305.5 407.49 306 406.09 306.5 404.71 307 403.4 307.5 402.14 308 400.89 308.5 399.65 309 398.39 309.5 397.12 310 395.91 310.5 394.78 311 393.67 311.5 392.54 312 391.41 312.5 390.36 313 389.37 313.5 388.4 314 387.47 314.5 386.58 315 385.72 315.5 384.94 316 384.26 316.5 383.67 317 383.16 317.5 382.74 318 382.4 318.5 382.12 319 381.98 319.5 381.99 320 382.1 320.5 382.32 321 382.72 321.5 383.26 322 383.92 322.5 384.75 323 385.72 323.5 386.87 324 388.26 324.5 389.83 325 391.53 325.5 393.4 326 395.52 326.5 397.88 327 400.46 327.5 403.22 328 406.23 328.5 409.53 329 413.1 329.5 416.9 330 420.82 330.5 424.87 331 429.04 331.5 433.25 332 437.44 332.5 441.54 333 445.58 333.5 449.54 334 453.38 334.5 457.07 335 460.63 335.5 464 336 467.2 336.5 470.31 337 473.31 337.5 476.17 338 479.02 338.5 481.85 339 484.65 339.5 487.54 340 490.48 340.5 493.43 341 496.4 341.5 499.38 342 502.42 342.5 505.5 343 508.59 343.5 511.68 344 514.8 344.5 517.96 345 521.17 345.5 524.43 346 527.73 346.5 531.04 347 534.37 347.5 537.77 348 541.2 348.5 544.58 349 547.93 349.5 551.23 350 554.39 350.5 557.41 351 560.25 351.5 562.89 352 565.35 352.5 567.63 353 569.73 353.5 571.7 354 573.59 354.5 575.38 355 577.09 355.5 578.71 356 580.3 356.5 581.86 357 583.43 357.5 585.01 358 586.55 358.5 588.12 359 589.69 359.5 591.21 360 592.66 360.5 594.03 361 595.31 361.5 596.56 362 597.7 362.5 598.74 363 599.77 363.5 600.73 364 601.59 364.5 602.45 365 603.29 365.5 604.05 366 604.78 366.5 605.46 367 606.03 367.5 606.56 368 607.12 368.5 607.69 369 608.19 369.5 608.63 370 609.1 370.5 609.54 371 609.93 371.5 610.35 372 610.83 372.5 611.25 373 611.6 373.5 611.97 374 612.37 374.5 612.78 375 613.22 375.5 613.65 376 614.07 376.5 614.48 377 614.9 377.5 615.3 378 615.67 378.5 616.05 379 616.48 379.5 616.91 380 617.3 380.5 617.66 381 618.01 381.5 618.35 382 618.68 382.5 619.01 383 619.35 383.5 619.71 384 620.04 384.5 620.35 385 620.68 385.5 621.06 386 621.38 386.5 621.65 387 621.95 387.5 622.27 388 622.55 388.5 622.8 389 623.07 389.5 623.37 390 623.66 390.5 623.91 391 624.16 391.5 624.42 392 624.71 392.5 624.96 393 625.18 393.5 625.42 394 625.69 394.5 625.97 395 626.21 395.5 626.43 396 626.69 396.5 626.95 397 627.18 397.5 627.4 398 627.62 398.5 627.85 399 628.1 399.5 628.33 400 628.53 400.5 628.73 401 628.95 401.5 629.16 402 629.36 402.5 629.6 403 629.88 403.5 630.1 404 630.26 404.5 630.48 405 630.78 405.5 631.02 406 631.23 406.5 631.46 407 631.65 407.5 631.88 408 632.15 408.5 632.38 409 632.61 409.5 632.83 410 633.07 410.5 633.32 411 633.53 411.5 633.77 412 634.05 412.5 634.31 413 634.57 413.5 634.86 414 635.16 414.5 635.41 415 635.63 415.5 635.93 416 636.24 416.5 636.5" stroke="#3af03a" stroke-width="1.35" fill="none"/>
<path d="M80 566.01 80.5 565.73 81 565.78 81.5 565.85 82 565.57 82.5 565.26 83 565.24 83.5 565.3 84 565.04 84.5 564.93 85 565.24 85.5 565.24 86 564.87 86.5 564.93 87 565.13 87.5 565.09 88 564.94 88.5 564.88 89 565.02 89.5 565 90 564.72 90.5 564.5 91 564.58 91.5 564.74 92 564.68 92.5 564.65 93 564.72 93.5 564.75 94 564.78 94.5 564.85 95 564.88 95.5 564.9 96 564.88 96.5 564.61 97 564.39 97.5 564.41 98 564.57 98.5 564.72 99 564.66 99.5 564.76 100 564.97 100.5 564.95 101 564.89 101.5 564.96 102 565 102.5 564.98 103 565.02 103.5 565.09 104 564.92 104.5 564.76 105 564.78 105.5 564.9 106 565.06 106.5 564.97 107 565.09 107.5 565.49 108 565.54 108.5 565.37 109 565.29 109.5 565.18 110 565.3 110.5 565.47 111 565.38 111.5 565.16 112 564.96 112.5 564.91 113 564.9 113.5 564.95 114 565.15 114.5 565.19 115 565 115.5 564.78 116 564.96 116.5 565.42 117 565.8 117.5 565.82 118 565.76 118.5 565.32 119 564.66 119.5 564.27 120 564.46 120.5 565.04 121 565.56 121.5 565.75 122 565.49 122.5 564.93 123 564.34 123.5 563.99 124 564.07 124.5 564.49 125 565.01 125.5 565.37 126 565.67 126.5 565.7 127 565.08 127.5 564.51 128 564.3 128.5 564.18 129 564.5 129.5 565.16 130 565.5 130.5 565.29 131 564.84 131.5 564.94 132 565.22 132.5 565.25 133 565.04 133.5 564.82 134 564.92 134.5 565.07 135 565.07 135.5 565.18 136 565.21 136.5 564.99 137 564.91 137.5 565 138 565.01 138.5 565.2 139 565.48 139.5 565.39 140 565.36 140.5 565.46 141 565.47 141.5 565.59 142 565.68 142.5 565.61 143 565.47 143.5 565.53 144 565.65 144.5 565.56 145 565.63 145.5 565.78 146 565.78 146.5 565.95 147 566.28 147.5 566.36 148 566.22 148.5 566.04 149 566.05 149.5 566.33 150 566.45 150.5 566.44 151 566.49 151.5 566.55 152 566.55 152.5 566.45 153 566.32 153.5 566.42 154 566.5 154.5 566.4 155 566.39 155.5 566.45 156 566.63 156.5 566.71 157 566.64 157.5 566.77 158 566.85 158.5 566.74 159 566.65 159.5 566.66 160 566.61 160.5 566.49 161 566.53 161.5 566.78 162 566.97 162.5 566.92 163 566.77 163.5 566.79 164 566.97 164.5 567.05 165 567.09 165.5 567.1 166 567.04 166.5 567.02 167 566.85 167.5 566.72 168 566.76 168.5 566.71 169 566.7 169.5 566.75 170 566.79 170.5 566.77 171 566.51 171.5 566.45 172 566.68 172.5 566.7 173 566.52 173.5 566.35 174 566.23 174.5 566.16 175 566.17 175.5 566.18 176 566.02 176.5 565.96 177 566 177.5 565.96 178 565.99 178.5 565.96 179 565.69 179.5 565.57 180 565.69 180.5 565.65 181 565.5 181.5 565.41 182 565.21 182.5 565.08 183 565.13 183.5 565.05 184 564.87 184.5 564.68 185 564.56 185.5 564.6 186 564.51 186.5 564.26 187 564.11 187.5 563.84 188 563.52 188.5 563.36 189 563.24 189.5 563.1 190 563.1 190.5 563.1 191 562.85 191.5 562.61 192 562.54 192.5 562.28 193 562.05 193.5 561.98 194 561.81 194.5 561.61 195 561.44 195.5 561.32 196 561.15 196.5 560.87 197 560.55 197.5 560.25 198 560.05 198.5 559.89 199 559.74 199.5 559.55 200 559.21 200.5 558.96 201 558.79 201.5 558.46 202 558.18 202.5 558.03 203 557.71 203.5 557.39 204 557.2 204.5 556.89 205 556.58 205.5 556.33 206 556.1 206.5 555.84 207 555.49 207.5 555.07 208 554.73 208.5 554.54 209 554.31 209.5 553.91 210 553.43 210.5 553.04 211 552.83 211.5 552.61 212 552.19 212.5 551.67 213 551.32 213.5 551.14 214 550.84 214.5 550.46 215 550.05 215.5 549.63 216 549.17 216.5 548.62 217 548.14 217.5 547.81 218 547.45 218.5 546.99 219 546.49 219.5 545.99 220 545.55 220.5 545.15 221 544.76 221.5 544.28 222 543.67 222.5 543.15 223 542.65 223.5 542.03 224 541.45 224.5 540.87 225 540.34 225.5 539.85 226 539.26 226.5 538.7 227 538.17 227.5 537.55 228 536.86 228.5 536.15 229 535.41 229.5 534.76 230 534.12 230.5 533.42 231 532.75 231.5 532.05 232 531.27 232.5 530.43 233 529.64 233.5 528.91 234 528.17 234.5 527.35 235 526.49 235.5 525.69 236 524.83 236.5 523.92 237 523.11 237.5 522.24 238 521.22 238.5 520.2 239 519.22 239.5 518.28 240 517.33 240.5 516.29 241 515.25 241.5 514.23 242 513.13 242.5 512.05 243 511.02 243.5 509.93 244 508.73 244.5 507.57 245 506.41 245.5 505.2 246 504.04 246.5 502.9 247 501.74 247.5 500.57 248 499.37 248.5 498.17 249 497.07 249.5 495.97 250 494.84 250.5 493.74 251 492.69 251.5 491.67 252 490.65 252.5 489.66 253 488.72 253.5 487.83 254 487.05 254.5 486.3 255 485.56 255.5 484.86 256 484.22 256.5 483.64 257 483.08 257.5 482.57 258 482.17 258.5 481.83 259 481.48 259.5 481.1 260 480.74 260.5 480.47 261 480.27 261.5 480.02 262 479.75 262.5 479.55 263 479.37 263.5 479.15 264 478.97 264.5 478.8 265 478.59 265.5 478.41 266 478.23 266.5 478.04 267 477.86 267.5 477.69 268 477.51 268.5 477.28 269 477.05 269.5 476.86 270 476.63 270.5 476.39 271 476.2 271.5 475.99 272 475.72 272.5 475.4 273 475.08 273.5 474.8 274 474.51 274.5 474.18 275 473.83 275.5 473.46 276 473.07 276.5 472.67 277 472.28 277.5 471.89 278 471.43 278.5 470.94 279 470.41 279.5 469.84 280 469.29 280.5 468.73 281 468.13 281.5 467.48 282 466.8 282.5 466.06 283 465.3 283.5 464.53 284 463.74 284.5 462.91 285 462.03 285.5 461.07 286 460.11 286.5 459.17 287 458.18 287.5 457.14 288 456.06 288.5 454.96 289 453.81 289.5 452.59 290 451.37 290.5 450.13 291 448.89 291.5 447.63 292 446.35 292.5 445 293 443.58 293.5 442.13 294 440.7 294.5 439.22 295 437.73 295.5 436.23 296 434.71 296.5 433.16 297 431.61 297.5 430.08 298 428.51 298.5 426.93 299 425.44 299.5 423.98 300 422.47 300.5 420.95 301 419.49 301.5 418.08 302 416.64 302.5 415.18 303 413.75 303.5 412.35 304 410.95 304.5 409.57 305 408.23 305.5 406.85 306 405.46 306.5 404.14 307 402.83 307.5 401.49 308 400.21 308.5 399.02 309 397.79 309.5 396.53 310 395.32 310.5 394.18 311 393.11 311.5 392.09 312 391.05 312.5 390.02 313 389.08 313.5 388.22 314 387.37 314.5 386.6 315 385.89 315.5 385.22 316 384.59 316.5 384.01 317 383.57 317.5 383.19 318 382.86 318.5 382.57 319 382.35 319.5 382.24 320 382.22 320.5 382.31 321 382.57 321.5 383 322 383.58 322.5 384.29 323 385.18 323.5 386.31 324 387.7 324.5 389.35 325 391.22 325.5 393.36 326 395.82 326.5 398.54 327 401.47 327.5 404.64 328 408.02 328.5 411.55 329 415.28 329.5 419.16 330 423.12 330.5 427.2 331 431.38 331.5 435.59 332 439.85 332.5 444.09 333 448.21 333.5 452.27 334 456.27 334.5 460.2 335 464.01 335.5 467.62 336 471.07 336.5 474.5 337 477.85 337.5 481.09 338 484.36 338.5 487.68 339 490.98 339.5 494.28 340 497.64 340.5 501.06 341 504.42 341.5 507.75 342 511.1 342.5 514.42 343 517.7 343.5 520.95 344 524.14 344.5 527.25 345 530.35 345.5 533.42 346 536.4 346.5 539.33 347 542.2 347.5 545.05 348 547.93 348.5 550.79 349 553.68 349.5 556.6 350 559.5 350.5 562.39 351 565.3 351.5 568.16 352 570.95 352.5 573.67 353 576.26 353.5 578.65 354 580.89 354.5 583.01 355 584.97 355.5 586.69 356 588.18 356.5 589.56 357 590.87 357.5 592.06 358 593.14 358.5 594.16 359 595.13 359.5 596.01 360 596.87 360.5 597.7 361 598.43 361.5 599.12 362 599.84 362.5 600.53 363 601.11 363.5 601.66 364 602.19 364.5 602.71 365 603.23 365.5 603.74 366 604.18 366.5 604.57 367 604.98 367.5 605.43 368 605.86 368.5 606.25 369 606.63 369.5 606.99 370 607.37 370.5 607.75 371 608.12 371.5 608.47 372 608.84 372.5 609.22 373 609.61 373.5 609.99 374 610.36 374.5 610.74 375 611.08 375.5 611.42 376 611.81 376.5 612.2 377 612.59 377.5 612.98 378 613.37 378.5 613.77 379 614.16 379.5 614.52 380 614.89 380.5 615.31 381 615.67 381.5 616.02 382 616.39 382.5 616.77 383 617.15 383.5 617.52 384 617.91 384.5 618.26 385 618.58 385.5 618.95 386 619.34 386.5 619.7 387 620.05 387.5 620.41 388 620.77 388.5 621.11 389 621.45 389.5 621.82 390 622.16 390.5 622.45 391 622.74 391.5 623.07 392 623.44 392.5 623.75 393 624.01 393.5 624.28 394 624.6 394.5 624.93 395 625.21 395.5 625.49 396 625.77 396.5 626.06 397 626.4 397.5 626.7 398 626.95 398.5 627.16 399 627.37 399.5 627.63 400 627.86 400.5 628.08 401 628.31 401.5 628.54 402 628.81 402.5 629.04 403 629.21 403.5 629.45 404 629.69 404.5 629.88 405 630.1 405.5 630.36 406 630.57 406.5 630.77 407 631 407.5 631.24 408 631.49 408.5 631.73 409 631.97 409.5 632.22 410 632.47 410.5 632.73 411 632.99 411.5 633.28 412 633.62 412.5 633.93 413 634.2 413.5 634.47 414 634.76 414.5 635.09 415 635.44 415.5 635.8 416 636.12 416.5 636.45" stroke="#4040ff" stroke-width="1.35" fill="none"/>
<path d="M80 606.43 80.5 606.42 81 606.58 81.5 606.7 82 606.67 82.5 606.59 83 606.54 83.5 606.7 84 606.9 84.5 606.93 85 606.8 85.5 606.72 86 606.86 86.5 606.86 87 606.72 87.5 606.67 88 606.57 88.5 606.54 89 606.59 89.5 606.65 90 606.82 90.5 606.85 91 606.7 91.5 606.58 92 606.51 92.5 606.55 93 606.71 93.5 606.67 94 606.55 94.5 606.57 95 606.66 95.5 606.74 96 606.74 96.5 606.66 97 606.67 97.5 606.77 98 606.72 98.5 606.5 99 606.43 99.5 606.45 100 606.34 100.5 606.25 101 606.22 101.5 606.19 102 606.16 102.5 606.24 103 606.41 103.5 606.48 104 606.4 104.5 606.29 105 606.2 105.5 606.08 106 605.99 106.5 606.06 107 606.06 107.5 605.86 108 605.83 108.5 605.95 109 605.94 109.5 605.97 110 606.03 110.5 605.99 111 605.82 111.5 605.76 112 605.84 112.5 605.85 113 605.8 113.5 605.77 114 605.75 114.5 605.69 115 605.58 115.5 605.52 116 605.54 116.5 605.58 117 605.74 117.5 605.7 118 605.43 118.5 605.01 119 604.77 119.5 604.81 120 604.93 120.5 605.17 121 605.42 121.5 605.45 122 605.28 122.5 605.06 123 604.91 123.5 604.75 124 604.69 124.5 604.81 125 605.01 125.5 605.13 126 605.14 126.5 605.04 127 604.73 127.5 604.38 128 604.2 128.5 604.27 129 604.5 129.5 604.67 130 604.61 130.5 604.53 131 604.49 131.5 604.42 132 604.3 132.5 604.22 133 604.18 133.5 604.15 134 604.22 134.5 604.37 135 604.42 135.5 604.28 136 604.16 136.5 604.19 137 604.24 137.5 604.22 138 604.19 138.5 604.16 139 604.03 139.5 603.94 140 604.01 140.5 604.1 141 604.04 141.5 603.93 142 603.89 142.5 603.88 143 603.83 143.5 603.86 144 603.96 144.5 603.96 145 603.81 145.5 603.64 146 603.61 146.5 603.66 147 603.67 147.5 603.64 148 603.6 148.5 603.5 149 603.49 149.5 603.58 150 603.57 150.5 603.53 151 603.4 151.5 603.3 152 603.33 152.5 603.31 153 603.2 153.5 603.08 154 603.1 154.5 603.26 155 603.33 155.5 603.23 156 603.01 156.5 602.89 157 602.96 157.5 603.02 158 602.91 158.5 602.74 159 602.73 159.5 602.75 160 602.7 160.5 602.79 161 602.78 161.5 602.56 162 602.5 162.5 602.62 163 602.6 163.5 602.46 164 602.43 164.5 602.42 165 602.27 165.5 602.15 166 602.16 166.5 602.15 167 602.17 167.5 602.15 168 601.99 168.5 601.83 169 601.8 169.5 601.81 170 601.77 170.5 601.79 171 601.79 171.5 601.74 172 601.61 172.5 601.41 173 601.36 173.5 601.39 174 601.32 174.5 601.22 175 601.09 175.5 601.02 176 601 176.5 600.93 177 600.92 177.5 600.87 178 600.69 178.5 600.53 179 600.43 179.5 600.36 180 600.3 180.5 600.29 181 600.26 181.5 600.16 182 600.06 182.5 599.99 183 599.92 183.5 599.81 184 599.68 184.5 599.49 185 599.3 185.5 599.24 186 599.18 186.5 599.06 187 599 187.5 598.91 188 598.69 188.5 598.5 189 598.39 189.5 598.3 190 598.16 190.5 597.94 191 597.76 191.5 597.64 192 597.48 192.5 597.28 193 597.14 193.5 597.02 194 596.79 194.5 596.56 195 596.39 195.5 596.23 196 596.01 196.5 595.76 197 595.61 197.5 595.52 198 595.35 198.5 595.11 199 594.83 199.5 594.57 200 594.33 200.5 594.05 201 593.79 201.5 593.54 202 593.24 202.5 592.93 203 592.68 203.5 592.42 204 592.1 204.5 591.79 205 591.49 205.5 591.21 206 590.95 206.5 590.58 207 590.21 207.5 589.92 208 589.61 208.5 589.26 209 588.86 209.5 588.49 210 588.13 210.5 587.7 211 587.29 211.5 586.95 212 586.56 212.5 586.09 213 585.66 213.5 585.28 214 584.83 214.5 584.36 215 583.94 215.5 583.49 216 582.99 216.5 582.48 217 582.01 217.5 581.58 218 581.07 218.5 580.47 219 579.92 219.5 579.45 220 578.94 220.5 578.37 221 577.74 221.5 577.12 222 576.53 222.5 575.98 223 575.43 223.5 574.81 224 574.12 224.5 573.47 225 572.89 225.5 572.24 226 571.52 226.5 570.81 227 570.15 227.5 569.5 228 568.79 228.5 568.08 229 567.38 229.5 566.65 230 565.92 230.5 565.17 231 564.45 231.5 563.78 232 563.07 232.5 562.31 233 561.57 233.5 560.83 234 560.06 234.5 559.35 235 558.68 235.5 557.95 236 557.15 236.5 556.43 237 555.76 237.5 555.07 238 554.36 238.5 553.64 239 552.91 239.5 552.19 240 551.43 240.5 550.64 241 549.89 241.5 549.15 242 548.34 242.5 547.49 243 546.63 243.5 545.74 244 544.8 244.5 543.84 245 542.88 245.5 541.86 246 540.77 246.5 539.64 247 538.5 247.5 537.3 248 536.06 248.5 534.82 249 533.53 249.5 532.21 250 530.87 250.5 529.51 251 528.17 251.5 526.84 252 525.5 252.5 524.17 253 522.88 253.5 521.61 254 520.37 254.5 519.17 255 518.03 255.5 516.97 256 515.95 256.5 514.98 257 514.08 257.5 513.24 258 512.45 258.5 511.71 259 511 259.5 510.35 260 509.77 260.5 509.22 261 508.68 261.5 508.18 262 507.71 262.5 507.29 263 506.89 263.5 506.51 264 506.16 264.5 505.84 265 505.55 265.5 505.26 266 504.97 266.5 504.71 267 504.49 267.5 504.26 268 504.04 268.5 503.84 269 503.64 269.5 503.44 270 503.26 270.5 503.06 271 502.86 271.5 502.65 272 502.45 272.5 502.24 273 502.02 273.5 501.8 274 501.56 274.5 501.29 275 501.03 275.5 500.76 276 500.44 276.5 500.09 277 499.74 277.5 499.37 278 498.96 278.5 498.53 279 498.06 279.5 497.55 280 497.04 280.5 496.52 281 495.94 281.5 495.32 282 494.68 282.5 494.01 283 493.33 283.5 492.6 284 491.83 284.5 491.01 285 490.17 285.5 489.29 286 488.39 286.5 487.44 287 486.44 287.5 485.39 288 484.31 288.5 483.22 289 482.05 289.5 480.83 290 479.58 290.5 478.28 291 476.94 291.5 475.57 292 474.13 292.5 472.63 293 471.11 293.5 469.58 294 468.03 294.5 466.44 295 464.83 295.5 463.2 296 461.56 296.5 459.9 297 458.26 297.5 456.62 298 454.99 298.5 453.38 299 451.76 299.5 450.13 300 448.53 300.5 446.94 301 445.37 301.5 443.81 302 442.26 302.5 440.74 303 439.24 303.5 437.75 304 436.32 304.5 434.95 305 433.59 305.5 432.26 306 430.99 306.5 429.76 307 428.56 307.5 427.4 308 426.27 308.5 425.18 309 424.14 309.5 423.11 310 422.1 310.5 421.14 311 420.2 311.5 419.26 312 418.35 312.5 417.46 313 416.6 313.5 415.73 314 414.88 314.5 414.07 315 413.34 315.5 412.66 316 412.04 316.5 411.5 317 411.03 317.5 410.62 318 410.31 318.5 410.12 319 410 319.5 410.02 320 410.18 320.5 410.46 321 410.87 321.5 411.41 322 412.12 322.5 412.97 323 413.98 323.5 415.21 324 416.64 324.5 418.27 325 420.08 325.5 422.15 326 424.48 326.5 427.03 327 429.81 327.5 432.86 328 436.12 328.5 439.43 329 442.67 329.5 445.8 330 448.79 330.5 451.64 331 454.38 331.5 457.08 332 459.77 332.5 462.43 333 465.1 333.5 467.83 334 470.68 334.5 473.6 335 476.59 335.5 479.69 336 482.92 336.5 486.28 337 489.74 337.5 493.36 338 497.19 338.5 501.27 339 505.65 339.5 510.37 340 515.49 340.5 521.02 341 526.75 341.5 532.41 342 537.71 342.5 542.4 343 546.42 343.5 549.87 344 552.89 344.5 555.54 345 557.94 345.5 560.19 346 562.37 346.5 564.59 347 566.82 347.5 569.06 348 571.29 348.5 573.52 349 575.75 349.5 577.98 350 580.17 350.5 582.32 351 584.46 351.5 586.57 352 588.67 352.5 590.75 353 592.75 353.5 594.68 354 596.58 354.5 598.44 355 600.22 355.5 601.92 356 603.57 356.5 605.16 357 606.65 357.5 608.07 358 609.42 358.5 610.67 359 611.84 359.5 612.95 360 613.98 360.5 614.93 361 615.82 361.5 616.64 362 617.41 362.5 618.14 363 618.79 363.5 619.38 364 619.95 364.5 620.48 365 620.97 365.5 621.42 366 621.82 366.5 622.2 367 622.55 367.5 622.89 368 623.22 368.5 623.51 369 623.77 369.5 624.03 370 624.3 370.5 624.56 371 624.81 371.5 625.05 372 625.29 372.5 625.52 373 625.76 373.5 625.98 374 626.18 374.5 626.4 375 626.62 375.5 626.81 376 627.01 376.5 627.22 377 627.41 377.5 627.58 378 627.76 378.5 627.96 379 628.15 379.5 628.33 380 628.48 380.5 628.65 381 628.84 381.5 629.01 382 629.17 382.5 629.33 383 629.49 383.5 629.63 384 629.74 384.5 629.87 385 630.03 385.5 630.2 386 630.34 386.5 630.48 387 630.61 387.5 630.74 388 630.86 388.5 630.98 389 631.09 389.5 631.22 390 631.34 390.5 631.43 391 631.53 391.5 631.64 392 631.74 392.5 631.84 393 631.97 393.5 632.08 394 632.16 394.5 632.26 395 632.37 395.5 632.49 396 632.6 396.5 632.69 397 632.79 397.5 632.87 398 632.96 398.5 633.04 399 633.14 399.5 633.26 400 633.34 400.5 633.42 401 633.51 401.5 633.6 402 633.68 402.5 633.8 403 633.91 403.5 633.98 404 634.05 404.5 634.14 405 634.23 405.5 634.32 406 634.43 406.5 634.55 407 634.65 407.5 634.75 408 634.83 408.5 634.89 409 634.97 409.5 635.07 410 635.17 410.5 635.3 411 635.4 411.5 635.52 412 635.62 412.5 635.71 413 635.81 413.5 635.93 414 636.04 414.5 636.16 415 636.26 415.5 636.35 416 636.47 416.5 636.6" stroke="#30ffff" stroke-width="1.35" fill="none"/>
<path d="M80 598.41 80.5 598.34 81 598.21 81.5 598.04 82 597.95 82.5 598 83 597.9 83.5 597.69 84 597.61 84.5 597.44 85 597.32 85.5 597.37 86 597.39 86.5 597.21 87 596.97 87.5 596.91 88 596.89 88.5 596.83 89 596.74 89.5 596.62 90 596.53 90.5 596.36 91 596.22 91.5 596.18 92 596.21 92.5 596.23 93 596.21 93.5 596.14 94 596.05 94.5 596.03 95 595.97 95.5 595.82 96 595.8 96.5 595.87 97 595.85 97.5 595.81 98 595.77 98.5 595.66 99 595.52 99.5 595.43 100 595.45 100.5 595.45 101 595.38 101.5 595.37 102 595.29 102.5 595.19 103 595.16 103.5 595.12 104 595.04 104.5 594.92 105 594.93 105.5 595.05 106 595 106.5 594.84 107 594.8 107.5 594.76 108 594.75 108.5 594.8 109 594.76 109.5 594.7 110 594.79 110.5 594.8 111 594.66 111.5 594.64 112 594.71 112.5 594.7 113 594.65 113.5 594.68 114 594.73 114.5 594.69 115 594.61 115.5 594.51 116 594.55 116.5 594.64 117 594.72 117.5 594.7 118 594.54 118.5 594.33 119 594.19 119.5 594.22 120 594.35 120.5 594.52 121 594.63 121.5 594.6 122 594.59 122.5 594.52 123 594.28 123.5 594.04 124 593.96 124.5 594.1 125 594.31 125.5 594.43 126 594.52 126.5 594.47 127 594.18 127.5 593.94 128 593.98 128.5 593.97 129 593.91 129.5 594.02 130 594.08 130.5 594.03 131 593.99 131.5 593.92 132 593.8 132.5 593.76 133 593.89 133.5 593.89 134 593.7 134.5 593.61 135 593.62 135.5 593.67 136 593.67 136.5 593.55 137 593.51 137.5 593.54 138 593.47 138.5 593.42 139 593.39 139.5 593.26 140 593.17 140.5 593.23 141 593.23 141.5 593.09 142 593.04 142.5 593.06 143 592.97 143.5 592.9 144 592.86 144.5 592.85 145 592.77 145.5 592.61 146 592.54 146.5 592.49 147 592.37 147.5 592.24 148 592.22 148.5 592.22 149 592.12 149.5 592.11 150 592.18 150.5 592.15 151 591.99 151.5 591.77 152 591.63 152.5 591.57 153 591.52 153.5 591.45 154 591.37 154.5 591.32 155 591.23 155.5 591.07 156 590.92 156.5 590.88 157 590.77 157.5 590.59 158 590.51 158.5 590.46 159 590.28 159.5 590.12 160 590.04 160.5 589.88 161 589.69 161.5 589.63 162 589.6 162.5 589.49 163 589.26 163.5 589 164 588.84 164.5 588.75 165 588.6 165.5 588.39 166 588.23 166.5 588.15 167 588.09 167.5 587.96 168 587.73 168.5 587.46 169 587.27 169.5 587.19 170 587.07 170.5 586.8 171 586.52 171.5 586.32 172 586.14 172.5 585.99 173 585.84 173.5 585.62 174 585.37 174.5 585.16 175 584.94 175.5 584.68 176 584.49 176.5 584.31 177 584.04 177.5 583.78 178 583.6 178.5 583.45 179 583.23 179.5 582.96 180 582.73 180.5 582.47 181 582.1 181.5 581.83 182 581.69 182.5 581.44 183 581.14 183.5 580.92 184 580.69 184.5 580.4 185 580.13 185.5 579.9 186 579.68 186.5 579.44 187 579.26 187.5 579.06 188 578.77 188.5 578.45 189 578.2 189.5 577.97 190 577.72 190.5 577.51 191 577.27 191.5 576.97 192 576.73 192.5 576.56 193 576.31 193.5 576 194 575.76 194.5 575.52 195 575.29 195.5 575.08 196 574.85 196.5 574.6 197 574.38 197.5 574.11 198 573.82 198.5 573.58 199 573.35 199.5 573.14 200 572.89 200.5 572.59 201 572.31 201.5 572.07 202 571.84 202.5 571.57 203 571.35 203.5 571.12 204 570.8 204.5 570.5 205 570.27 205.5 569.99 206 569.66 206.5 569.31 207 569.01 207.5 568.72 208 568.39 208.5 568.05 209 567.7 209.5 567.39 210 567.07 210.5 566.7 211 566.33 211.5 565.97 212 565.56 212.5 565.17 213 564.82 213.5 564.46 214 564.06 214.5 563.65 215 563.22 215.5 562.8 216 562.35 216.5 561.87 217 561.42 217.5 560.99 218 560.52 218.5 560 219 559.5 219.5 559.05 220 558.54 220.5 557.97 221 557.45 221.5 556.95 222 556.38 222.5 555.81 223 555.24 223.5 554.66 224 554.08 224.5 553.44 225 552.82 225.5 552.22 226 551.61 226.5 550.98 227 550.34 227.5 549.7 228 549.06 228.5 548.39 229 547.66 229.5 546.95 230 546.26 230.5 545.54 231 544.81 231.5 544.07 232 543.36 232.5 542.64 233 541.89 233.5 541.1 234 540.28 234.5 539.47 235 538.67 235.5 537.82 236 536.96 236.5 536.1 237 535.25 237.5 534.4 238 533.53 238.5 532.66 239 531.79 239.5 530.88 240 529.93 240.5 529.02 241 528.12 241.5 527.21 242 526.29 242.5 525.33 243 524.37 243.5 523.44 244 522.48 244.5 521.53 245 520.61 245.5 519.67 246 518.71 246.5 517.77 247 516.85 247.5 515.9 248 514.96 248.5 514.03 249 513.11 249.5 512.18 250 511.28 250.5 510.39 251 509.49 251.5 508.6 252 507.7 252.5 506.82 253 505.97 253.5 505.14 254 504.28 254.5 503.45 255 502.66 255.5 501.86 256 501.06 256.5 500.3 257 499.54 257.5 498.79 258 498.05 258.5 497.34 259 496.67 259.5 496.03 260 495.4 260.5 494.8 261 494.24 261.5 493.72 262 493.23 262.5 492.76 263 492.34 263.5 491.97 264 491.62 264.5 491.31 265 491.05 265.5 490.84 266 490.62 266.5 490.43 267 490.28 267.5 490.14 268 490.01 268.5 489.91 269 489.81 269.5 489.71 270 489.61 270.5 489.53 271 489.44 271.5 489.33 272 489.23 272.5 489.11 273 488.97 273.5 488.81 274 488.61 274.5 488.37 275 488.12 275.5 487.85 276 487.54 276.5 487.16 277 486.74 277.5 486.29 278 485.8 278.5 485.27 279 484.7 279.5 484.09 280 483.46 280.5 482.81 281 482.12 281.5 481.41 282 480.68 282.5 479.93 283 479.17 283.5 478.41 284 477.63 284.5 476.83 285 476.04 285.5 475.24 286 474.44 286.5 473.66 287 472.88 287.5 472.06 288 471.22 288.5 470.36 289 469.47 289.5 468.56 290 467.62 290.5 466.66 291 465.68 291.5 464.64 292 463.54 292.5 462.4 293 461.22 293.5 459.97 294 458.7 294.5 457.38 295 456.02 295.5 454.64 296 453.22 296.5 451.78 297 450.31 297.5 448.79 298 447.25 298.5 445.68 299 444.1 299.5 442.52 300 440.94 300.5 439.35 301 437.75 301.5 436.12 302 434.5 302.5 432.88 303 431.27 303.5 429.67 304 428.08 304.5 426.48 305 424.92 305.5 423.36 306 421.82 306.5 420.31 307 418.83 307.5 417.36 308 415.91 308.5 414.52 309 413.19 309.5 411.86 310 410.57 310.5 409.34 311 408.17 311.5 407.03 312 405.93 312.5 404.91 313 403.94 313.5 403.03 314 402.16 314.5 401.37 315 400.66 315.5 400.01 316 399.44 316.5 398.96 317 398.58 317.5 398.25 318 398.03 318.5 397.92 319 397.89 319.5 397.96 320 398.17 320.5 398.51 321 398.93 321.5 399.47 322 400.14 322.5 400.96 323 401.97 323.5 403.22 324 404.75 324.5 406.62 325 408.88 325.5 411.55 326 414.51 326.5 417.61 327 420.65 327.5 423.49 328 426.09 328.5 428.49 329 430.78 329.5 433 330 435.21 330.5 437.45 331 439.8 331.5 442.31 332 445.02 332.5 447.96 333 451.15 333.5 454.57 334 458.17 334.5 461.97 335 465.93 335.5 470.01 336 474.22 336.5 478.53 337 482.93 337.5 487.38 338 491.87 338.5 496.41 339 500.94 339.5 505.47 340 509.95 340.5 514.39 341 518.78 341.5 523.06 342 527.23 342.5 531.29 343 535.18 343.5 538.91 344 542.48 344.5 545.86 345 549.07 345.5 552.11 346 555 346.5 557.73 347 560.33 347.5 562.8 348 565.15 348.5 567.4 349 569.55 349.5 571.59 350 573.57 350.5 575.46 351 577.27 351.5 579.02 352 580.72 352.5 582.38 353 584.01 353.5 585.61 354 587.19 354.5 588.75 355 590.27 355.5 591.76 356 593.23 356.5 594.69 357 596.09 357.5 597.45 358 598.78 358.5 600.08 359 601.36 359.5 602.61 360 603.8 360.5 604.95 361 606.08 361.5 607.16 362 608.18 362.5 609.17 363 610.11 363.5 611.01 364 611.86 364.5 612.68 365 613.46 365.5 614.18 366 614.86 366.5 615.48 367 616.08 367.5 616.65 368 617.2 368.5 617.72 369 618.21 369.5 618.65 370 619.07 370.5 619.48 371 619.85 371.5 620.19 372 620.52 372.5 620.84 373 621.14 373.5 621.44 374 621.74 374.5 622.02 375 622.29 375.5 622.57 376 622.84 376.5 623.1 377 623.35 377.5 623.6 378 623.85 378.5 624.11 379 624.35 379.5 624.58 380 624.8 380.5 625.02 381 625.26 381.5 625.51 382 625.75 382.5 625.96 383 626.16 383.5 626.36 384 626.58 384.5 626.79 385 627.01 385.5 627.23 386 627.42 386.5 627.59 387 627.77 387.5 627.96 388 628.16 388.5 628.35 389 628.52 389.5 628.69 390 628.87 390.5 629.06 391 629.24 391.5 629.39 392 629.53 392.5 629.71 393 629.89 393.5 630.06 394 630.21 394.5 630.37 395 630.53 395.5 630.7 396 630.85 396.5 631 397 631.15 397.5 631.29 398 631.43 398.5 631.58 399 631.73 399.5 631.88 400 632.03 400.5 632.19 401 632.32 401.5 632.45 402 632.6 402.5 632.73 403 632.86 403.5 633.01 404 633.16 404.5 633.3 405 633.44 405.5 633.58 406 633.7 406.5 633.82 407 633.94 407.5 634.09 408 634.25 408.5 634.39 409 634.52 409.5 634.64 410 634.76 410.5 634.89 411 635.04 411.5 635.19 412 635.34 412.5 635.47 413 635.59 413.5 635.73 414 635.89 414.5 636.02 415 636.16 415.5 636.31 416 636.45 416.5 636.59" stroke="#ffff30" stroke-width="1.35" fill="none"/>
<path d="M80 585.18 80.5 584.97 81 585.02 81.5 585.11 82 584.9 82.5 584.57 83 584.47 83.5 584.47 84 584.39 84.5 584.16 85 583.84 85.5 583.69 86 583.8 86.5 583.99 87 584 87.5 583.91 88 583.79 88.5 583.64 89 583.59 89.5 583.84 90 584.06 90.5 583.9 91 583.95 91.5 584.09 92 583.84 92.5 583.83 93 584.23 93.5 584.33 94 584.21 94.5 584.44 95 584.54 95.5 584.4 96 584.54 96.5 584.68 97 584.82 97.5 584.89 98 584.67 98.5 584.75 99 585.03 99.5 585.02 100 585.08 100.5 585.42 101 585.54 101.5 585.39 102 585.36 102.5 585.42 103 585.56 103.5 585.82 104 585.85 104.5 585.76 105 585.92 105.5 585.96 106 585.77 106.5 585.74 107 585.82 107.5 586.05 108 586.39 108.5 586.38 109 586.21 109.5 586.28 110 586.25 110.5 586.21 111 586.36 111.5 586.26 112 586.02 112.5 586.04 113 586.22 113.5 586.44 114 586.57 114.5 586.44 115 586.08 115.5 585.78 116 585.93 116.5 586.08 117 586.39 117.5 586.45 118 585.89 118.5 585.29 119 584.97 119.5 584.9 120 585.07 120.5 585.19 121 585.44 121.5 585.71 122 585.42 122.5 584.86 123 584.38 123.5 584.09 124 584.03 124.5 584.14 125 584.63 125.5 584.93 126 584.69 126.5 584.5 127 584.22 127.5 583.46 128 582.9 128.5 583.04 129 583.54 129.5 583.99 130 584.16 130.5 583.96 131 583.46 131.5 583.36 132 583.44 132.5 583.35 133 583.24 133.5 583.06 134 582.88 134.5 582.95 135 583.07 135.5 582.91 136 582.73 136.5 582.75 137 582.71 137.5 582.62 138 582.74 138.5 582.97 139 582.96 139.5 582.8 140 582.89 140.5 583.01 141 582.85 141.5 582.59 142 582.55 142.5 582.81 143 582.81 143.5 582.48 144 582.49 144.5 582.73 145 582.69 145.5 582.47 146 582.31 146.5 582.34 147 582.54 147.5 582.74 148 582.82 148.5 582.69 149 582.56 149.5 582.48 150 582.37 150.5 582.46 151 582.46 151.5 582.26 152 582.2 152.5 582.18 153 582.16 153.5 582.16 154 582.13 154.5 582.17 155 582.21 155.5 582.15 156 582.13 156.5 582.11 157 582.09 157.5 582.06 158 582.04 158.5 582.01 159 581.86 159.5 581.89 160 582.05 160.5 581.93 161 581.84 161.5 582.02 162 582.12 162.5 582.04 163 581.82 163.5 581.66 164 581.74 164.5 581.77 165 581.71 165.5 581.48 166 581.33 166.5 581.36 167 581.26 167.5 581.17 168 581.04 168.5 580.84 169 580.82 169.5 580.86 170 580.79 170.5 580.81 171 580.76 171.5 580.46 172 580.26 172.5 580.3 173 580.41 173.5 580.32 174 580.04 174.5 579.88 175 579.76 175.5 579.63 176 579.63 176.5 579.59 177 579.46 177.5 579.49 178 579.47 178.5 579.24 179 578.96 179.5 578.87 180 578.84 180.5 578.63 181 578.49 181.5 578.37 182 578.29 182.5 578.27 183 578.11 183.5 578.05 184 578.01 184.5 577.75 185 577.52 185.5 577.41 186 577.31 186.5 577.17 187 576.95 187.5 576.83 188 576.73 188.5 576.49 189 576.23 189.5 576.12 190 576.13 190.5 576.09 191 575.92 191.5 575.61 192 575.33 192.5 575.16 193 574.92 193.5 574.73 194 574.65 194.5 574.44 195 574.1 195.5 573.8 196 573.61 196.5 573.54 197 573.4 197.5 573.13 198 572.85 198.5 572.56 199 572.36 199.5 572.21 200 572.01 200.5 571.83 201 571.54 201.5 571.11 202 570.79 202.5 570.67 203 570.53 203.5 570.17 204 569.7 204.5 569.35 205 569.09 205.5 568.82 206 568.51 206.5 568.19 207 567.98 207.5 567.72 208 567.36 208.5 567 209 566.58 209.5 566.2 210 565.99 210.5 565.71 211 565.33 211.5 564.94 212 564.54 212.5 564.21 213 563.87 213.5 563.46 214 562.99 214.5 562.56 215 562.2 215.5 561.77 216 561.39 216.5 561.03 217 560.55 217.5 559.98 218 559.47 218.5 559.01 219 558.51 219.5 558.08 220 557.54 220.5 556.93 221 556.44 221.5 555.92 222 555.36 222.5 554.79 223 554.16 223.5 553.59 224 553.04 224.5 552.4 225 551.78 225.5 551.15 226 550.47 226.5 549.79 227 549.17 227.5 548.57 228 547.87 228.5 547.14 229 546.44 229.5 545.71 230 544.99 230.5 544.24 231 543.44 231.5 542.64 232 541.83 232.5 541.04 233 540.27 233.5 539.46 234 538.61 234.5 537.79 235 537 235.5 536.21 236 535.4 236.5 534.56 237 533.68 237.5 532.73 238 531.83 238.5 531.02 239 530.17 239.5 529.23 240 528.26 240.5 527.33 241 526.42 241.5 525.53 242 524.64 242.5 523.73 243 522.77 243.5 521.79 244 520.83 244.5 519.93 245 518.99 245.5 517.99 246 517 246.5 516.05 247 515.12 247.5 514.19 248 513.27 248.5 512.33 249 511.34 249.5 510.36 250 509.39 250.5 508.48 251 507.62 251.5 506.69 252 505.75 252.5 504.87 253 503.97 253.5 503.09 254 502.26 254.5 501.39 255 500.56 255.5 499.81 256 499.03 256.5 498.24 257 497.51 257.5 496.83 258 496.16 258.5 495.5 259 494.85 259.5 494.22 260 493.61 260.5 493.07 261 492.57 261.5 492.1 262 491.66 262.5 491.23 263 490.8 263.5 490.42 264 490.11 264.5 489.83 265 489.58 265.5 489.33 266 489.11 266.5 488.96 267 488.81 267.5 488.64 268 488.48 268.5 488.36 269 488.26 269.5 488.14 270 488.01 270.5 487.87 271 487.76 271.5 487.64 272 487.49 272.5 487.38 273 487.23 273.5 487 274 486.77 274.5 486.56 275 486.35 275.5 486.12 276 485.8 276.5 485.46 277 485.11 277.5 484.7 278 484.25 278.5 483.79 279 483.29 279.5 482.77 280 482.22 280.5 481.64 281 481.03 281.5 480.37 282 479.66 282.5 478.91 283 478.17 283.5 477.45 284 476.66 284.5 475.8 285 474.92 285.5 474.07 286 473.22 286.5 472.33 287 471.39 287.5 470.43 288 469.47 288.5 468.47 289 467.42 289.5 466.38 290 465.38 290.5 464.33 291 463.28 291.5 462.19 292 461.04 292.5 459.91 293 458.81 293.5 457.67 294 456.53 294.5 455.37 295 454.16 295.5 452.91 296 451.66 296.5 450.42 297 449.15 297.5 447.82 298 446.47 298.5 445.09 299 443.65 299.5 442.14 300 440.61 300.5 439.07 301 437.48 301.5 435.87 302 434.24 302.5 432.55 303 430.79 303.5 428.98 304 427.13 304.5 425.23 305 423.3 305.5 421.43 306 419.65 306.5 417.93 307 416.22 307.5 414.56 308 412.99 308.5 411.49 309 410.04 309.5 408.66 310 407.33 310.5 406.07 311 404.87 311.5 403.67 312 402.52 312.5 401.47 313 400.51 313.5 399.59 314 398.71 314.5 397.9 315 397.14 315.5 396.43 316 395.8 316.5 395.27 317 394.78 317.5 394.4 318 394.15 318.5 393.99 319 393.91 319.5 393.94 320 394.11 320.5 394.44 321 394.89 321.5 395.48 322 396.24 322.5 397.15 323 398.24 323.5 399.54 324 401.05 324.5 402.78 325 404.82 325.5 407.19 326 409.77 326.5 412.53 327 415.4 327.5 418.32 328 421.23 328.5 424.04 329 426.78 329.5 429.48 330 432.17 330.5 434.85 331 437.59 331.5 440.37 332 443.18 332.5 446.11 333 449.13 333.5 452.16 334 455.23 334.5 458.39 335 461.62 335.5 464.87 336 468.17 336.5 471.44 337 474.73 337.5 478.06 338 481.39 338.5 484.67 339 487.92 339.5 491.13 340 494.3 340.5 497.51 341 500.77 341.5 504.02 342 507.32 342.5 510.75 343 514.29 343.5 517.88 344 521.51 344.5 525.18 345 528.9 345.5 532.66 346 536.38 346.5 540.01 347 543.58 347.5 547.12 348 550.56 348.5 553.89 349 557.06 349.5 560.06 350 562.94 350.5 565.72 351 568.35 351.5 570.82 352 573.2 352.5 575.49 353 577.62 353.5 579.62 354 581.54 354.5 583.38 355 585.13 355.5 586.79 356 588.34 356.5 589.78 357 591.12 357.5 592.41 358 593.64 358.5 594.81 359 595.91 359.5 596.95 360 597.92 360.5 598.81 361 599.7 361.5 600.53 362 601.28 362.5 602.01 363 602.73 363.5 603.41 364 604.05 364.5 604.64 365 605.24 365.5 605.82 366 606.32 366.5 606.79 367 607.28 367.5 607.8 368 608.28 368.5 608.7 369 609.12 369.5 609.51 370 609.85 370.5 610.18 371 610.55 371.5 610.93 372 611.27 372.5 611.6 373 611.96 373.5 612.27 374 612.52 374.5 612.81 375 613.14 375.5 613.44 376 613.77 376.5 614.09 377 614.34 377.5 614.61 378 614.94 378.5 615.28 379 615.56 379.5 615.84 380 616.15 380.5 616.42 381 616.71 381.5 617.05 382 617.35 382.5 617.62 383 617.91 383.5 618.23 384 618.55 384.5 618.88 385 619.21 385.5 619.51 386 619.78 386.5 620.07 387 620.37 387.5 620.64 388 620.94 388.5 621.25 389 621.58 389.5 621.9 390 622.23 390.5 622.53 391 622.82 391.5 623.11 392 623.37 392.5 623.64 393 623.96 393.5 624.28 394 624.58 394.5 624.89 395 625.18 395.5 625.46 396 625.72 396.5 625.99 397 626.3 397.5 626.62 398 626.94 398.5 627.23 399 627.52 399.5 627.78 400 628.04 400.5 628.3 401 628.58 401.5 628.86 402 629.14 402.5 629.44 403 629.73 403.5 629.98 404 630.2 404.5 630.48 405 630.79 405.5 631.07 406 631.34 406.5 631.58 407 631.8 407.5 632.04 408 632.29 408.5 632.55 409 632.82 409.5 633.04 410 633.27 410.5 633.52 411 633.76 411.5 633.99 412 634.22 412.5 634.48 413 634.73 413.5 634.94 414 635.15 414.5 635.4 415 635.64 415.5 635.86 416 636.06 416.5 636.25" stroke="#8c8c3c" stroke-width="1.35" fill="none"/>
<path d="M79.6 382V637M79.6 637H417" stroke="#1e1e1e" stroke-width="1.3" fill="none"/>
<path d="M74.4 637H79.6M74.4 586H79.6M74.4 535H79.6M74.4 484H79.6M74.4 433H79.6M74.4 382H79.6M76.6 611.5H79.6M76.6 560.5H79.6M76.6 509.5H79.6M76.6 458.5H79.6M76.6 407.5H79.6M79.6 637V642.2M135.83 637V642.2M192.07 637V642.2M248.31 637V642.2M304.54 637V642.2M360.77 637V642.2M417.01 637V642.2M107.72 637V640M163.95 637V640M220.19 637V640M276.42 637V640M332.66 637V640M388.89 637V640" stroke="#1e1e1e" stroke-width="1.3" fill="none"/>
<text x="71.2" y="642.8" text-anchor="end">0.0</text>
<text x="71.2" y="591.8" text-anchor="end">0.<tspan class="h">1</tspan></text>
<text x="71.2" y="540.8" text-anchor="end">0.2</text>
<text x="71.2" y="489.8" text-anchor="end">0.3</text>
<text x="71.2" y="438.8" text-anchor="end">0.4</text>
<text x="71.2" y="387.8" text-anchor="end">0.5</text>
<text x="79.6" y="661.2" text-anchor="middle">450</text>
<text x="135.83" y="661.2" text-anchor="middle">500</text>
<text x="192.07" y="661.2" text-anchor="middle">550</text>
<text x="248.31" y="661.2" text-anchor="middle">600</text>
<text x="304.54" y="661.2" text-anchor="middle">650</text>
<text x="360.77" y="661.2" text-anchor="middle">700</text>
<text x="417.01" y="661.2" text-anchor="middle">750</text>
<text x="247.55" y="686" text-anchor="middle" style="font-size:20.3px">Wavelength (nm)</text>
<text transform="translate(21 515.5) rotate(-90)" x="0" y="0" text-anchor="middle" style="font-size:20.25px">Absorbance (AU)</text>
<rect x="345.5" y="353.5" width="108.8" height="174.1" fill="none" stroke="#444" stroke-width="1.1"/>
<path d="M347.3 366.3H393" stroke="#3a3a3a" stroke-width="1.35"/>
<text x="398.5" y="373.2">00min</text>
<path d="M347.3 391.3H393" stroke="#ff4040" stroke-width="1.35"/>
<text x="398.5" y="398.2"><tspan class="h">1</tspan>0min</text>
<path d="M347.3 416.3H393" stroke="#3af03a" stroke-width="1.35"/>
<text x="398.5" y="423.2">20min</text>
<path d="M347.3 441.3H393" stroke="#4040ff" stroke-width="1.35"/>
<text x="398.5" y="448.2">30min</text>
<path d="M347.3 466.3H393" stroke="#30ffff" stroke-width="1.35"/>
<text x="398.5" y="473.2">40min</text>
<path d="M347.3 491.3H393" stroke="#ffff30" stroke-width="1.35"/>
<text x="398.5" y="498.2">50min</text>
<path d="M347.3 516.3H393" stroke="#8c8c3c" stroke-width="1.35"/>
<text x="398.5" y="523.2">60min</text>
</g>
<g>
<path d="M639 611.16 639.5 611.28 640 611.32 640.5 611.41 641 611.47 641.5 611.28 642 611.02 642.5 610.83 643 610.86 643.5 611.06 644 611.23 644.5 611.22 645 610.95 645.5 610.74 646 610.93 646.5 611.12 647 610.99 647.5 611.05 648 611.13 648.5 610.95 649 611.1 649.5 611.25 650 611.07 650.5 611.15 651 611.23 651.5 611.04 652 611.11 652.5 611.32 653 611.3 653.5 611.13 654 611.03 654.5 611.1 655 611.15 655.5 611.16 656 611.27 656.5 611.47 657 611.46 657.5 611.29 658 611.25 658.5 611.22 659 611.22 659.5 611.31 660 611.37 660.5 611.34 661 611.38 661.5 611.46 662 611.51 662.5 611.5 663 611.4 663.5 611.42 664 611.4 664.5 611.37 665 611.44 665.5 611.4 666 611.21 666.5 610.98 667 611.07 667.5 611.33 668 611.42 668.5 611.5 669 611.57 669.5 611.32 670 610.96 670.5 610.97 671 611.04 671.5 611.08 672 611.3 672.5 611.4 673 611.19 673.5 611.02 674 610.87 674.5 610.58 675 610.46 675.5 610.57 676 610.61 676.5 610.38 677 610.1 677.5 610.01 678 609.95 678.5 609.8 679 609.68 679.5 609.67 680 609.72 680.5 609.78 681 609.69 681.5 609.43 682 609.3 682.5 609.35 683 609.32 683.5 609.16 684 609.1 684.5 608.87 685 608.56 685.5 608.51 686 608.38 686.5 608.32 687 608.43 687.5 608.25 688 608.01 688.5 607.92 689 607.78 689.5 607.84 690 608.01 690.5 607.95 691 607.96 691.5 608.08 692 608.15 692.5 607.99 693 607.75 693.5 607.82 694 607.89 694.5 607.88 695 608.1 695.5 608.36 696 608.59 696.5 608.58 697 608.35 697.5 608.4 698 608.59 698.5 608.57 699 608.66 699.5 608.85 700 608.98 700.5 609.27 701 609.34 701.5 609.19 702 609.37 702.5 609.71 703 609.77 703.5 609.55 704 609.57 704.5 609.92 705 609.99 705.5 609.79 706 609.85 706.5 610.09 707 610.1 707.5 609.98 708 610.11 708.5 610.24 709 610.11 709.5 609.88 710 609.82 710.5 610.01 711 610.12 711.5 609.91 712 609.81 712.5 609.88 713 609.84 713.5 609.77 714 609.82 714.5 610.01 715 610.1 715.5 609.93 716 609.77 716.5 609.8 717 609.96 717.5 610.11 718 610 718.5 609.61 719 609.48 719.5 609.7 720 609.73 720.5 609.56 721 609.53 721.5 609.49 722 609.38 722.5 609.18 723 608.87 723.5 608.7 724 608.62 724.5 608.61 725 608.6 725.5 608.42 726 608.27 726.5 608.1 727 607.98 727.5 607.88 728 607.73 728.5 607.68 729 607.56 729.5 607.42 730 607.27 730.5 607 731 606.78 731.5 606.69 732 606.53 732.5 606.43 733 606.45 733.5 606.24 734 605.85 734.5 605.61 735 605.46 735.5 605.28 736 605.1 736.5 605.02 737 604.9 737.5 604.63 738 604.41 738.5 604.24 739 603.95 739.5 603.65 740 603.56 740.5 603.44 741 603.08 741.5 602.75 742 602.59 742.5 602.4 743 602.07 743.5 601.78 744 601.69 744.5 601.47 745 601.07 745.5 600.69 746 600.42 746.5 600.32 747 600.1 747.5 599.76 748 599.4 748.5 598.98 749 598.63 749.5 598.38 750 598.1 750.5 597.82 751 597.6 751.5 597.28 752 596.86 752.5 596.52 753 596.33 753.5 596.09 754 595.68 754.5 595.29 755 594.96 755.5 594.62 756 594.34 756.5 593.98 757 593.55 757.5 593.23 758 592.88 758.5 592.52 759 592.2 759.5 591.86 760 591.55 760.5 591.13 761 590.63 761.5 590.25 762 589.9 762.5 589.55 763 589.15 763.5 588.76 764 588.35 764.5 587.85 765 587.43 765.5 586.98 766 586.55 766.5 586.22 767 585.86 767.5 585.43 768 584.92 768.5 584.45 769 584 769.5 583.4 770 582.89 770.5 582.5 771 582 771.5 581.51 772 581.04 772.5 580.52 773 580.02 773.5 579.45 774 578.79 774.5 578.16 775 577.68 775.5 577.21 776 576.55 776.5 575.87 777 575.32 777.5 574.75 778 574.1 778.5 573.44 779 572.8 779.5 572.19 780 571.46 780.5 570.72 781 570.08 781.5 569.38 782 568.64 782.5 567.86 783 567.02 783.5 566.22 784 565.44 784.5 564.65 785 563.82 785.5 563.06 786 562.3 786.5 561.41 787 560.51 787.5 559.61 788 558.74 788.5 557.94 789 557.05 789.5 556.03 790 555.06 790.5 554.15 791 553.15 791.5 552.17 792 551.27 792.5 550.34 793 549.35 793.5 548.3 794 547.29 794.5 546.33 795 545.35 795.5 544.33 796 543.25 796.5 542.15 797 541.13 797.5 540.14 798 539.15 798.5 538.13 799 537.08 799.5 536.06 800 535.05 800.5 534.03 801 532.98 801.5 531.95 802 530.92 802.5 529.95 803 529 803.5 528.01 804 527.04 804.5 526.03 805 525.04 805.5 524.09 806 523.15 806.5 522.23 807 521.3 807.5 520.4 808 519.51 808.5 518.67 809 517.87 809.5 517.04 810 516.23 810.5 515.44 811 514.67 811.5 513.97 812 513.27 812.5 512.56 813 511.9 813.5 511.3 814 510.71 814.5 510.14 815 509.64 815.5 509.2 816 508.73 816.5 508.3 817 507.93 817.5 507.59 818 507.29 818.5 506.98 819 506.71 819.5 506.5 820 506.3 820.5 506.1 821 505.9 821.5 505.68 822 505.48 822.5 505.33 823 505.19 823.5 505.04 824 504.88 824.5 504.72 825 504.53 825.5 504.35 826 504.18 826.5 504 827 503.81 827.5 503.59 828 503.31 828.5 503.04 829 502.75 829.5 502.39 830 502.05 830.5 501.68 831 501.23 831.5 500.77 832 500.26 832.5 499.7 833 499.11 833.5 498.45 834 497.75 834.5 497.02 835 496.25 835.5 495.45 836 494.62 836.5 493.78 837 492.88 837.5 491.94 838 491.03 838.5 490.12 839 489.15 839.5 488.14 840 487.13 840.5 486.15 841 485.14 841.5 484.08 842 483.05 842.5 481.97 843 480.81 843.5 479.68 844 478.55 844.5 477.39 845 476.2 845.5 474.94 846 473.61 846.5 472.29 847 470.98 847.5 469.64 848 468.25 848.5 466.82 849 465.42 849.5 464 850 462.52 850.5 461.01 851 459.47 851.5 457.87 852 456.25 852.5 454.64 853 452.99 853.5 451.31 854 449.65 854.5 447.97 855 446.22 855.5 444.44 856 442.68 856.5 440.93 857 439.12 857.5 437.26 858 435.44 858.5 433.64 859 431.85 859.5 430.07 860 428.29 860.5 426.56 861 424.87 861.5 423.14 862 421.41 862.5 419.75 863 418.18 863.5 416.63 864 415.1 864.5 413.62 865 412.21 865.5 410.88 866 409.63 866.5 408.41 867 407.23 867.5 406.15 868 405.13 868.5 404.17 869 403.29 869.5 402.53 870 401.85 870.5 401.24 871 400.67 871.5 400.19 872 399.83 872.5 399.57 873 399.4 873.5 399.34 874 399.38 874.5 399.55 875 399.85 875.5 400.24 876 400.72 876.5 401.32 877 402.08 877.5 403.02 878 404.12 878.5 405.44 879 406.95 879.5 408.6 880 410.4 880.5 412.46 881 414.78 881.5 417.27 882 419.98 882.5 422.95 883 426.19 883.5 429.69 884 433.4 884.5 437.29 885 441.33 885.5 445.5 886 449.83 886.5 454.24 887 458.66 887.5 463.16 888 467.67 888.5 472.17 889 476.64 889.5 481.01 890 485.34 890.5 489.65 891 493.95 891.5 498.32 892 502.71 892.5 507.09 893 511.42 893.5 515.63 894 519.72 894.5 523.74 895 527.69 895.5 531.56 896 535.3 896.5 538.94 897 542.53 897.5 546.02 898 549.39 898.5 552.7 899 555.93 899.5 559.01 900 561.96 900.5 564.83 901 567.53 901.5 570.05 902 572.48 902.5 574.83 903 577.06 903.5 579.19 904 581.23 904.5 583.18 905 585.09 905.5 586.94 906 588.69 906.5 590.4 907 592.09 907.5 593.73 908 595.3 908.5 596.85 909 598.34 909.5 599.79 910 601.18 910.5 602.49 911 603.82 911.5 605.16 912 606.39 912.5 607.56 913 608.71 913.5 609.8 914 610.85 914.5 611.9 915 612.91 915.5 613.89 916 614.83 916.5 615.67 917 616.47 917.5 617.25 918 617.99 918.5 618.7 919 619.41 919.5 620.05 920 620.62 920.5 621.16 921 621.68 921.5 622.17 922 622.6 922.5 622.99 923 623.37 923.5 623.72 924 624.03 924.5 624.35 925 624.65 925.5 624.93 926 625.2 926.5 625.41 927 625.62 927.5 625.88 928 626.12 928.5 626.32 929 626.51 929.5 626.75 930 626.99 930.5 627.18 931 627.41 931.5 627.65 932 627.89 932.5 628.16 933 628.43 933.5 628.67 934 628.9 934.5 629.13 935 629.37 935.5 629.65 936 629.95 936.5 630.22 937 630.43 937.5 630.66 938 630.94 938.5 631.25 939 631.53 939.5 631.78 940 632.05 940.5 632.34 941 632.61 941.5 632.83 942 633.07 942.5 633.36 943 633.63 943.5 633.89 944 634.18 944.5 634.42 945 634.64 945.5 634.9 946 635.19 946.5 635.41 947 635.61 947.5 635.84 948 636.06 948.5 636.3 949 636.55 949.5 636.77 950 636.94 950.5 637.11 951 637.31 951.5 637.51 952 637.68 952.5 637.83 953 638 953.5 638.17 954 638.31 954.5 638.47 955 638.63 955.5 638.77 956 638.87 956.5 638.94 957 639 957.5 639.09 958 639.17 958.5 639.24 959 639.31 959.5 639.33 960 639.37 960.5 639.46 961 639.47 961.5 639.42 962 639.42 962.5 639.42 963 639.37 963.5 639.29 964 639.24 964.5 639.17 965 639.07 965.5 638.99 966 638.86 966.5 638.7 967 638.55 967.5 638.37 968 638.19 968.5 638.01 969 637.8 969.5 637.6" stroke="#3a3a3a" stroke-width="1.35" fill="none"/>
<path d="M639 601.33 639.5 601.48 640 601.4 640.5 601.16 641 600.9 641.5 600.84 642 601.01 642.5 601.15 643 601.2 643.5 601.24 644 601.27 644.5 601.34 645 601.44 645.5 601.45 646 601.34 646.5 601.17 647 601.22 647.5 601.36 648 601.16 648.5 600.89 649 601 649.5 601.18 650 601.01 650.5 600.8 651 600.73 651.5 600.76 652 600.97 652.5 601.09 653 601.07 653.5 600.97 654 600.69 654.5 600.58 655 600.72 655.5 600.92 656 600.89 656.5 600.61 657 600.41 657.5 600.44 658 600.57 658.5 600.42 659 600.16 659.5 600.28 660 600.25 660.5 599.96 661 600 661.5 600.25 662 600.27 662.5 599.91 663 599.56 663.5 599.49 664 599.5 664.5 599.48 665 599.29 665.5 599.18 666 599.16 666.5 599.12 667 599.3 667.5 599.48 668 599.31 668.5 599 669 598.9 669.5 598.87 670 598.72 670.5 598.46 671 598.15 671.5 598.07 672 598.18 672.5 598.12 673 597.99 673.5 598.03 674 598.1 674.5 597.98 675 597.74 675.5 597.71 676 597.79 676.5 597.72 677 597.58 677.5 597.51 678 597.5 678.5 597.47 679 597.26 679.5 596.91 680 596.74 680.5 596.77 681 596.77 681.5 596.79 682 596.77 682.5 596.69 683 596.69 683.5 596.46 684 596.16 684.5 596.15 685 596.19 685.5 596.21 686 596.07 686.5 595.71 687 595.55 687.5 595.52 688 595.45 688.5 595.53 689 595.62 689.5 595.71 690 595.57 690.5 595.28 691 595.32 691.5 595.24 692 594.99 692.5 595.06 693 595.18 693.5 594.93 694 594.6 694.5 594.57 695 594.48 695.5 594.43 696 594.7 696.5 594.67 697 594.37 697.5 594.32 698 594.27 698.5 594.18 699 594.19 699.5 594.26 700 594.18 700.5 593.97 701 593.98 701.5 593.95 702 593.74 702.5 593.73 703 593.97 703.5 593.97 704 593.71 704.5 593.77 705 593.94 705.5 593.82 706 593.64 706.5 593.5 707 593.4 707.5 593.48 708 593.64 708.5 593.69 709 593.63 709.5 593.63 710 593.79 710.5 593.8 711 593.68 711.5 593.7 712 593.67 712.5 593.45 713 593.28 713.5 593.24 714 593.26 714.5 593.22 715 593.12 715.5 593.18 716 593.28 716.5 593.27 717 593.3 717.5 593.4 718 593.36 718.5 593.1 719 592.96 719.5 593.01 720 592.96 720.5 592.74 721 592.58 721.5 592.56 722 592.58 722.5 592.63 723 592.6 723.5 592.57 724 592.65 724.5 592.61 725 592.35 725.5 592.08 726 591.96 726.5 592.01 727 591.89 727.5 591.68 728 591.72 728.5 591.71 729 591.52 729.5 591.39 730 591.33 730.5 591.14 731 590.74 731.5 590.42 732 590.27 732.5 590.13 733 590.04 733.5 590 734 589.99 734.5 589.84 735 589.61 735.5 589.47 736 589.26 736.5 589.08 737 588.98 737.5 588.87 738 588.81 738.5 588.74 739 588.7 739.5 588.6 740 588.37 740.5 588.24 741 588.22 741.5 588 742 587.7 742.5 587.51 743 587.38 743.5 587.29 744 587.18 744.5 587.05 745 586.9 745.5 586.74 746 586.48 746.5 586.2 747 585.98 747.5 585.65 748 585.24 748.5 585.04 749 584.88 749.5 584.6 750 584.25 750.5 583.91 751 583.54 751.5 583.12 752 582.73 752.5 582.37 753 582.1 753.5 581.83 754 581.45 754.5 581.03 755 580.68 755.5 580.38 756 579.95 756.5 579.46 757 579.08 757.5 578.85 758 578.55 758.5 578.16 759 577.81 759.5 577.43 760 576.98 760.5 576.55 761 576.24 761.5 575.99 762 575.6 762.5 575.12 763 574.79 763.5 574.54 764 574.19 764.5 573.78 765 573.39 765.5 573 766 572.61 766.5 572.29 767 571.94 767.5 571.45 768 571.05 768.5 570.76 769 570.43 769.5 570.04 770 569.56 770.5 569.12 771 568.74 771.5 568.3 772 567.89 772.5 567.54 773 567.14 773.5 566.67 774 566.17 774.5 565.66 775 565.13 775.5 564.56 776 564.01 776.5 563.53 777 563.1 777.5 562.58 778 561.91 778.5 561.29 779 560.81 779.5 560.28 780 559.62 780.5 559.03 781 558.42 781.5 557.72 782 557.03 782.5 556.38 783 555.77 783.5 555.15 784 554.39 784.5 553.58 785 552.87 785.5 552.22 786 551.48 786.5 550.64 787 549.8 787.5 548.97 788 548.12 788.5 547.27 789 546.42 789.5 545.55 790 544.65 790.5 543.76 791 542.83 791.5 541.94 792 541.08 792.5 540.12 793 539.12 793.5 538.1 794 537.11 794.5 536.15 795 535.11 795.5 534 796 532.89 796.5 531.83 797 530.75 797.5 529.61 798 528.46 798.5 527.36 799 526.3 799.5 525.23 800 524.06 800.5 522.89 801 521.77 801.5 520.66 802 519.54 802.5 518.44 803 517.32 803.5 516.26 804 515.23 804.5 514.17 805 513.15 805.5 512.11 806 511.02 806.5 510 807 509.07 807.5 508.18 808 507.26 808.5 506.32 809 505.42 809.5 504.58 810 503.79 810.5 503.01 811 502.24 811.5 501.49 812 500.82 812.5 500.2 813 499.61 813.5 499.01 814 498.45 814.5 497.96 815 497.48 815.5 496.98 816 496.55 816.5 496.18 817 495.82 817.5 495.45 818 495.09 818.5 494.8 819 494.57 819.5 494.32 820 494.07 820.5 493.81 821 493.58 821.5 493.4 822 493.19 822.5 493 823 492.84 823.5 492.66 824 492.53 824.5 492.39 825 492.21 825.5 492.06 826 491.89 826.5 491.75 827 491.59 827.5 491.37 828 491.15 828.5 490.94 829 490.7 829.5 490.42 830 490.09 830.5 489.74 831 489.35 831.5 488.92 832 488.5 832.5 488.04 833 487.49 833.5 486.88 834 486.25 834.5 485.59 835 484.81 835.5 483.9 836 482.89 836.5 481.82 837 480.67 837.5 479.43 838 478.14 838.5 476.8 839 475.47 839.5 474.11 840 472.74 840.5 471.41 841 470.15 841.5 468.97 842 467.86 842.5 466.79 843 465.7 843.5 464.65 844 463.66 844.5 462.65 845 461.56 845.5 460.45 846 459.3 846.5 458.07 847 456.79 847.5 455.47 848 454.11 848.5 452.69 849 451.23 849.5 449.73 850 448.12 850.5 446.47 851 444.85 851.5 443.18 852 441.42 852.5 439.66 853 437.87 853.5 436.03 854 434.17 854.5 432.31 855 430.47 855.5 428.64 856 426.81 856.5 424.96 857 423.13 857.5 421.33 858 419.56 858.5 417.84 859 416.17 859.5 414.53 860 412.9 860.5 411.37 861 410.01 861.5 408.74 862 407.53 862.5 406.4 863 405.39 863.5 404.45 864 403.55 864.5 402.67 865 401.83 865.5 401.01 866 400.18 866.5 399.41 867 398.7 867.5 397.97 868 397.25 868.5 396.59 869 395.92 869.5 395.22 870 394.57 870.5 393.93 871 393.34 871.5 392.85 872 392.4 872.5 392 873 391.7 873.5 391.52 874 391.38 874.5 391.26 875 391.23 875.5 391.31 876 391.52 876.5 391.89 877 392.42 877.5 393.16 878 394.13 878.5 395.35 879 396.86 879.5 398.67 880 400.75 880.5 403.04 881 405.58 881.5 408.36 882 411.35 882.5 414.47 883 417.77 883.5 421.26 884 424.85 884.5 428.52 885 432.27 885.5 436.14 886 440.15 886.5 444.28 887 448.53 887.5 452.88 888 457.32 888.5 461.84 889 466.41 889.5 471.05 890 475.74 890.5 480.46 891 485.16 891.5 489.88 892 494.62 892.5 499.32 893 503.87 893.5 508.35 894 512.78 894.5 517.06 895 521.18 895.5 525.17 896 529.08 896.5 532.91 897 536.59 897.5 540.21 898 543.72 898.5 547.08 899 550.33 899.5 553.48 900 556.5 900.5 559.45 901 562.31 901.5 565.05 902 567.66 902.5 570.14 903 572.56 903.5 574.92 904 577.2 904.5 579.37 905 581.44 905.5 583.42 906 585.37 906.5 587.24 907 588.99 907.5 590.7 908 592.37 908.5 593.97 909 595.47 909.5 596.92 910 598.36 910.5 599.72 911 601.01 911.5 602.27 912 603.49 912.5 604.59 913 605.64 913.5 606.69 914 607.69 914.5 608.9 915 610.03 915.5 611.05 916 612 916.5 612.9 917 613.75 917.5 614.52 918 615.21 918.5 615.83 919 616.42 919.5 616.99 920 617.52 920.5 618.06 921 618.54 921.5 618.96 922 619.41 922.5 619.88 923 620.32 923.5 620.73 924 621.15 924.5 621.53 925 621.88 925.5 622.2 926 622.54 926.5 622.87 927 623.19 927.5 623.54 928 623.9 928.5 624.18 929 624.47 929.5 624.81 930 625.13 930.5 625.39 931 625.66 931.5 625.98 932 626.29 932.5 626.55 933 626.8 933.5 627.08 934 627.32 934.5 627.54 935 627.79 935.5 627.99 936 628.19 936.5 628.42 937 628.67 937.5 628.88 938 629.07 938.5 629.27 939 629.43 939.5 629.59 940 629.79 940.5 630.02 941 630.2 941.5 630.36 942 630.54 942.5 630.71 943 630.86 943.5 631 944 631.15 944.5 631.3 945 631.47 945.5 631.6 946 631.72 946.5 631.89 947 632.09 947.5 632.24 948 632.34 948.5 632.44 949 632.57 949.5 632.72 950 632.87 950.5 633.03 951 633.17 951.5 633.26 952 633.35 952.5 633.45 953 633.58 953.5 633.72 954 633.84 954.5 633.95 955 634.05 955.5 634.16 956 634.29 956.5 634.38 957 634.46 957.5 634.58 958 634.69 958.5 634.79 959 634.91 959.5 635.05 960 635.16 960.5 635.27 961 635.39 961.5 635.54 962 635.68 962.5 635.76 963 635.86 963.5 635.97 964 636.06 964.5 636.18 965 636.33 965.5 636.46 966 636.56 966.5 636.66 967 636.77 967.5 636.91 968 637.01 968.5 637 969 637.01 969.5 637.02" stroke="#ff4040" stroke-width="1.35" fill="none"/>
<path d="M639 609.12 639.5 609.19 640 609.16 640.5 608.93 641 608.82 641.5 608.86 642 608.89 642.5 608.77 643 608.67 643.5 608.67 644 608.78 644.5 609.07 645 609.02 645.5 608.71 646 608.74 646.5 608.89 647 608.93 647.5 608.83 648 608.72 648.5 608.66 649 608.59 649.5 608.66 650 608.69 650.5 608.63 651 608.72 651.5 608.79 652 608.62 652.5 608.32 653 608.37 653.5 608.58 654 608.57 654.5 608.61 655 608.5 655.5 608.13 656 608.1 656.5 608.42 657 608.54 657.5 608.36 658 608.13 658.5 608.1 659 608.16 659.5 608.12 660 608.06 660.5 608.13 661 608.16 661.5 608.04 662 608.11 662.5 608.29 663 608.17 663.5 607.93 664 608 664.5 608.09 665 607.89 665.5 607.63 666 607.55 666.5 607.76 667 607.94 667.5 607.77 668 607.64 668.5 607.77 669 607.94 669.5 608.1 670 608.07 670.5 607.98 671 607.94 671.5 607.74 672 607.65 672.5 607.68 673 607.73 673.5 607.82 674 607.85 674.5 607.77 675 607.64 675.5 607.59 676 607.72 676.5 607.89 677 607.9 677.5 607.88 678 607.85 678.5 607.87 679 607.96 679.5 607.88 680 607.87 680.5 607.94 681 607.71 681.5 607.6 682 607.78 682.5 607.75 683 607.54 683.5 607.53 684 607.65 684.5 607.58 685 607.52 685.5 607.69 686 607.7 686.5 607.55 687 607.52 687.5 607.59 688 607.82 688.5 607.84 689 607.54 689.5 607.53 690 607.78 690.5 607.68 691 607.38 691.5 607.44 692 607.69 692.5 607.64 693 607.5 693.5 607.5 694 607.55 694.5 607.62 695 607.68 695.5 607.71 696 607.68 696.5 607.58 697 607.41 697.5 607.36 698 607.46 698.5 607.41 699 607.29 699.5 607.43 700 607.47 700.5 607.18 701 607.06 701.5 607.25 702 607.39 702.5 607.37 703 607.32 703.5 607.24 704 607.01 704.5 606.93 705 607.06 705.5 607.1 706 607.1 706.5 607.1 707 607.01 707.5 606.95 708 606.92 708.5 606.76 709 606.63 709.5 606.61 710 606.52 710.5 606.51 711 606.45 711.5 606.26 712 606.23 712.5 606.26 713 606.17 713.5 606.21 714 606.2 714.5 606.07 715 605.97 715.5 605.91 716 605.86 716.5 605.71 717 605.65 717.5 605.65 718 605.6 718.5 605.58 719 605.63 719.5 605.61 720 605.36 720.5 604.99 721 604.85 721.5 604.96 722 604.96 722.5 604.82 723 604.64 723.5 604.5 724 604.54 724.5 604.52 725 604.28 725.5 604.09 726 604.1 726.5 604.13 727 604.09 727.5 604 728 603.77 728.5 603.54 729 603.41 729.5 603.3 730 603.23 730.5 603.17 731 603.12 731.5 602.97 732 602.71 732.5 602.58 733 602.65 733.5 602.63 734 602.43 734.5 602.26 735 602.14 735.5 602.01 736 601.77 736.5 601.52 737 601.49 737.5 601.36 738 600.99 738.5 600.81 739 600.72 739.5 600.43 740 600.29 740.5 600.22 741 600.03 741.5 599.8 742 599.47 742.5 599.12 743 598.91 743.5 598.85 744 598.61 744.5 598.14 745 597.83 745.5 597.57 746 597.14 746.5 596.77 747 596.53 747.5 596.28 748 595.99 748.5 595.63 749 595.22 749.5 594.83 750 594.42 750.5 594.08 751 593.76 751.5 593.31 752 592.87 752.5 592.51 753 592.25 753.5 591.84 754 591.31 754.5 590.98 755 590.62 755.5 590.13 756 589.75 756.5 589.28 757 588.66 757.5 588.14 758 587.7 758.5 587.25 759 586.78 759.5 586.4 760 586.07 760.5 585.68 761 585.26 761.5 584.83 762 584.37 762.5 583.86 763 583.39 763.5 582.99 764 582.57 764.5 582.05 765 581.53 765.5 581.1 766 580.69 766.5 580.32 767 579.83 767.5 579.2 768 578.75 768.5 578.41 769 577.91 769.5 577.35 770 576.86 770.5 576.42 771 575.98 771.5 575.48 772 575.02 772.5 574.54 773 574.01 773.5 573.46 774 572.87 774.5 572.36 775 571.81 775.5 571.2 776 570.71 776.5 570.28 777 569.75 777.5 569.14 778 568.5 778.5 567.89 779 567.28 779.5 566.59 780 565.87 780.5 565.18 781 564.53 781.5 563.9 782 563.21 782.5 562.48 783 561.79 783.5 561.11 784 560.4 784.5 559.64 785 558.86 785.5 558.05 786 557.2 786.5 556.37 787 555.59 787.5 554.8 788 553.97 788.5 553.08 789 552.16 789.5 551.22 790 550.26 790.5 549.35 791 548.41 791.5 547.5 792 546.55 792.5 545.52 793 544.56 793.5 543.6 794 542.57 794.5 541.54 795 540.5 795.5 539.46 796 538.45 796.5 537.4 797 536.33 797.5 535.26 798 534.23 798.5 533.18 799 532.09 799.5 531.05 800 530 800.5 528.9 801 527.79 801.5 526.73 802 525.69 802.5 524.63 803 523.54 803.5 522.45 804 521.38 804.5 520.36 805 519.37 805.5 518.39 806 517.38 806.5 516.36 807 515.36 807.5 514.42 808 513.5 808.5 512.58 809 511.7 809.5 510.89 810 510.05 810.5 509.17 811 508.36 811.5 507.63 812 506.95 812.5 506.28 813 505.6 813.5 504.96 814 504.37 814.5 503.82 815 503.26 815.5 502.74 816 502.26 816.5 501.82 817 501.43 817.5 501.04 818 500.68 818.5 500.35 819 500.05 819.5 499.81 820 499.56 820.5 499.28 821 499.02 821.5 498.82 822 498.66 822.5 498.47 823 498.27 823.5 498.1 824 497.94 824.5 497.77 825 497.61 825.5 497.48 826 497.33 826.5 497.16 827 497.02 827.5 496.85 828 496.65 828.5 496.42 829 496.17 829.5 495.89 830 495.58 830.5 495.29 831 494.96 831.5 494.57 832 494.12 832.5 493.67 833 493.19 833.5 492.62 834 492.01 834.5 491.36 835 490.68 835.5 489.97 836 489.16 836.5 488.28 837 487.4 837.5 486.51 838 485.56 838.5 484.55 839 483.56 839.5 482.55 840 481.47 840.5 480.43 841 479.38 841.5 478.27 842 477.19 842.5 476.13 843 475.06 843.5 474 844 472.88 844.5 471.72 845 470.57 845.5 469.36 846 468.13 846.5 466.88 847 465.57 847.5 464.24 848 462.85 848.5 461.4 849 459.91 849.5 458.37 850 456.82 850.5 455.25 851 453.65 851.5 452.02 852 450.34 852.5 448.65 853 446.95 853.5 445.19 854 443.4 854.5 441.6 855 439.8 855.5 437.98 856 436.14 856.5 434.31 857 432.46 857.5 430.62 858 428.83 858.5 427.06 859 425.3 859.5 423.55 860 421.82 860.5 420.15 861 418.51 861.5 416.9 862 415.33 862.5 413.82 863 412.35 863.5 410.93 864 409.59 864.5 408.28 865 406.97 865.5 405.72 866 404.57 866.5 403.49 867 402.46 867.5 401.48 868 400.53 868.5 399.59 869 398.76 869.5 398.04 870 397.37 870.5 396.73 871 396.14 871.5 395.66 872 395.29 872.5 394.97 873 394.73 873.5 394.55 874 394.43 874.5 394.41 875 394.51 875.5 394.74 876 395.07 876.5 395.56 877 396.2 877.5 396.97 878 397.98 878.5 399.24 879 400.73 879.5 402.43 880 404.43 880.5 406.66 881 409.09 881.5 411.76 882 414.62 882.5 417.7 883 421.03 883.5 424.53 884 428.14 884.5 431.86 885 435.73 885.5 439.74 886 443.85 886.5 448.03 887 452.33 887.5 456.75 888 461.26 888.5 465.81 889 470.34 889.5 474.86 890 479.41 890.5 484.01 891 488.65 891.5 493.3 892 497.98 892.5 502.66 893 507.25 893.5 511.74 894 516.13 894.5 520.4 895 524.54 895.5 528.63 896 532.6 896.5 536.41 897 540.15 897.5 543.79 898 547.3 898.5 550.74 899 554.06 899.5 557.2 900 560.18 900.5 562.99 901 565.7 901.5 568.32 902 570.81 902.5 573.18 903 575.48 903.5 577.7 904 579.84 904.5 581.92 905 583.91 905.5 585.81 906 587.6 906.5 589.35 907 591.07 907.5 592.7 908 594.3 908.5 595.87 909 597.38 909.5 598.82 910 600.22 910.5 601.56 911 602.87 911.5 604.13 912 605.33 912.5 606.49 913 607.64 913.5 608.76 914 609.82 914.5 610.83 915 611.8 915.5 612.72 916 613.61 916.5 614.45 917 615.23 917.5 615.99 918 616.75 918.5 617.46 919 618.12 919.5 618.74 920 619.31 920.5 619.87 921 620.37 921.5 620.79 922 621.23 922.5 621.63 923 621.98 923.5 622.34 924 622.71 924.5 623.03 925 623.35 925.5 623.64 926 623.85 926.5 624.05 927 624.29 927.5 624.56 928 624.78 928.5 624.97 929 625.2 929.5 625.41 930 625.59 930.5 625.82 931 626.11 931.5 626.34 932 626.51 932.5 626.71 933 626.93 933.5 627.16 934 627.42 934.5 627.68 935 627.92 935.5 628.17 936 628.42 936.5 628.66 937 628.89 937.5 629.13 938 629.42 938.5 629.71 939 629.97 939.5 630.21 940 630.46 940.5 630.7 941 630.93 941.5 631.17 942 631.42 942.5 631.69 943 631.95 943.5 632.18 944 632.44 944.5 632.74 945 632.99 945.5 633.19 946 633.43 946.5 633.68 947 633.88 947.5 634.07 948 634.27 948.5 634.5 949 634.71 949.5 634.89 950 635.06 950.5 635.24 951 635.44 951.5 635.61 952 635.75 952.5 635.9 953 636.07 953.5 636.25 954 636.38 954.5 636.5 955 636.64 955.5 636.78 956 636.9 956.5 636.99 957 637.08 957.5 637.18 958 637.28 958.5 637.37 959 637.42 959.5 637.46 960 637.52 960.5 637.55 961 637.58 961.5 637.63 962 637.71 962.5 637.73 963 637.68 963.5 637.69 964 637.75 964.5 637.76 965 637.73 965.5 637.7 966 637.64 966.5 637.6 967 637.58 967.5 637.53 968 637.46 968.5 637.4 969 637.4 969.5 637.49" stroke="#3af03a" stroke-width="1.35" fill="none"/>
<path d="M639 605.04 639.5 604.82 640 604.91 640.5 605 641 604.78 641.5 604.52 642 604.52 642.5 604.59 643 604.36 643.5 604.27 644 604.56 644.5 604.55 645 604.22 645.5 604.26 646 604.43 646.5 604.39 647 604.23 647.5 604.15 648 604.26 648.5 604.22 649 603.94 649.5 603.7 650 603.75 650.5 603.85 651 603.76 651.5 603.7 652 603.72 652.5 603.71 653 603.69 653.5 603.71 654 603.69 654.5 603.65 655 603.58 655.5 603.29 656 603.04 656.5 603 657 603.1 657.5 603.17 658 603.07 658.5 603.1 659 603.24 659.5 603.16 660 603.05 660.5 603.06 661 603.03 661.5 602.96 662 602.94 662.5 602.95 663 602.74 663.5 602.54 664 602.51 664.5 602.56 665 602.65 665.5 602.52 666 602.58 666.5 602.9 667 602.89 667.5 602.7 668 602.58 668.5 602.44 669 602.51 669.5 602.63 670 602.51 670.5 602.28 671 602.07 671.5 601.99 672 601.96 672.5 601.98 673 602.13 673.5 602.15 674 601.96 674.5 601.92 675 602.01 675.5 602.04 676 601.88 676.5 601.83 677 602.12 677.5 602.28 678 602.16 678.5 601.98 679 601.91 679.5 601.91 680 601.82 680.5 601.66 681 601.5 681.5 601.42 682 601.45 682.5 601.54 683 601.66 683.5 601.7 684 601.59 684.5 601.4 685 601.44 685.5 601.66 686 601.58 686.5 601.6 687 601.72 687.5 601.52 688 601.36 688.5 601.42 689 601.54 689.5 601.47 690 601.23 690.5 601.29 691 601.5 691.5 601.49 692 601.26 692.5 601.02 693 601.07 693.5 601.16 694 601.12 694.5 601.17 695 601.15 695.5 600.9 696 600.78 696.5 600.82 697 600.77 697.5 600.89 698 601.09 698.5 600.96 699 600.87 699.5 600.91 700 600.87 700.5 600.92 701 600.95 701.5 600.82 702 600.64 702.5 600.63 703 600.69 703.5 600.55 704 600.55 704.5 600.62 705 600.56 705.5 600.65 706 600.89 706.5 600.9 707 600.71 707.5 600.49 708 600.43 708.5 600.62 709 600.66 709.5 600.59 710 600.57 710.5 600.56 711 600.5 711.5 600.34 712 600.16 712.5 600.18 713 600.19 713.5 600.04 714 599.96 714.5 599.95 715 600.06 715.5 600.06 716 599.94 716.5 599.98 717 599.99 717.5 599.83 718 599.69 718.5 599.63 719 599.52 719.5 599.35 720 599.33 720.5 599.49 721 599.59 721.5 599.49 722 599.29 722.5 599.25 723 599.36 723.5 599.36 724 599.34 724.5 599.29 725 599.18 725.5 599.1 726 598.9 726.5 598.72 727 598.7 727.5 598.6 728 598.54 728.5 598.53 729 598.51 729.5 598.44 730 598.16 730.5 598.05 731 598.21 731.5 598.18 732 597.97 732.5 597.76 733 597.6 733.5 597.49 734 597.46 734.5 597.42 735 597.23 735.5 597.13 736 597.12 736.5 597.04 737 597.03 737.5 596.95 738 596.68 738.5 596.48 739 596.5 739.5 596.37 740 596.14 740.5 595.97 741 595.68 741.5 595.46 742 595.4 742.5 595.2 743 594.92 743.5 594.63 744 594.38 744.5 594.28 745 594.04 745.5 593.66 746 593.36 746.5 592.95 747 592.48 747.5 592.16 748 591.86 748.5 591.55 749 591.34 749.5 591.14 750 590.71 750.5 590.29 751 590.01 751.5 589.56 752 589.14 752.5 588.85 753 588.48 753.5 588.07 754 587.7 754.5 587.37 755 587 755.5 586.52 756 586.02 756.5 585.53 757 585.13 757.5 584.77 758 584.43 758.5 584.04 759 583.54 759.5 583.12 760 582.76 760.5 582.27 761 581.84 761.5 581.52 762 581.06 762.5 580.6 763 580.25 763.5 579.81 764 579.36 764.5 578.98 765 578.61 765.5 578.22 766 577.76 766.5 577.23 767 576.77 767.5 576.45 768 576.1 768.5 575.59 769 575.01 769.5 574.52 770 574.18 770.5 573.83 771 573.31 771.5 572.69 772 572.23 772.5 571.91 773 571.5 773.5 571 774 570.49 774.5 569.95 775 569.39 775.5 568.74 776 568.15 776.5 567.69 777 567.2 777.5 566.62 778 566 778.5 565.37 779 564.79 779.5 564.25 780 563.71 780.5 563.08 781 562.33 781.5 561.67 782 561.01 782.5 560.25 783 559.51 783.5 558.78 784 558.08 784.5 557.41 785 556.65 785.5 555.91 786 555.2 786.5 554.4 787 553.54 787.5 552.65 788 551.74 788.5 550.9 789 550.07 789.5 549.18 790 548.31 790.5 547.42 791 546.46 791.5 545.45 792 544.47 792.5 543.56 793 542.63 793.5 541.63 794 540.6 794.5 539.62 795 538.59 795.5 537.52 796 536.54 796.5 535.52 797 534.37 797.5 533.23 798 532.14 798.5 531.08 799 530.04 799.5 528.92 800 527.83 800.5 526.77 801 525.66 801.5 524.58 802 523.58 802.5 522.53 803 521.43 803.5 520.37 804 519.34 804.5 518.28 805 517.28 805.5 516.33 806 515.36 806.5 514.41 807 513.43 807.5 512.48 808 511.6 808.5 510.75 809 509.88 809.5 509.03 810 508.24 810.5 507.47 811 506.7 811.5 505.97 812 505.27 812.5 504.61 813 504.03 813.5 503.47 814 502.91 814.5 502.37 815 501.86 815.5 501.4 816 500.93 816.5 500.51 817 500.18 817.5 499.89 818 499.59 818.5 499.26 819 498.95 819.5 498.71 820 498.53 820.5 498.32 821 498.08 821.5 497.91 822 497.76 822.5 497.58 823 497.44 823.5 497.31 824 497.15 824.5 497.01 825 496.87 825.5 496.73 826 496.59 826.5 496.45 827 496.3 827.5 496.11 828 495.9 828.5 495.71 829 495.48 829.5 495.22 830 494.98 830.5 494.71 831 494.36 831.5 493.95 832 493.5 832.5 493.06 833 492.59 833.5 492.04 834 491.44 834.5 490.8 835 490.11 835.5 489.37 836 488.63 836.5 487.84 837 486.98 837.5 486.06 838 485.08 838.5 484.07 839 483.08 839.5 482.08 840 481.06 840.5 480.01 841 478.95 841.5 477.86 842 476.78 842.5 475.73 843 474.67 843.5 473.6 844 472.49 844.5 471.33 845 470.17 845.5 469.02 846 467.83 846.5 466.59 847 465.32 847.5 464.01 848 462.64 848.5 461.21 849 459.77 849.5 458.31 850 456.84 850.5 455.36 851 453.85 851.5 452.28 852 450.64 852.5 448.99 853 447.35 853.5 445.68 854 443.99 854.5 442.3 855 440.58 855.5 438.82 856 437.06 856.5 435.3 857 433.5 857.5 431.69 858 429.94 858.5 428.23 859 426.47 859.5 424.72 860 423.03 860.5 421.4 861 419.77 861.5 418.14 862 416.55 862.5 415.03 863 413.53 863.5 412.09 864 410.72 864.5 409.36 865 408.02 865.5 406.78 866 405.6 866.5 404.43 867 403.36 867.5 402.4 868 401.45 868.5 400.51 869 399.65 869.5 398.89 870 398.23 870.5 397.65 871 397.09 871.5 396.57 872 396.19 872.5 395.89 873 395.66 873.5 395.53 874 395.48 874.5 395.52 875 395.62 875.5 395.82 876 396.21 876.5 396.74 877 397.4 877.5 398.22 878 399.22 878.5 400.46 879 401.92 879.5 403.63 880 405.6 880.5 407.83 881 410.27 881.5 412.89 882 415.71 882.5 418.76 883 422.06 883.5 425.54 884 429.14 884.5 432.89 885 436.82 885.5 440.87 886 445.01 886.5 449.28 887 453.65 887.5 458.05 888 462.54 888.5 467.05 889 471.53 889.5 476.03 890 480.54 890.5 485.04 891 489.59 891.5 494.15 892 498.64 892.5 503.07 893 507.47 893.5 511.79 894 516.04 894.5 520.13 895 524.09 895.5 528.01 896 531.82 896.5 535.48 897 539.08 897.5 542.62 898 546.03 898.5 549.32 899 552.55 899.5 555.72 900 558.72 900.5 561.58 901 564.36 901.5 567.02 902 569.56 902.5 572.01 903 574.34 903.5 576.56 904 578.74 904.5 580.87 905 582.89 905.5 584.84 906 586.69 906.5 588.48 907 590.23 907.5 591.91 908 593.54 908.5 595.13 909 596.61 909.5 598.04 910 599.44 910.5 600.79 911 602.1 911.5 603.38 912 604.6 912.5 605.71 913 606.81 913.5 607.91 914 609 914.5 610.01 915 610.91 915.5 611.8 916 612.69 916.5 613.53 917 614.3 917.5 615.05 918 615.75 918.5 616.39 919 617.02 919.5 617.64 920 618.17 920.5 618.68 921 619.22 921.5 619.72 922 620.14 922.5 620.52 923 620.9 923.5 621.26 924 621.63 924.5 621.98 925 622.27 925.5 622.51 926 622.77 926.5 623.06 927 623.33 927.5 623.56 928 623.77 928.5 623.97 929 624.18 929.5 624.4 930 624.6 930.5 624.79 931 624.99 931.5 625.21 932 625.43 932.5 625.65 933 625.86 933.5 626.08 934 626.27 934.5 626.46 935 626.69 935.5 626.93 936 627.18 936.5 627.43 937 627.68 937.5 627.94 938 628.2 938.5 628.43 939 628.68 939.5 628.96 940 629.2 940.5 629.43 941 629.68 941.5 629.94 942 630.19 942.5 630.44 943 630.71 943.5 630.93 944 631.13 944.5 631.37 945 631.63 945.5 631.86 946 632.08 946.5 632.31 947 632.52 947.5 632.72 948 632.92 948.5 633.14 949 633.33 949.5 633.47 950 633.6 950.5 633.78 951 633.99 951.5 634.14 952 634.24 952.5 634.36 953 634.51 953.5 634.68 954 634.8 954.5 634.92 955 635.04 955.5 635.17 956 635.34 956.5 635.48 957 635.57 957.5 635.63 958 635.69 958.5 635.79 959 635.87 959.5 635.94 960 636.02 960.5 636.09 961 636.2 961.5 636.27 962 636.29 962.5 636.36 963 636.43 963.5 636.45 964 636.5 964.5 636.58 965 636.61 965.5 636.62 966 636.66 966.5 636.71 967 636.75 967.5 636.78 968 636.81 968.5 636.9 969 637.06 969.5 637.38" stroke="#4040ff" stroke-width="1.35" fill="none"/>
<path d="M639 595.78 639.5 595.62 640 595.76 640.5 595.83 641 595.65 641.5 595.39 642 595.19 642.5 595.33 643 595.55 643.5 595.5 644 595.17 644.5 594.93 645 595.07 645.5 594.99 646 594.67 646.5 594.5 647 594.25 647.5 594.11 648 594.12 648.5 594.17 649 594.37 649.5 594.36 650 594.06 650.5 593.8 651 593.62 651.5 593.64 652 593.86 652.5 593.76 653 593.5 653.5 593.5 654 593.62 654.5 593.73 655 593.69 655.5 593.54 656 593.53 656.5 593.67 657 593.58 657.5 593.19 658 593.07 658.5 593.09 659 592.89 659.5 592.74 660 592.69 660.5 592.63 661 592.58 661.5 592.72 662 593.01 662.5 593.13 663 593.01 663.5 592.84 664 592.71 664.5 592.52 665 592.39 665.5 592.52 666 592.54 666.5 592.23 667 592.2 667.5 592.42 668 592.45 668.5 592.51 669 592.65 669.5 592.6 670 592.35 670.5 592.29 671 592.47 671.5 592.51 672 592.46 672.5 592.45 673 592.47 673.5 592.41 674 592.26 674.5 592.34 675 592.38 675.5 592.18 676 592.08 676.5 592.04 677 591.91 677.5 591.72 678 591.76 678.5 592.03 679 592.09 679.5 592.12 680 592.13 680.5 591.97 681 591.8 681.5 591.84 682 592.1 682.5 592.24 683 592.23 683.5 592.21 684 592.13 684.5 591.96 685 591.86 685.5 591.9 686 591.85 686.5 591.76 687 591.78 687.5 591.88 688 591.96 688.5 591.87 689 591.7 689.5 591.73 690 591.87 690.5 591.78 691 591.63 691.5 591.54 692 591.5 692.5 591.5 693 591.65 693.5 591.94 694 592.06 694.5 591.86 695 591.7 695.5 591.78 696 591.89 696.5 591.9 697 591.89 697.5 591.87 698 591.69 698.5 591.56 699 591.72 699.5 591.9 700 591.84 700.5 591.68 701 591.65 701.5 591.66 702 591.61 702.5 591.69 703 591.88 703.5 591.92 704 591.7 704.5 591.45 705 591.42 705.5 591.53 706 591.58 706.5 591.56 707 591.53 707.5 591.38 708 591.41 708.5 591.57 709 591.58 709.5 591.54 710 591.36 710.5 591.23 711 591.3 711.5 591.29 712 591.15 712.5 590.97 713 591.03 713.5 591.33 714 591.47 714.5 591.32 715 590.99 715.5 590.81 716 590.95 716.5 591.07 717 590.92 717.5 590.67 718 590.68 718.5 590.74 719 590.69 719.5 590.85 720 590.88 720.5 590.54 721 590.46 721.5 590.68 722 590.67 722.5 590.47 723 590.45 723.5 590.46 724 590.23 724.5 590.06 725 590.1 725.5 590.1 726 590.16 726.5 590.16 727 589.91 727.5 589.67 728 589.65 728.5 589.69 729 589.64 729.5 589.7 730 589.72 730.5 589.66 731 589.47 731.5 589.16 732 589.1 732.5 589.16 733 589.06 733.5 588.92 734 588.73 734.5 588.63 735 588.61 735.5 588.52 736 588.53 736.5 588.46 737 588.18 737.5 587.93 738 587.79 738.5 587.7 739 587.62 739.5 587.62 740 587.58 740.5 587.43 741 587.29 741.5 587.19 742 587.07 742.5 586.88 743 586.67 743.5 586.35 744 586.02 744.5 585.89 745 585.77 745.5 585.53 746 585.37 746.5 585.17 747 584.75 747.5 584.37 748 584.12 748.5 583.88 749 583.58 749.5 583.14 750 582.74 750.5 582.47 751 582.11 751.5 581.7 752 581.38 752.5 581.09 753 580.64 753.5 580.17 754 579.83 754.5 579.49 755 579.05 755.5 578.58 756 578.29 756.5 578.09 757 577.76 757.5 577.35 758 576.87 758.5 576.43 759 576.04 759.5 575.58 760 575.18 760.5 574.81 761 574.37 761.5 573.93 762 573.59 762.5 573.25 763 572.83 763.5 572.43 764 572.06 764.5 571.73 765 571.44 765.5 570.99 766 570.54 766.5 570.24 767 569.91 767.5 569.53 768 569.09 768.5 568.68 769 568.31 769.5 567.83 770 567.4 770.5 567.08 771 566.69 771.5 566.17 772 565.73 772.5 565.38 773 564.92 773.5 564.44 774 564.03 774.5 563.58 775 563.07 775.5 562.54 776 562.08 776.5 561.68 777 561.16 777.5 560.49 778 559.92 778.5 559.47 779 558.97 779.5 558.37 780 557.68 780.5 557 781 556.39 781.5 555.82 782 555.27 782.5 554.61 783 553.83 783.5 553.14 784 552.55 784.5 551.84 785 551.03 785.5 550.24 786 549.53 786.5 548.83 787 548.04 787.5 547.24 788 546.45 788.5 545.6 789 544.75 789.5 543.85 790 542.99 790.5 542.19 791 541.32 791.5 540.35 792 539.4 792.5 538.44 793 537.41 793.5 536.44 794 535.53 794.5 534.49 795 533.32 795.5 532.24 796 531.24 796.5 530.17 797 529.08 797.5 527.96 798 526.82 798.5 525.7 799 524.53 799.5 523.34 800 522.24 800.5 521.16 801 520.02 801.5 518.86 802 517.72 802.5 516.58 803 515.42 803.5 514.3 804 513.24 804.5 512.15 805 511.03 805.5 509.93 806 508.9 806.5 507.88 807 506.88 807.5 505.94 808 505 808.5 504.06 809 503.16 809.5 502.26 810 501.42 810.5 500.64 811 499.84 811.5 499.08 812 498.37 812.5 497.69 813 497.04 813.5 496.4 814 495.81 814.5 495.3 815 494.8 815.5 494.29 816 493.84 816.5 493.43 817 493.03 817.5 492.66 818 492.28 818.5 491.95 819 491.68 819.5 491.41 820 491.13 820.5 490.85 821 490.59 821.5 490.39 822 490.17 822.5 489.96 823 489.77 823.5 489.6 824 489.47 824.5 489.32 825 489.13 825.5 488.99 826 488.88 826.5 488.76 827 488.63 827.5 488.51 828 488.39 828.5 488.25 829 488.11 829.5 487.94 830 487.74 830.5 487.52 831 487.28 831.5 487.01 832 486.68 832.5 486.35 833 485.97 833.5 485.5 834 485.03 834.5 484.52 835 483.91 835.5 483.2 836 482.48 836.5 481.7 837 480.83 837.5 479.89 838 478.87 838.5 477.8 839 476.75 839.5 475.69 840 474.57 840.5 473.43 841 472.3 841.5 471.2 842 470.15 842.5 469.1 843 468.04 843.5 466.97 844 465.92 844.5 464.84 845 463.76 845.5 462.64 846 461.48 846.5 460.25 847 458.98 847.5 457.7 848 456.32 848.5 454.86 849 453.39 849.5 451.86 850 450.3 850.5 448.72 851 447.06 851.5 445.34 852 443.62 852.5 441.9 853 440.15 853.5 438.38 854 436.56 854.5 434.73 855 432.87 855.5 431.01 856 429.17 856.5 427.35 857 425.56 857.5 423.81 858 422.05 858.5 420.29 859 418.59 859.5 416.94 860 415.32 860.5 413.74 861 412.19 861.5 410.69 862 409.24 862.5 407.83 863 406.5 863.5 405.25 864 404.02 864.5 402.82 865 401.71 865.5 400.64 866 399.6 866.5 398.6 867 397.64 867.5 396.72 868 395.88 868.5 395.06 869 394.27 869.5 393.57 870 392.91 870.5 392.27 871 391.69 871.5 391.18 872 390.74 872.5 390.32 873 389.93 873.5 389.61 874 389.41 874.5 389.27 875 389.2 875.5 389.24 876 389.4 876.5 389.67 877 390.16 877.5 390.87 878 391.78 878.5 392.99 879 394.54 879.5 396.39 880 398.49 880.5 400.85 881 403.47 881.5 406.27 882 409.25 882.5 412.44 883 415.81 883.5 419.28 884 422.8 884.5 426.43 885 430.18 885.5 433.98 886 437.84 886.5 441.87 887 446.11 887.5 450.44 888 454.86 888.5 459.4 889 464.02 889.5 468.71 890 473.43 890.5 478.23 891 483.12 891.5 487.98 892 492.75 892.5 497.47 893 502.16 893.5 506.73 894 511.15 894.5 515.47 895 519.71 895.5 523.83 896 527.79 896.5 531.64 897 535.38 897.5 539 898 542.51 898.5 545.9 899 549.15 899.5 552.31 900 555.38 900.5 558.37 901 561.24 901.5 564.01 902 566.65 902.5 569.2 903 571.69 903.5 574.06 904 576.37 904.5 578.57 905 580.66 905.5 582.69 906 584.67 906.5 586.56 907 588.37 907.5 590.1 908 591.8 908.5 593.43 909 594.94 909.5 596.38 910 597.77 910.5 599.1 911 600.41 911.5 601.69 912 602.86 912.5 603.94 913 605.01 913.5 606.05 914 607.02 914.5 607.93 915 608.82 915.5 609.7 916 610.5 916.5 611.29 917 612.06 917.5 612.77 918 613.43 918.5 614.09 919 614.71 919.5 615.27 920 615.81 920.5 616.31 921 616.8 921.5 617.29 922 617.71 922.5 618.09 923 618.48 923.5 618.85 924 619.22 924.5 619.56 925 619.86 925.5 620.14 926 620.41 926.5 620.69 927 620.98 927.5 621.21 928 621.4 928.5 621.61 929 621.84 929.5 622.06 930 622.27 930.5 622.45 931 622.63 931.5 622.8 932 623 932.5 623.18 933 623.33 933.5 623.51 934 623.71 934.5 623.88 935 624.06 935.5 624.29 936 624.49 936.5 624.67 937 624.88 937.5 625.12 938 625.37 938.5 625.61 939 625.81 939.5 626.04 940 626.32 940.5 626.57 941 626.81 941.5 627.05 942 627.3 942.5 627.52 943 627.69 943.5 627.9 944 628.15 944.5 628.41 945 628.65 945.5 628.86 946 629.07 946.5 629.25 947 629.44 947.5 629.61 948 629.77 948.5 629.94 949 630.1 949.5 630.2 950 630.32 950.5 630.46 951 630.58 951.5 630.7 952 630.86 952.5 630.98 953 631.07 953.5 631.18 954 631.31 954.5 631.46 955 631.58 955.5 631.68 956 631.79 956.5 631.88 957 631.97 957.5 632.07 958 632.19 958.5 632.34 959 632.45 959.5 632.54 960 632.67 960.5 632.78 961 632.9 961.5 633.08 962 633.24 962.5 633.36 963 633.48 963.5 633.63 964 633.79 964.5 633.95 965 634.16 965.5 634.4 966 634.61 966.5 634.82 967 635.01 967.5 635.19 968 635.41 968.5 635.76 969 636.32 969.5 637.21" stroke="#30ffff" stroke-width="1.35" fill="none"/>
<path d="M639 603.53 639.5 603.57 640 603.49 640.5 603.33 641 603.31 641.5 603.58 642 603.53 642.5 603.28 643 603.27 643.5 603.08 644 602.98 644.5 603.22 645 603.4 645.5 603.18 646 602.82 646.5 602.83 647 602.92 647.5 602.92 648 602.85 648.5 602.73 649 602.65 649.5 602.42 650 602.25 650.5 602.28 651 602.42 651.5 602.57 652 602.61 652.5 602.56 653 602.46 653.5 602.51 654 602.47 654.5 602.24 655 602.28 655.5 602.48 656 602.52 656.5 602.51 657 602.48 657.5 602.33 658 602.12 658.5 601.99 659 602.09 659.5 602.14 660 602.05 660.5 602.07 661 601.97 661.5 601.82 662 601.79 662.5 601.75 663 601.63 663.5 601.43 664 601.48 664.5 601.76 665 601.7 665.5 601.41 666 601.35 666.5 601.31 667 601.3 667.5 601.44 668 601.39 668.5 601.28 669 601.48 669.5 601.53 670 601.26 670.5 601.24 671 601.4 671.5 601.4 672 601.33 672.5 601.4 673 601.51 673.5 601.44 674 601.31 674.5 601.21 675 601.27 675.5 601.29 676 601.21 676.5 601.17 677 601.02 677.5 600.9 678 600.89 678.5 601.03 679 601.21 679.5 601.31 680 601.26 680.5 601.07 681 601.09 681.5 601.18 682 600.99 682.5 600.74 683 600.64 683.5 600.76 684 600.93 684.5 600.93 685 601.01 685.5 601.04 686 600.74 686.5 600.55 687 600.81 687.5 600.79 688 600.48 688.5 600.48 689 600.53 689.5 600.55 690 600.58 690.5 600.48 691 600.26 691.5 600.22 692 600.51 692.5 600.54 693 600.2 693.5 600.05 694 600.12 694.5 600.25 695 600.29 695.5 600.11 696 600.08 696.5 600.17 697 600.09 697.5 600.05 698 600.03 698.5 599.83 699 599.72 699.5 599.89 700 599.95 700.5 599.74 701 599.7 701.5 599.82 702 599.72 702.5 599.65 703 599.66 703.5 599.71 704 599.63 704.5 599.41 705 599.36 705.5 599.35 706 599.2 706.5 599.06 707 599.11 707.5 599.21 708 599.13 708.5 599.21 709 599.47 709.5 599.53 710 599.33 710.5 599.02 711 598.87 711.5 598.88 712 598.93 712.5 598.92 713 598.9 713.5 598.94 714 598.92 714.5 598.76 715 598.63 715.5 598.69 716 598.65 716.5 598.45 717 598.48 717.5 598.56 718 598.37 718.5 598.24 719 598.29 719.5 598.17 720 597.99 720.5 598.07 721 598.22 721.5 598.22 722 597.98 722.5 597.68 723 597.59 723.5 597.65 724 597.6 724.5 597.43 725 597.36 725.5 597.43 726 597.59 726.5 597.59 727 597.39 727.5 597.14 728 597.04 728.5 597.17 729 597.21 729.5 596.97 730 596.72 730.5 596.63 731 596.59 731.5 596.61 732 596.62 732.5 596.52 733 596.35 733.5 596.26 734 596.17 734.5 595.99 735 595.97 735.5 595.96 736 595.78 736.5 595.62 737 595.61 737.5 595.67 738 595.6 738.5 595.37 739 595.22 739.5 595 740 594.58 740.5 594.35 741 594.35 741.5 594.16 742 593.85 742.5 593.69 743 593.5 743.5 593.21 744 592.92 744.5 592.72 745 592.52 745.5 592.27 746 592.13 746.5 591.95 747 591.57 747.5 591.14 748 590.83 748.5 590.54 749 590.22 749.5 589.94 750 589.62 750.5 589.18 751 588.83 751.5 588.62 752 588.23 752.5 587.75 753 587.37 753.5 587 754 586.63 754.5 586.3 755 585.93 755.5 585.52 756 585.17 756.5 584.71 757 584.23 757.5 583.85 758 583.48 758.5 583.15 759 582.74 759.5 582.25 760 581.81 760.5 581.44 761 581.09 761.5 580.68 762 580.37 762.5 580.06 763 579.57 763.5 579.13 764 578.83 764.5 578.46 765 577.97 765.5 577.47 766 577.07 766.5 576.7 767 576.26 767.5 575.79 768 575.34 768.5 574.96 769 574.58 769.5 574.1 770 573.64 770.5 573.19 771 572.68 771.5 572.21 772 571.82 772.5 571.42 773 570.94 773.5 570.46 774 569.96 774.5 569.48 775 568.95 775.5 568.36 776 567.85 776.5 567.37 777 566.82 777.5 566.2 778 565.6 778.5 565.11 779 564.52 779.5 563.8 780 563.2 780.5 562.63 781 561.94 781.5 561.26 782 560.59 782.5 559.89 783 559.19 783.5 558.39 784 557.63 784.5 556.93 785 556.2 785.5 555.43 786 554.65 786.5 553.89 787 553.12 787.5 552.28 788 551.37 788.5 550.48 789 549.63 789.5 548.74 790 547.83 790.5 546.91 791 546.05 791.5 545.18 792 544.25 792.5 543.27 793 542.23 793.5 541.22 794 540.24 794.5 539.18 795 538.1 795.5 537.03 796 535.99 796.5 534.96 797 533.9 797.5 532.84 798 531.81 798.5 530.7 799 529.54 799.5 528.45 800 527.39 800.5 526.33 801 525.26 801.5 524.12 802 522.99 802.5 521.91 803 520.82 803.5 519.73 804 518.71 804.5 517.67 805 516.59 805.5 515.58 806 514.6 806.5 513.57 807 512.58 807.5 511.63 808 510.69 808.5 509.77 809 508.89 809.5 508.06 810 507.22 810.5 506.41 811 505.61 811.5 504.83 812 504.14 812.5 503.49 813 502.82 813.5 502.19 814 501.65 814.5 501.1 815 500.58 815.5 500.11 816 499.65 816.5 499.2 817 498.76 817.5 498.36 818 498.04 818.5 497.73 819 497.42 819.5 497.13 820 496.89 820.5 496.67 821 496.46 821.5 496.23 822 496.02 822.5 495.86 823 495.68 823.5 495.49 824 495.34 824.5 495.23 825 495.06 825.5 494.87 826 494.73 826.5 494.57 827 494.4 827.5 494.24 828 494.07 828.5 493.86 829 493.64 829.5 493.42 830 493.18 830.5 492.88 831 492.59 831.5 492.27 832 491.9 832.5 491.49 833 491 833.5 490.44 834 489.88 834.5 489.31 835 488.68 835.5 487.95 836 487.15 836.5 486.36 837 485.5 837.5 484.58 838 483.63 838.5 482.62 839 481.61 839.5 480.59 840 479.53 840.5 478.45 841 477.38 841.5 476.31 842 475.23 842.5 474.19 843 473.12 843.5 472.03 844 470.94 844.5 469.81 845 468.66 845.5 467.54 846 466.41 846.5 465.2 847 463.92 847.5 462.61 848 461.26 848.5 459.88 849 458.46 849.5 457.04 850 455.62 850.5 454.13 851 452.58 851.5 451.01 852 449.42 852.5 447.78 853 446.15 853.5 444.49 854 442.81 854.5 441.13 855 439.44 855.5 437.75 856 436.04 856.5 434.3 857 432.54 857.5 430.76 858 429.01 858.5 427.3 859 425.62 859.5 423.96 860 422.3 860.5 420.65 861 419.02 861.5 417.42 862 415.86 862.5 414.36 863 412.88 863.5 411.43 864 410.06 864.5 408.73 865 407.43 865.5 406.2 866 405.03 866.5 403.87 867 402.77 867.5 401.77 868 400.87 868.5 399.98 869 399.12 869.5 398.37 870 397.71 870.5 397.08 871 396.5 871.5 396.04 872 395.66 872.5 395.33 873 395.05 873.5 394.88 874 394.84 874.5 394.83 875 394.92 875.5 395.16 876 395.52 876.5 395.98 877 396.62 877.5 397.45 878 398.45 878.5 399.67 879 401.18 879.5 402.95 880 404.91 880.5 407.07 881 409.49 881.5 412.15 882 415.05 882.5 418.15 883 421.42 883.5 424.9 884 428.52 884.5 432.25 885 436.14 885.5 440.17 886 444.3 886.5 448.54 887 452.88 887.5 457.27 888 461.74 888.5 466.28 889 470.82 889.5 475.35 890 479.87 890.5 484.42 891 488.96 891.5 493.48 892 498.01 892.5 502.52 893 506.92 893.5 511.25 894 515.47 894.5 519.55 895 523.55 895.5 527.45 896 531.27 896.5 534.95 897 538.53 897.5 542.06 898 545.49 898.5 548.82 899 552.03 899.5 555.13 900 558.18 900.5 561.08 901 563.84 901.5 566.52 902 569.07 902.5 571.53 903 573.92 903.5 576.21 904 578.41 904.5 580.54 905 582.57 905.5 584.5 906 586.38 906.5 588.21 907 589.95 907.5 591.64 908 593.27 908.5 594.84 909 596.39 909.5 597.85 910 599.24 910.5 600.59 911 601.87 911.5 603.11 912 604.32 912.5 605.46 913 606.57 913.5 607.64 914 608.64 914.5 609.61 915 610.56 915.5 611.49 916 612.33 916.5 613.12 917 613.89 917.5 614.63 918 615.36 918.5 616.06 919 616.68 919.5 617.26 920 617.85 920.5 618.38 921 618.86 921.5 619.33 922 619.76 922.5 620.15 923 620.53 923.5 620.92 924 621.28 924.5 621.59 925 621.89 925.5 622.14 926 622.39 926.5 622.65 927 622.92 927.5 623.19 928 623.43 928.5 623.63 929 623.84 929.5 624.07 930 624.27 930.5 624.44 931 624.63 931.5 624.82 932 625.01 932.5 625.22 933 625.45 933.5 625.66 934 625.87 934.5 626.1 935 626.33 935.5 626.55 936 626.76 936.5 626.99 937 627.23 937.5 627.5 938 627.74 938.5 627.96 939 628.19 939.5 628.42 940 628.68 940.5 628.99 941 629.26 941.5 629.5 942 629.72 942.5 629.94 943 630.19 943.5 630.44 944 630.72 944.5 630.98 945 631.19 945.5 631.39 946 631.58 946.5 631.79 947 632.03 947.5 632.23 948 632.39 948.5 632.57 949 632.75 949.5 632.96 950 633.14 950.5 633.26 951 633.37 951.5 633.53 952 633.73 952.5 633.88 953 633.99 953.5 634.12 954 634.27 954.5 634.41 955 634.53 955.5 634.64 956 634.74 956.5 634.83 957 634.92 957.5 635.02 958 635.12 958.5 635.23 959 635.34 959.5 635.45 960 635.52 960.5 635.59 961 635.68 961.5 635.75 962 635.8 962.5 635.9 963 636 963.5 636.07 964 636.14 964.5 636.22 965 636.26 965.5 636.27 966 636.32 966.5 636.42 967 636.52 967.5 636.59 968 636.66 968.5 636.75 969 636.94 969.5 637.33" stroke="#ff40ff" stroke-width="1.35" fill="none"/>
<path d="M639 600.24 639.5 600.15 640 600.25 640.5 600.37 641 600.25 641.5 600.02 642 599.96 642.5 599.98 643 599.93 643.5 599.75 644 599.49 644.5 599.36 645 599.43 645.5 599.56 646 599.54 646.5 599.44 647 599.3 647.5 599.14 648 599.05 648.5 599.2 649 599.31 649.5 599.12 650 599.09 650.5 599.13 651 598.86 651.5 598.77 652 599.01 652.5 599.01 653 598.82 653.5 598.92 654 598.9 654.5 598.7 655 598.72 655.5 598.73 656 598.75 656.5 598.71 657 598.43 657.5 598.4 658 598.52 658.5 598.42 659 598.37 659.5 598.54 660 598.55 660.5 598.33 661 598.21 661.5 598.16 662 598.19 662.5 598.3 663 598.25 663.5 598.09 664 598.14 664.5 598.1 665 597.87 665.5 597.77 666 597.78 666.5 597.9 667 598.11 667.5 598.05 668 597.86 668.5 597.88 669 597.82 669.5 597.75 670 597.85 670.5 597.75 671 597.54 671.5 597.55 672 597.7 672.5 597.87 673 597.98 673.5 597.9 674 597.62 674.5 597.53 675 597.64 675.5 597.53 676 597.48 676.5 597.54 677 597.37 677.5 597.32 678 597.45 678.5 597.57 679 597.6 679.5 597.39 680 597.27 680.5 597.33 681 597.21 681.5 597.12 682 597.18 682.5 597.3 683 597.35 683.5 597.27 684 597.33 684.5 597.27 685 596.99 685.5 597.03 686 597.21 686.5 597.04 687 596.86 687.5 596.97 688 597.12 688.5 597.17 689 597.24 689.5 597.23 690 596.99 690.5 596.94 691 597.04 691.5 596.99 692 596.93 692.5 596.81 693 596.69 693.5 596.76 694 596.87 694.5 596.77 695 596.64 695.5 596.67 696 596.65 696.5 596.6 697 596.7 697.5 596.89 698 596.89 698.5 596.77 699 596.85 699.5 596.95 700 596.83 700.5 596.63 701 596.6 701.5 596.81 702 596.81 702.5 596.55 703 596.56 703.5 596.74 704 596.71 704.5 596.54 705 596.41 705.5 596.42 706 596.59 706.5 596.74 707 596.8 707.5 596.69 708 596.58 708.5 596.51 709 596.42 709.5 596.49 710 596.48 710.5 596.31 711 596.26 711.5 596.24 712 596.21 712.5 596.2 713 596.17 713.5 596.2 714 596.22 714.5 596.17 715 596.14 715.5 596.13 716 596.11 716.5 596.07 717 596.06 717.5 596.02 718 595.9 718.5 595.92 719 596.04 719.5 595.94 720 595.87 720.5 596.01 721 596.09 721.5 596.02 722 595.85 722.5 595.73 723 595.79 723.5 595.81 724 595.77 724.5 595.59 725 595.48 725.5 595.51 726 595.44 726.5 595.37 727 595.28 727.5 595.12 728 595.11 728.5 595.15 729 595.11 729.5 595.13 730 595.1 730.5 594.87 731 594.72 731.5 594.76 732 594.85 732.5 594.79 733 594.58 733.5 594.46 734 594.37 734.5 594.27 735 594.27 735.5 594.24 736 594.15 736.5 594.17 737 594.16 737.5 593.98 738 593.76 738.5 593.63 739 593.55 739.5 593.32 740 593.15 740.5 592.98 741 592.84 741.5 592.74 742 592.53 742.5 592.38 743 592.24 743.5 591.93 744 591.63 744.5 591.41 745 591.19 745.5 590.93 746 590.6 746.5 590.34 747 590.09 747.5 589.71 748 589.32 748.5 589.03 749 588.84 749.5 588.6 750 588.25 750.5 587.79 751 587.35 751.5 586.99 752 586.56 752.5 586.18 753 585.89 753.5 585.49 754 584.98 754.5 584.51 755 584.12 755.5 583.83 756 583.48 756.5 583.02 757 582.57 757.5 582.12 758 581.73 758.5 581.38 759 581.01 759.5 580.64 760 580.21 760.5 579.66 761 579.21 761.5 578.92 762 578.62 762.5 578.15 763 577.6 763.5 577.14 764 576.77 764.5 576.39 765 575.97 765.5 575.55 766 575.22 766.5 574.86 767 574.41 767.5 573.98 768 573.49 768.5 573.03 769 572.72 769.5 572.35 770 571.89 770.5 571.43 771 570.96 771.5 570.55 772 570.13 772.5 569.65 773 569.13 773.5 568.64 774 568.19 774.5 567.69 775 567.23 775.5 566.79 776 566.25 776.5 565.63 777 565.06 777.5 564.52 778 563.95 778.5 563.43 779 562.81 779.5 562.15 780 561.57 780.5 560.96 781 560.31 781.5 559.66 782 558.96 782.5 558.3 783 557.65 783.5 556.92 784 556.21 784.5 555.48 785 554.71 785.5 553.94 786 553.21 786.5 552.49 787 551.68 787.5 550.85 788 550.03 788.5 549.19 789 548.35 789.5 547.47 790 546.56 790.5 545.63 791 544.69 791.5 543.76 792 542.84 792.5 541.88 793 540.87 793.5 539.89 794 538.92 794.5 537.94 795 536.95 795.5 535.92 796 534.85 796.5 533.72 797 532.63 797.5 531.61 798 530.55 798.5 529.42 799 528.27 799.5 527.16 800 526.06 800.5 524.98 801 523.92 801.5 522.85 802 521.75 802.5 520.65 803 519.59 803.5 518.57 804 517.55 804.5 516.5 805 515.48 805.5 514.5 806 513.56 806.5 512.64 807 511.75 807.5 510.87 808 509.98 808.5 509.11 809 508.28 809.5 507.5 810 506.79 810.5 506.06 811 505.34 811.5 504.69 812 504.04 812.5 503.44 813 502.89 813.5 502.33 814 501.82 814.5 501.39 815 500.94 815.5 500.5 816 500.13 816.5 499.8 817 499.49 817.5 499.19 818 498.91 818.5 498.63 819 498.38 819.5 498.18 820 498 820.5 497.83 821 497.68 821.5 497.53 822 497.35 822.5 497.19 823 497.07 823.5 496.95 824 496.82 824.5 496.68 825 496.54 825.5 496.43 826 496.3 826.5 496.15 827 495.98 827.5 495.82 828 495.66 828.5 495.46 829 495.23 829.5 494.97 830 494.71 830.5 494.41 831 494.07 831.5 493.73 832 493.33 832.5 492.84 833 492.31 833.5 491.78 834 491.23 834.5 490.62 835 489.93 835.5 489.19 836 488.43 836.5 487.59 837 486.7 837.5 485.79 838 484.84 838.5 483.86 839 482.86 839.5 481.85 840 480.81 840.5 479.76 841 478.68 841.5 477.58 842 476.52 842.5 475.49 843 474.42 843.5 473.3 844 472.18 844.5 471.07 845 469.95 845.5 468.8 846 467.62 846.5 466.41 847 465.18 847.5 463.92 848 462.6 848.5 461.28 849 459.96 849.5 458.61 850 457.23 850.5 455.82 851 454.34 851.5 452.87 852 451.41 852.5 449.91 853 448.4 853.5 446.87 854 445.3 854.5 443.7 855 442.1 855.5 440.51 856 438.9 856.5 437.25 857 435.61 857.5 433.96 858 432.28 858.5 430.56 859 428.87 859.5 427.19 860 425.52 860.5 423.87 861 422.25 861.5 420.64 862 419.02 862.5 417.44 863 415.89 863.5 414.37 864 412.87 864.5 411.45 865 410.12 865.5 408.85 866 407.6 866.5 406.39 867 405.27 867.5 404.23 868 403.25 868.5 402.34 869 401.49 869.5 400.73 870 400.04 870.5 399.39 871 398.82 871.5 398.35 872 398.01 872.5 397.74 873 397.55 873.5 397.46 874 397.45 874.5 397.54 875 397.73 875.5 398.05 876 398.46 876.5 399.02 877 399.77 877.5 400.67 878 401.72 878.5 402.96 879 404.41 879.5 406.11 880 408.01 880.5 410.13 881 412.49 881.5 415.07 882 417.87 882.5 420.91 883 424.16 883.5 427.6 884 431.25 884.5 435.1 885 439.08 885.5 443.19 886 447.42 886.5 451.75 887 456.19 887.5 460.66 888 465.14 888.5 469.63 889 474.1 889.5 478.52 890 482.94 890.5 487.31 891 491.62 891.5 495.94 892 500.25 892.5 504.46 893 508.55 893.5 512.57 894 516.5 894.5 520.33 895 524.08 895.5 527.72 896 531.28 896.5 534.8 897 538.26 897.5 541.63 898 544.92 898.5 548.14 899 551.26 899.5 554.35 900 557.38 900.5 560.28 901 563.06 901.5 565.77 902 568.4 902.5 570.89 903 573.27 903.5 575.57 904 577.79 904.5 579.96 905 582.04 905.5 584 906 585.88 906.5 587.72 907 589.51 907.5 591.23 908 592.87 908.5 594.43 909 595.94 909.5 597.42 910 598.83 910.5 600.16 911 601.46 911.5 602.73 912 603.91 912.5 605.03 913 606.12 913.5 607.18 914 608.21 914.5 609.42 915 610.53 915.5 611.54 916 612.44 916.5 613.3 917 614.1 917.5 614.84 918 615.53 918.5 616.17 919 616.76 919.5 617.29 920 617.81 920.5 618.31 921 618.74 921.5 619.16 922 619.59 922.5 620.01 923 620.4 923.5 620.77 924 621.16 924.5 621.53 925 621.86 925.5 622.17 926 622.52 926.5 622.9 927 623.25 927.5 623.58 928 623.9 928.5 624.22 929 624.49 929.5 624.77 930 625.09 930.5 625.4 931 625.69 931.5 625.98 932 626.29 932.5 626.56 933 626.77 933.5 627.02 934 627.29 934.5 627.53 935 627.79 935.5 628.03 936 628.21 936.5 628.4 937 628.64 937.5 628.87 938 629.05 938.5 629.24 939 629.43 939.5 629.6 940 629.77 940.5 629.98 941 630.16 941.5 630.3 942 630.46 942.5 630.64 943 630.82 943.5 631 944 631.18 944.5 631.34 945 631.46 945.5 631.61 946 631.75 946.5 631.88 947 632.02 947.5 632.17 948 632.32 948.5 632.48 949 632.63 949.5 632.76 950 632.88 950.5 633 951 633.09 951.5 633.19 952 633.33 952.5 633.47 953 633.59 953.5 633.72 954 633.83 954.5 633.93 955 634.02 955.5 634.12 956 634.25 956.5 634.39 957 634.53 957.5 634.65 958 634.77 958.5 634.87 959 634.97 959.5 635.07 960 635.18 960.5 635.31 961 635.42 961.5 635.56 962 635.69 962.5 635.78 963 635.86 963.5 635.99 964 636.14 964.5 636.26 965 636.37 965.5 636.47 966 636.55 966.5 636.65 967 636.76 967.5 636.88 968 637 968.5 636.98 969 636.97 969.5 636.98" stroke="#ffff30" stroke-width="1.35" fill="none"/>
<path d="M638.4 388.2V638.2M638.4 638.2H969.6" stroke="#1e1e1e" stroke-width="1.3" fill="none"/>
<path d="M633.2 638.2H638.4M633.2 589.22H638.4M633.2 540.24H638.4M633.2 491.26H638.4M633.2 442.28H638.4M633.2 393.3H638.4M635.4 613.71H638.4M635.4 564.73H638.4M635.4 515.75H638.4M635.4 466.77H638.4M635.4 417.79H638.4M638.5 638.2V643.4M693.68 638.2V643.4M748.87 638.2V643.4M804.05 638.2V643.4M859.24 638.2V643.4M914.42 638.2V643.4M969.61 638.2V643.4M666.09 638.2V641.2M721.28 638.2V641.2M776.46 638.2V641.2M831.65 638.2V641.2M886.83 638.2V641.2M942.02 638.2V641.2" stroke="#1e1e1e" stroke-width="1.3" fill="none"/>
<text x="629.8" y="643.9" text-anchor="end">0.0</text>
<text x="629.8" y="594.92" text-anchor="end">0.<tspan class="h">1</tspan></text>
<text x="629.8" y="545.94" text-anchor="end">0.2</text>
<text x="629.8" y="496.96" text-anchor="end">0.3</text>
<text x="629.8" y="447.98" text-anchor="end">0.4</text>
<text x="629.8" y="399" text-anchor="end">0.5</text>
<text x="638.5" y="661.7" text-anchor="middle">450</text>
<text x="693.68" y="661.7" text-anchor="middle">500</text>
<text x="748.87" y="661.7" text-anchor="middle">550</text>
<text x="804.05" y="661.7" text-anchor="middle">600</text>
<text x="859.24" y="661.7" text-anchor="middle">650</text>
<text x="914.42" y="661.7" text-anchor="middle">700</text>
<text x="969.61" y="661.7" text-anchor="middle">750</text>
<text x="804" y="682.8" text-anchor="middle" style="font-size:20px">Wavelength (nm)</text>
<text transform="translate(581.3 519) rotate(-90)" x="0" y="0" text-anchor="middle" style="font-size:20px">Absorbance (AU)</text>
<rect x="904.2" y="362" width="106.8" height="170" fill="none" stroke="#444" stroke-width="1.1"/>
<path d="M906.1 374.3H950.7" stroke="#3a3a3a" stroke-width="1.35"/>
<text x="955.9" y="381">00min</text>
<path d="M906.1 398.8H950.7" stroke="#ff4040" stroke-width="1.35"/>
<text x="955.9" y="405.5"><tspan class="h">1</tspan>0min</text>
<path d="M906.1 423.3H950.7" stroke="#3af03a" stroke-width="1.35"/>
<text x="955.9" y="430">20min</text>
<path d="M906.1 447.8H950.7" stroke="#4040ff" stroke-width="1.35"/>
<text x="955.9" y="454.5">30min</text>
<path d="M906.1 472.3H950.7" stroke="#30ffff" stroke-width="1.35"/>
<text x="955.9" y="479">40min</text>
<path d="M906.1 496.8H950.7" stroke="#ff40ff" stroke-width="1.35"/>
<text x="955.9" y="503.5">50min</text>
<path d="M906.1 521.3H950.7" stroke="#ffff30" stroke-width="1.35"/>
<text x="955.9" y="528">60min</text>
</g>
<path transform="matrix(1 0 0 1 0 0) translate(60.275 254.300) scale(0.009766 -0.009766)" d="M763 0L583 0L583 1147Q518 1085 412.5 1023Q307 961 223 930L223 1104Q374 1175 487 1276Q600 1377 647 1472L763 1472Z"/>
<path transform="matrix(1 0 0 1 0 0) translate(410.900 65.750) scale(0.009766 -0.009766)" d="M763 0L583 0L583 1147Q518 1085 412.5 1023Q307 961 223 930L223 1104Q374 1175 487 1276Q600 1377 647 1472L763 1472Z"/>
<path transform="matrix(1 0 0 1 0 0) translate(617.575 248.400) scale(0.009766 -0.009766)" d="M763 0L583 0L583 1147Q518 1085 412.5 1023Q307 961 223 930L223 1104Q374 1175 487 1276Q600 1377 647 1472L763 1472Z"/>
<path transform="matrix(1 0 0 1 0 0) translate(60.075 591.800) scale(0.009766 -0.009766)" d="M763 0L583 0L583 1147Q518 1085 412.5 1023Q307 961 223 930L223 1104Q374 1175 487 1276Q600 1377 647 1472L763 1472Z"/>
<path transform="matrix(1 0 0 1 0 0) translate(398.500 398.200) scale(0.009766 -0.009766)" d="M763 0L583 0L583 1147Q518 1085 412.5 1023Q307 961 223 930L223 1104Q374 1175 487 1276Q600 1377 647 1472L763 1472Z"/>
<path transform="matrix(1 0 0 1 0 0) translate(618.675 594.920) scale(0.009766 -0.009766)" d="M763 0L583 0L583 1147Q518 1085 412.5 1023Q307 961 223 930L223 1104Q374 1175 487 1276Q600 1377 647 1472L763 1472Z"/>
<path transform="matrix(1 0 0 1 0 0) translate(955.900 405.500) scale(0.009766 -0.009766)" d="M763 0L583 0L583 1147Q518 1085 412.5 1023Q307 961 223 930L223 1104Q374 1175 487 1276Q600 1377 647 1472L763 1472Z"/>
</svg>
</body></html>
